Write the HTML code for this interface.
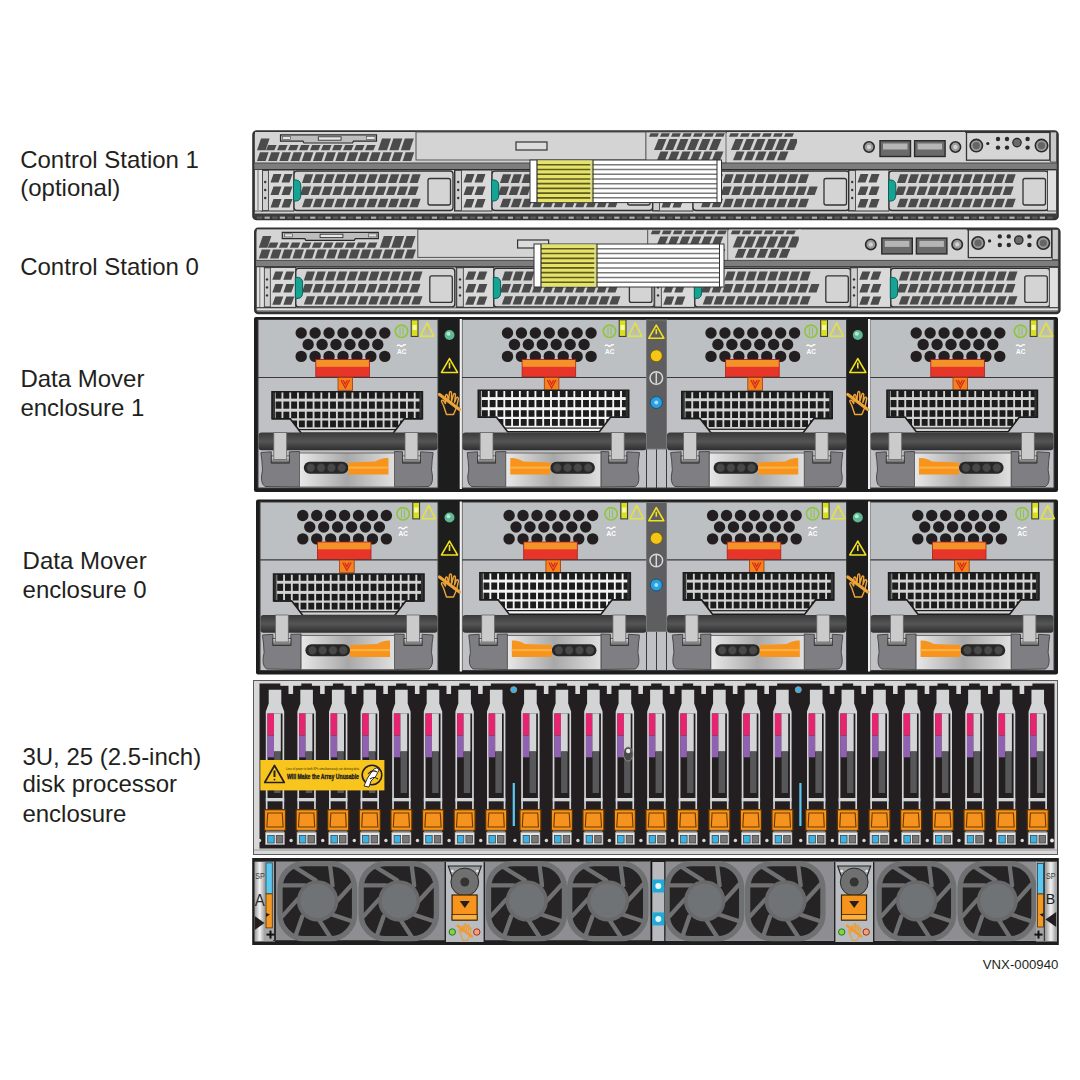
<!DOCTYPE html>
<html><head><meta charset="utf-8"><style>
html,body{margin:0;padding:0;background:#fff;}
svg{display:block;font-family:"Liberation Sans",sans-serif;}
</style></head><body>
<svg width="1080" height="1080" viewBox="0 0 1080 1080">
<defs>
<linearGradient id="rodg" x1="0" y1="0" x2="0" y2="1"><stop offset="0" stop-color="#3a3a3a"/><stop offset="0.5" stop-color="#555"/><stop offset="1" stop-color="#2e2e2e"/></linearGradient>
<linearGradient id="panelg" x1="0" y1="0" x2="1" y2="0"><stop offset="0" stop-color="#e8e8e8"/><stop offset="0.5" stop-color="#a8a8a8"/><stop offset="1" stop-color="#e0e0e0"/></linearGradient>
<linearGradient id="tabg" x1="0" y1="0" x2="0" y2="1"><stop offset="0" stop-color="#f0f0f0"/><stop offset="1" stop-color="#555"/></linearGradient>
<linearGradient id="metalg" x1="0" y1="0" x2="1" y2="0"><stop offset="0" stop-color="#9a9a9a"/><stop offset="0.5" stop-color="#f2f2f2"/><stop offset="1" stop-color="#a0a0a0"/></linearGradient>
</defs>
<text x="20.2" y="167.6" font-size="24" fill="#231f20">Control Station 1</text>
<text x="20.2" y="195.8" font-size="24" fill="#231f20">(optional)</text>
<text x="20.2" y="275.3" font-size="24" fill="#231f20">Control Station 0</text>
<text x="20.4" y="386.6" font-size="24" fill="#231f20">Data Mover</text>
<text x="20.4" y="415.8" font-size="24" fill="#231f20">enclosure 1</text>
<text x="22.6" y="569.3" font-size="24" fill="#231f20">Data Mover</text>
<text x="22.6" y="597.6" font-size="24" fill="#231f20">enclosure 0</text>
<text x="22.4" y="765" font-size="24" fill="#231f20">3U, 25 (2.5-inch)</text>
<text x="22.4" y="792" font-size="24" fill="#231f20">disk processor</text>
<text x="22.4" y="821.5" font-size="24" fill="#231f20">enclosure</text>
<text x="982.8" y="969.1" font-size="13.2" fill="#231f20" textLength="75.5" lengthAdjust="spacingAndGlyphs">VNX-000940</text>
<rect x="253.5" y="131.5" width="804" height="87.5" fill="#d4d4d4" stroke="#333" stroke-width="2.6" rx="3"/>
<rect x="254.5" y="213.5" width="802" height="5" fill="#3c3c3c"/>
<rect x="257" y="216.6" width="5.2" height="2.2" fill="#5e5e5e"/>
<rect x="264.6" y="216.6" width="5.2" height="2.2" fill="#b0b0b0"/>
<rect x="272.2" y="216.6" width="5.2" height="2.2" fill="#5e5e5e"/>
<rect x="279.8" y="216.6" width="5.2" height="2.2" fill="#b0b0b0"/>
<rect x="287.4" y="216.6" width="5.2" height="2.2" fill="#5e5e5e"/>
<rect x="295" y="216.6" width="5.2" height="2.2" fill="#b0b0b0"/>
<rect x="302.6" y="216.6" width="5.2" height="2.2" fill="#5e5e5e"/>
<rect x="310.2" y="216.6" width="5.2" height="2.2" fill="#b0b0b0"/>
<rect x="317.8" y="216.6" width="5.2" height="2.2" fill="#5e5e5e"/>
<rect x="325.4" y="216.6" width="5.2" height="2.2" fill="#b0b0b0"/>
<rect x="333" y="216.6" width="5.2" height="2.2" fill="#5e5e5e"/>
<rect x="340.6" y="216.6" width="5.2" height="2.2" fill="#b0b0b0"/>
<rect x="348.2" y="216.6" width="5.2" height="2.2" fill="#5e5e5e"/>
<rect x="355.8" y="216.6" width="5.2" height="2.2" fill="#b0b0b0"/>
<rect x="363.4" y="216.6" width="5.2" height="2.2" fill="#5e5e5e"/>
<rect x="371" y="216.6" width="5.2" height="2.2" fill="#b0b0b0"/>
<rect x="378.6" y="216.6" width="5.2" height="2.2" fill="#5e5e5e"/>
<rect x="386.2" y="216.6" width="5.2" height="2.2" fill="#b0b0b0"/>
<rect x="393.8" y="216.6" width="5.2" height="2.2" fill="#5e5e5e"/>
<rect x="401.4" y="216.6" width="5.2" height="2.2" fill="#b0b0b0"/>
<rect x="409" y="216.6" width="5.2" height="2.2" fill="#5e5e5e"/>
<rect x="416.6" y="216.6" width="5.2" height="2.2" fill="#b0b0b0"/>
<rect x="424.2" y="216.6" width="5.2" height="2.2" fill="#5e5e5e"/>
<rect x="431.8" y="216.6" width="5.2" height="2.2" fill="#b0b0b0"/>
<rect x="439.4" y="216.6" width="5.2" height="2.2" fill="#5e5e5e"/>
<rect x="447" y="216.6" width="5.2" height="2.2" fill="#b0b0b0"/>
<rect x="454.6" y="216.6" width="5.2" height="2.2" fill="#5e5e5e"/>
<rect x="462.2" y="216.6" width="5.2" height="2.2" fill="#b0b0b0"/>
<rect x="469.8" y="216.6" width="5.2" height="2.2" fill="#5e5e5e"/>
<rect x="477.4" y="216.6" width="5.2" height="2.2" fill="#b0b0b0"/>
<rect x="485" y="216.6" width="5.2" height="2.2" fill="#5e5e5e"/>
<rect x="492.6" y="216.6" width="5.2" height="2.2" fill="#b0b0b0"/>
<rect x="500.2" y="216.6" width="5.2" height="2.2" fill="#5e5e5e"/>
<rect x="507.8" y="216.6" width="5.2" height="2.2" fill="#b0b0b0"/>
<rect x="515.4" y="216.6" width="5.2" height="2.2" fill="#5e5e5e"/>
<rect x="523" y="216.6" width="5.2" height="2.2" fill="#b0b0b0"/>
<rect x="530.6" y="216.6" width="5.2" height="2.2" fill="#5e5e5e"/>
<rect x="538.2" y="216.6" width="5.2" height="2.2" fill="#b0b0b0"/>
<rect x="545.8" y="216.6" width="5.2" height="2.2" fill="#5e5e5e"/>
<rect x="553.4" y="216.6" width="5.2" height="2.2" fill="#b0b0b0"/>
<rect x="561" y="216.6" width="5.2" height="2.2" fill="#5e5e5e"/>
<rect x="568.6" y="216.6" width="5.2" height="2.2" fill="#b0b0b0"/>
<rect x="576.2" y="216.6" width="5.2" height="2.2" fill="#5e5e5e"/>
<rect x="583.8" y="216.6" width="5.2" height="2.2" fill="#b0b0b0"/>
<rect x="591.4" y="216.6" width="5.2" height="2.2" fill="#5e5e5e"/>
<rect x="599" y="216.6" width="5.2" height="2.2" fill="#b0b0b0"/>
<rect x="606.6" y="216.6" width="5.2" height="2.2" fill="#5e5e5e"/>
<rect x="614.2" y="216.6" width="5.2" height="2.2" fill="#b0b0b0"/>
<rect x="621.8" y="216.6" width="5.2" height="2.2" fill="#5e5e5e"/>
<rect x="629.4" y="216.6" width="5.2" height="2.2" fill="#b0b0b0"/>
<rect x="637" y="216.6" width="5.2" height="2.2" fill="#5e5e5e"/>
<rect x="644.6" y="216.6" width="5.2" height="2.2" fill="#b0b0b0"/>
<rect x="652.2" y="216.6" width="5.2" height="2.2" fill="#5e5e5e"/>
<rect x="659.8" y="216.6" width="5.2" height="2.2" fill="#b0b0b0"/>
<rect x="667.4" y="216.6" width="5.2" height="2.2" fill="#5e5e5e"/>
<rect x="675" y="216.6" width="5.2" height="2.2" fill="#b0b0b0"/>
<rect x="682.6" y="216.6" width="5.2" height="2.2" fill="#5e5e5e"/>
<rect x="690.2" y="216.6" width="5.2" height="2.2" fill="#b0b0b0"/>
<rect x="697.8" y="216.6" width="5.2" height="2.2" fill="#5e5e5e"/>
<rect x="705.4" y="216.6" width="5.2" height="2.2" fill="#b0b0b0"/>
<rect x="713" y="216.6" width="5.2" height="2.2" fill="#5e5e5e"/>
<rect x="720.6" y="216.6" width="5.2" height="2.2" fill="#b0b0b0"/>
<rect x="728.2" y="216.6" width="5.2" height="2.2" fill="#5e5e5e"/>
<rect x="735.8" y="216.6" width="5.2" height="2.2" fill="#b0b0b0"/>
<rect x="743.4" y="216.6" width="5.2" height="2.2" fill="#5e5e5e"/>
<rect x="751" y="216.6" width="5.2" height="2.2" fill="#b0b0b0"/>
<rect x="758.6" y="216.6" width="5.2" height="2.2" fill="#5e5e5e"/>
<rect x="766.2" y="216.6" width="5.2" height="2.2" fill="#b0b0b0"/>
<rect x="773.8" y="216.6" width="5.2" height="2.2" fill="#5e5e5e"/>
<rect x="781.4" y="216.6" width="5.2" height="2.2" fill="#b0b0b0"/>
<rect x="789" y="216.6" width="5.2" height="2.2" fill="#5e5e5e"/>
<rect x="796.6" y="216.6" width="5.2" height="2.2" fill="#b0b0b0"/>
<rect x="804.2" y="216.6" width="5.2" height="2.2" fill="#5e5e5e"/>
<rect x="811.8" y="216.6" width="5.2" height="2.2" fill="#b0b0b0"/>
<rect x="819.4" y="216.6" width="5.2" height="2.2" fill="#5e5e5e"/>
<rect x="827" y="216.6" width="5.2" height="2.2" fill="#b0b0b0"/>
<rect x="834.6" y="216.6" width="5.2" height="2.2" fill="#5e5e5e"/>
<rect x="842.2" y="216.6" width="5.2" height="2.2" fill="#b0b0b0"/>
<rect x="849.8" y="216.6" width="5.2" height="2.2" fill="#5e5e5e"/>
<rect x="857.4" y="216.6" width="5.2" height="2.2" fill="#b0b0b0"/>
<rect x="865" y="216.6" width="5.2" height="2.2" fill="#5e5e5e"/>
<rect x="872.6" y="216.6" width="5.2" height="2.2" fill="#b0b0b0"/>
<rect x="880.2" y="216.6" width="5.2" height="2.2" fill="#5e5e5e"/>
<rect x="887.8" y="216.6" width="5.2" height="2.2" fill="#b0b0b0"/>
<rect x="895.4" y="216.6" width="5.2" height="2.2" fill="#5e5e5e"/>
<rect x="903" y="216.6" width="5.2" height="2.2" fill="#b0b0b0"/>
<rect x="910.6" y="216.6" width="5.2" height="2.2" fill="#5e5e5e"/>
<rect x="918.2" y="216.6" width="5.2" height="2.2" fill="#b0b0b0"/>
<rect x="925.8" y="216.6" width="5.2" height="2.2" fill="#5e5e5e"/>
<rect x="933.4" y="216.6" width="5.2" height="2.2" fill="#b0b0b0"/>
<rect x="941" y="216.6" width="5.2" height="2.2" fill="#5e5e5e"/>
<rect x="948.6" y="216.6" width="5.2" height="2.2" fill="#b0b0b0"/>
<rect x="956.2" y="216.6" width="5.2" height="2.2" fill="#5e5e5e"/>
<rect x="963.8" y="216.6" width="5.2" height="2.2" fill="#b0b0b0"/>
<rect x="971.4" y="216.6" width="5.2" height="2.2" fill="#5e5e5e"/>
<rect x="979" y="216.6" width="5.2" height="2.2" fill="#b0b0b0"/>
<rect x="986.6" y="216.6" width="5.2" height="2.2" fill="#5e5e5e"/>
<rect x="994.2" y="216.6" width="5.2" height="2.2" fill="#b0b0b0"/>
<rect x="1001.8" y="216.6" width="5.2" height="2.2" fill="#5e5e5e"/>
<rect x="1009.4" y="216.6" width="5.2" height="2.2" fill="#b0b0b0"/>
<rect x="1017" y="216.6" width="5.2" height="2.2" fill="#5e5e5e"/>
<rect x="1024.6" y="216.6" width="5.2" height="2.2" fill="#b0b0b0"/>
<rect x="1032.2" y="216.6" width="5.2" height="2.2" fill="#5e5e5e"/>
<rect x="1039.8" y="216.6" width="5.2" height="2.2" fill="#b0b0b0"/>
<rect x="1047.4" y="216.6" width="5.2" height="2.2" fill="#5e5e5e"/>
<rect x="255" y="132" width="161" height="31" fill="#d4d4d4"/>
<polygon points="260,152.2 268.6,152.2 265.6,161 257,161" fill="#4b4b4b"/>
<polygon points="271.2,152.2 279.8,152.2 276.8,161 268.2,161" fill="#4b4b4b"/>
<polygon points="282.4,152.2 291,152.2 288,161 279.4,161" fill="#4b4b4b"/>
<polygon points="293.6,152.2 302.2,152.2 299.2,161 290.6,161" fill="#4b4b4b"/>
<polygon points="304.8,152.2 313.4,152.2 310.4,161 301.8,161" fill="#4b4b4b"/>
<polygon points="316,152.2 324.6,152.2 321.6,161 313,161" fill="#4b4b4b"/>
<polygon points="327.2,152.2 335.8,152.2 332.8,161 324.2,161" fill="#4b4b4b"/>
<polygon points="338.4,152.2 347,152.2 344,161 335.4,161" fill="#4b4b4b"/>
<polygon points="349.6,152.2 358.2,152.2 355.2,161 346.6,161" fill="#4b4b4b"/>
<polygon points="360.8,152.2 369.4,152.2 366.4,161 357.8,161" fill="#4b4b4b"/>
<polygon points="372,152.2 380.6,152.2 377.6,161 369,161" fill="#4b4b4b"/>
<polygon points="383.2,152.2 391.8,152.2 388.8,161 380.2,161" fill="#4b4b4b"/>
<polygon points="394.4,152.2 403,152.2 400,161 391.4,161" fill="#4b4b4b"/>
<polygon points="405.6,152.2 414.2,152.2 411.2,161 402.6,161" fill="#4b4b4b"/>
<polygon points="268.2,145 276.6,145 274.4,150.3 266,150.3" fill="#4b4b4b"/>
<polygon points="279.2,145 287.6,145 285.4,150.3 277,150.3" fill="#4b4b4b"/>
<polygon points="290.2,145 298.6,145 296.4,150.3 288,150.3" fill="#4b4b4b"/>
<polygon points="301.2,145 309.6,145 307.4,150.3 299,150.3" fill="#4b4b4b"/>
<polygon points="312.2,145 320.6,145 318.4,150.3 310,150.3" fill="#4b4b4b"/>
<polygon points="323.2,145 331.6,145 329.4,150.3 321,150.3" fill="#4b4b4b"/>
<polygon points="334.2,145 342.6,145 340.4,150.3 332,150.3" fill="#4b4b4b"/>
<polygon points="345.2,145 353.6,145 351.4,150.3 343,150.3" fill="#4b4b4b"/>
<polygon points="356.2,145 364.6,145 362.4,150.3 354,150.3" fill="#4b4b4b"/>
<polygon points="367.2,145 375.6,145 373.4,150.3 365,150.3" fill="#4b4b4b"/>
<polygon points="261,138.6 269.6,138.6 265.6,150.3 257,150.3" fill="#4b4b4b"/>
<polygon points="382,138.6 391,138.6 387,150.3 378,150.3" fill="#4b4b4b"/>
<polygon points="393.4,138.6 402.4,138.6 398.4,150.3 389.4,150.3" fill="#4b4b4b"/>
<polygon points="404.8,138.6 413.8,138.6 409.8,150.3 400.8,150.3" fill="#4b4b4b"/>
<path d="M280.5,134.9 L376.5,134.9 L376.5,141.2 L353.5,141.2 L352.5,143 L304,143 L303,141.2 L280.5,141.2 Z" fill="#bdbdbd" stroke="#2a2a2a" stroke-width="1.2"/>
<rect x="282.5" y="136.5" width="8" height="3" fill="#e6e6e6" stroke="#444" stroke-width="0.6"/>
<rect x="366.5" y="136.5" width="8.5" height="3" fill="#e6e6e6" stroke="#444" stroke-width="0.6"/>
<rect x="318.3" y="136.8" width="22.8" height="3.4" fill="#e8e8e8" stroke="#333" stroke-width="0.9"/>
<rect x="416" y="132" width="230" height="28" fill="#d4d4d4" stroke="#555" stroke-width="1"/>
<rect x="516" y="142" width="31" height="8" fill="#dcdcdc" stroke="#333" stroke-width="1.2"/>
<rect x="646" y="132" width="80" height="31" fill="#d4d4d4" stroke="#555" stroke-width="0.8"/>
<rect x="727" y="132" width="72" height="31" fill="#d4d4d4"/>
<polygon points="650.5,133.2 658.9,133.2 657.4,136.8 649,136.8" fill="#4b4b4b"/>
<polygon points="661.5,133.2 669.9,133.2 668.4,136.8 660,136.8" fill="#4b4b4b"/>
<polygon points="672.5,133.2 680.9,133.2 679.4,136.8 671,136.8" fill="#4b4b4b"/>
<polygon points="683.5,133.2 691.9,133.2 690.4,136.8 682,136.8" fill="#4b4b4b"/>
<polygon points="694.5,133.2 702.9,133.2 701.4,136.8 693,136.8" fill="#4b4b4b"/>
<polygon points="705.5,133.2 713.9,133.2 712.4,136.8 704,136.8" fill="#4b4b4b"/>
<polygon points="716.5,133.2 724.9,133.2 723.4,136.8 715,136.8" fill="#4b4b4b"/>
<polygon points="658.5,139 666.5,139 662,150 654,150" fill="#4b4b4b"/>
<polygon points="669.5,139 677.5,139 673,150 665,150" fill="#4b4b4b"/>
<polygon points="680.5,139 688.5,139 684,150 676,150" fill="#4b4b4b"/>
<polygon points="691.5,139 699.5,139 695,150 687,150" fill="#4b4b4b"/>
<polygon points="702.5,139 710.5,139 706,150 698,150" fill="#4b4b4b"/>
<polygon points="713.5,139 721.5,139 717,150 709,150" fill="#4b4b4b"/>
<polygon points="660.5,151.6 668.5,151.6 665,160.3 657,160.3" fill="#4b4b4b"/>
<polygon points="671.5,151.6 679.5,151.6 676,160.3 668,160.3" fill="#4b4b4b"/>
<polygon points="682.5,151.6 690.5,151.6 687,160.3 679,160.3" fill="#4b4b4b"/>
<polygon points="693.5,151.6 701.5,151.6 698,160.3 690,160.3" fill="#4b4b4b"/>
<polygon points="704.5,151.6 712.5,151.6 709,160.3 701,160.3" fill="#4b4b4b"/>
<polygon points="715.5,151.6 723.5,151.6 720,160.3 712,160.3" fill="#4b4b4b"/>
<polygon points="730.5,133.2 738.9,133.2 737.4,136.8 729,136.8" fill="#4b4b4b"/>
<polygon points="741.5,133.2 749.9,133.2 748.4,136.8 740,136.8" fill="#4b4b4b"/>
<polygon points="752.5,133.2 760.9,133.2 759.4,136.8 751,136.8" fill="#4b4b4b"/>
<polygon points="763.5,133.2 771.9,133.2 770.4,136.8 762,136.8" fill="#4b4b4b"/>
<polygon points="774.5,133.2 782.9,133.2 781.4,136.8 773,136.8" fill="#4b4b4b"/>
<polygon points="785.5,133.2 793.9,133.2 792.4,136.8 784,136.8" fill="#4b4b4b"/>
<polygon points="735.5,139 743.5,139 739,150 731,150" fill="#4b4b4b"/>
<polygon points="746.5,139 754.5,139 750,150 742,150" fill="#4b4b4b"/>
<polygon points="757.5,139 765.5,139 761,150 753,150" fill="#4b4b4b"/>
<polygon points="768.5,139 776.5,139 772,150 764,150" fill="#4b4b4b"/>
<polygon points="779.5,139 787.5,139 783,150 775,150" fill="#4b4b4b"/>
<polygon points="790.5,139 798.5,139 794,150 786,150" fill="#4b4b4b"/>
<polygon points="736.5,151.6 744.5,151.6 741,160.3 733,160.3" fill="#4b4b4b"/>
<polygon points="747.5,151.6 755.5,151.6 752,160.3 744,160.3" fill="#4b4b4b"/>
<polygon points="758.5,151.6 766.5,151.6 763,160.3 755,160.3" fill="#4b4b4b"/>
<polygon points="769.5,151.6 777.5,151.6 774,160.3 766,160.3" fill="#4b4b4b"/>
<polygon points="780.5,151.6 788.5,151.6 785,160.3 777,160.3" fill="#4b4b4b"/>
<rect x="797" y="132" width="168" height="31" fill="#d4d4d4"/>
<circle cx="869" cy="147" r="5.2" fill="#9a9a9a" stroke="#2a2a2a" stroke-width="1.6"/>
<circle cx="869" cy="147" r="2.2" fill="#d0d0d0"/>
<circle cx="955.4" cy="147" r="5.2" fill="#9a9a9a" stroke="#2a2a2a" stroke-width="1.6"/>
<circle cx="955.4" cy="147" r="2.2" fill="#d0d0d0"/>
<rect x="880" y="140.7" width="30.5" height="15.8" fill="#6a6a6a" stroke="#2a2a2a" stroke-width="1.4"/>
<rect x="883" y="143.5" width="24.5" height="6" fill="#b5b5b5"/>
<rect x="914.6" y="140.7" width="30.5" height="15.8" fill="#6a6a6a" stroke="#2a2a2a" stroke-width="1.4"/>
<rect x="917.6" y="143.5" width="24.5" height="6" fill="#b5b5b5"/>
<rect x="966.5" y="132.4" width="83.3" height="27.8" fill="#d6d6d6" stroke="#333" stroke-width="1.3"/>
<circle cx="976.3" cy="145.6" r="6.2" fill="#9a9a9a" stroke="#2a2a2a" stroke-width="1.6"/>
<circle cx="976.3" cy="145.6" r="3.6" fill="#666"/>
<circle cx="1041.5" cy="145.6" r="6.2" fill="#9a9a9a" stroke="#2a2a2a" stroke-width="1.6"/>
<circle cx="1041.5" cy="145.6" r="3.6" fill="#666"/>
<circle cx="987.8" cy="143.5" r="1.6" fill="#222"/>
<circle cx="998" cy="139" r="2.2" fill="#2a2a2a"/>
<circle cx="998" cy="147.6" r="2.2" fill="#2a2a2a"/>
<circle cx="1007" cy="139" r="2.2" fill="#2a2a2a"/>
<circle cx="1007" cy="147.6" r="2.2" fill="#2a2a2a"/>
<circle cx="1027.6" cy="139" r="2.2" fill="#2a2a2a"/>
<circle cx="1027.6" cy="147.6" r="2.2" fill="#2a2a2a"/>
<circle cx="1017" cy="142.6" r="4.2" fill="#6a6a6a" stroke="#222" stroke-width="1.2"/>
<rect x="1050.5" y="132" width="6" height="30" fill="#c8c8c8" stroke="#444" stroke-width="0.8"/>
<rect x="254.5" y="163" width="802" height="6.5" fill="#7d7d7d"/>
<line x1="254.5" y1="163" x2="1056.5" y2="163" stroke="#4a4a4a" stroke-width="1"/>
<line x1="254.5" y1="169.5" x2="1056.5" y2="169.5" stroke="#2a2a2a" stroke-width="1.2"/>
<rect x="261.5" y="170" width="32.5" height="41" fill="#dadada" stroke="#333" stroke-width="1"/>
<rect x="262" y="170.5" width="6.5" height="40" fill="#cfcfcf" stroke="#333" stroke-width="0.8"/>
<circle cx="265.2" cy="182" r="1.2" fill="#333"/>
<circle cx="265.2" cy="190" r="1.2" fill="#333"/>
<circle cx="265.2" cy="198" r="1.2" fill="#333"/>
<polygon points="273.5,174 281.5,174 278.5,182.4 270.5,182.4" fill="#4b4b4b"/>
<polygon points="284.5,174 292.5,174 289.5,182.4 281.5,182.4" fill="#4b4b4b"/>
<polygon points="273.5,186.5 281.5,186.5 278.5,195 270.5,195" fill="#4b4b4b"/>
<polygon points="284.5,186.5 292.5,186.5 289.5,195 281.5,195" fill="#4b4b4b"/>
<polygon points="273.5,199 281.5,199 278.5,207.4 270.5,207.4" fill="#4b4b4b"/>
<polygon points="284.5,199 292.5,199 289.5,207.4 281.5,207.4" fill="#4b4b4b"/>
<rect x="294" y="171" width="159" height="39.5" fill="#d4d4d4" stroke="#2e2e2e" stroke-width="1.3" rx="3"/>
<polygon points="305,174.2 313.2,174.2 310.2,183 302,183" fill="#4b4b4b"/>
<polygon points="315.75,174.2 323.95,174.2 320.95,183 312.75,183" fill="#4b4b4b"/>
<polygon points="326.5,174.2 334.7,174.2 331.7,183 323.5,183" fill="#4b4b4b"/>
<polygon points="337.25,174.2 345.45,174.2 342.45,183 334.25,183" fill="#4b4b4b"/>
<polygon points="348,174.2 356.2,174.2 353.2,183 345,183" fill="#4b4b4b"/>
<polygon points="358.75,174.2 366.95,174.2 363.95,183 355.75,183" fill="#4b4b4b"/>
<polygon points="369.5,174.2 377.7,174.2 374.7,183 366.5,183" fill="#4b4b4b"/>
<polygon points="380.25,174.2 388.45,174.2 385.45,183 377.25,183" fill="#4b4b4b"/>
<polygon points="391,174.2 399.2,174.2 396.2,183 388,183" fill="#4b4b4b"/>
<polygon points="401.75,174.2 409.95,174.2 406.95,183 398.75,183" fill="#4b4b4b"/>
<polygon points="412.5,174.2 420.7,174.2 417.7,183 409.5,183" fill="#4b4b4b"/>
<polygon points="303,186.5 311.2,186.5 308.2,195 300,195" fill="#4b4b4b"/>
<polygon points="313.75,186.5 321.95,186.5 318.95,195 310.75,195" fill="#4b4b4b"/>
<polygon points="324.5,186.5 332.7,186.5 329.7,195 321.5,195" fill="#4b4b4b"/>
<polygon points="335.25,186.5 343.45,186.5 340.45,195 332.25,195" fill="#4b4b4b"/>
<polygon points="346,186.5 354.2,186.5 351.2,195 343,195" fill="#4b4b4b"/>
<polygon points="356.75,186.5 364.95,186.5 361.95,195 353.75,195" fill="#4b4b4b"/>
<polygon points="367.5,186.5 375.7,186.5 372.7,195 364.5,195" fill="#4b4b4b"/>
<polygon points="378.25,186.5 386.45,186.5 383.45,195 375.25,195" fill="#4b4b4b"/>
<polygon points="389,186.5 397.2,186.5 394.2,195 386,195" fill="#4b4b4b"/>
<polygon points="399.75,186.5 407.95,186.5 404.95,195 396.75,195" fill="#4b4b4b"/>
<polygon points="410.5,186.5 418.7,186.5 415.7,195 407.5,195" fill="#4b4b4b"/>
<polygon points="305,198.8 313.2,198.8 310.2,207.2 302,207.2" fill="#4b4b4b"/>
<polygon points="315.75,198.8 323.95,198.8 320.95,207.2 312.75,207.2" fill="#4b4b4b"/>
<polygon points="326.5,198.8 334.7,198.8 331.7,207.2 323.5,207.2" fill="#4b4b4b"/>
<polygon points="337.25,198.8 345.45,198.8 342.45,207.2 334.25,207.2" fill="#4b4b4b"/>
<polygon points="348,198.8 356.2,198.8 353.2,207.2 345,207.2" fill="#4b4b4b"/>
<polygon points="358.75,198.8 366.95,198.8 363.95,207.2 355.75,207.2" fill="#4b4b4b"/>
<polygon points="369.5,198.8 377.7,198.8 374.7,207.2 366.5,207.2" fill="#4b4b4b"/>
<polygon points="380.25,198.8 388.45,198.8 385.45,207.2 377.25,207.2" fill="#4b4b4b"/>
<polygon points="391,198.8 399.2,198.8 396.2,207.2 388,207.2" fill="#4b4b4b"/>
<polygon points="401.75,198.8 409.95,198.8 406.95,207.2 398.75,207.2" fill="#4b4b4b"/>
<polygon points="412.5,198.8 420.7,198.8 417.7,207.2 409.5,207.2" fill="#4b4b4b"/>
<rect x="428" y="178.5" width="22.5" height="26.5" fill="#d4d4d4" stroke="#333" stroke-width="1.3" rx="2"/>
<path d="M293.5,180 L296.5,180 Q300.8,180.5 300.8,186 L300.8,195 Q300.8,200.5 296.5,201 L293.5,201 Z" fill="#17a394" stroke="#0d5e57" stroke-width="1"/>
<rect x="454.5" y="170" width="37.5" height="41" fill="#dadada" stroke="#333" stroke-width="1"/>
<rect x="455" y="170.5" width="6.5" height="40" fill="#cfcfcf" stroke="#333" stroke-width="0.8"/>
<circle cx="458.2" cy="182" r="1.2" fill="#333"/>
<circle cx="458.2" cy="190" r="1.2" fill="#333"/>
<circle cx="458.2" cy="198" r="1.2" fill="#333"/>
<polygon points="466.5,174 474.5,174 471.5,182.4 463.5,182.4" fill="#4b4b4b"/>
<polygon points="477.5,174 485.5,174 482.5,182.4 474.5,182.4" fill="#4b4b4b"/>
<polygon points="466.5,186.5 474.5,186.5 471.5,195 463.5,195" fill="#4b4b4b"/>
<polygon points="477.5,186.5 485.5,186.5 482.5,195 474.5,195" fill="#4b4b4b"/>
<polygon points="466.5,199 474.5,199 471.5,207.4 463.5,207.4" fill="#4b4b4b"/>
<polygon points="477.5,199 485.5,199 482.5,207.4 474.5,207.4" fill="#4b4b4b"/>
<rect x="492" y="171" width="160.6" height="39.5" fill="#d4d4d4" stroke="#2e2e2e" stroke-width="1.3" rx="3"/>
<polygon points="503,174.2 511.2,174.2 508.2,183 500,183" fill="#4b4b4b"/>
<polygon points="513.75,174.2 521.95,174.2 518.95,183 510.75,183" fill="#4b4b4b"/>
<polygon points="524.5,174.2 532.7,174.2 529.7,183 521.5,183" fill="#4b4b4b"/>
<polygon points="535.25,174.2 543.45,174.2 540.45,183 532.25,183" fill="#4b4b4b"/>
<polygon points="546,174.2 554.2,174.2 551.2,183 543,183" fill="#4b4b4b"/>
<polygon points="556.75,174.2 564.95,174.2 561.95,183 553.75,183" fill="#4b4b4b"/>
<polygon points="567.5,174.2 575.7,174.2 572.7,183 564.5,183" fill="#4b4b4b"/>
<polygon points="578.25,174.2 586.45,174.2 583.45,183 575.25,183" fill="#4b4b4b"/>
<polygon points="589,174.2 597.2,174.2 594.2,183 586,183" fill="#4b4b4b"/>
<polygon points="599.75,174.2 607.95,174.2 604.95,183 596.75,183" fill="#4b4b4b"/>
<polygon points="610.5,174.2 618.7,174.2 615.7,183 607.5,183" fill="#4b4b4b"/>
<polygon points="501,186.5 509.2,186.5 506.2,195 498,195" fill="#4b4b4b"/>
<polygon points="511.75,186.5 519.95,186.5 516.95,195 508.75,195" fill="#4b4b4b"/>
<polygon points="522.5,186.5 530.7,186.5 527.7,195 519.5,195" fill="#4b4b4b"/>
<polygon points="533.25,186.5 541.45,186.5 538.45,195 530.25,195" fill="#4b4b4b"/>
<polygon points="544,186.5 552.2,186.5 549.2,195 541,195" fill="#4b4b4b"/>
<polygon points="554.75,186.5 562.95,186.5 559.95,195 551.75,195" fill="#4b4b4b"/>
<polygon points="565.5,186.5 573.7,186.5 570.7,195 562.5,195" fill="#4b4b4b"/>
<polygon points="576.25,186.5 584.45,186.5 581.45,195 573.25,195" fill="#4b4b4b"/>
<polygon points="587,186.5 595.2,186.5 592.2,195 584,195" fill="#4b4b4b"/>
<polygon points="597.75,186.5 605.95,186.5 602.95,195 594.75,195" fill="#4b4b4b"/>
<polygon points="608.5,186.5 616.7,186.5 613.7,195 605.5,195" fill="#4b4b4b"/>
<polygon points="503,198.8 511.2,198.8 508.2,207.2 500,207.2" fill="#4b4b4b"/>
<polygon points="513.75,198.8 521.95,198.8 518.95,207.2 510.75,207.2" fill="#4b4b4b"/>
<polygon points="524.5,198.8 532.7,198.8 529.7,207.2 521.5,207.2" fill="#4b4b4b"/>
<polygon points="535.25,198.8 543.45,198.8 540.45,207.2 532.25,207.2" fill="#4b4b4b"/>
<polygon points="546,198.8 554.2,198.8 551.2,207.2 543,207.2" fill="#4b4b4b"/>
<polygon points="556.75,198.8 564.95,198.8 561.95,207.2 553.75,207.2" fill="#4b4b4b"/>
<polygon points="567.5,198.8 575.7,198.8 572.7,207.2 564.5,207.2" fill="#4b4b4b"/>
<polygon points="578.25,198.8 586.45,198.8 583.45,207.2 575.25,207.2" fill="#4b4b4b"/>
<polygon points="589,198.8 597.2,198.8 594.2,207.2 586,207.2" fill="#4b4b4b"/>
<polygon points="599.75,198.8 607.95,198.8 604.95,207.2 596.75,207.2" fill="#4b4b4b"/>
<polygon points="610.5,198.8 618.7,198.8 615.7,207.2 607.5,207.2" fill="#4b4b4b"/>
<rect x="627.6" y="178.5" width="22.5" height="26.5" fill="#d4d4d4" stroke="#333" stroke-width="1.3" rx="2"/>
<path d="M491.5,180 L494.5,180 Q498.8,180.5 498.8,186 L498.8,195 Q498.8,200.5 494.5,201 L491.5,201 Z" fill="#17a394" stroke="#0d5e57" stroke-width="1"/>
<rect x="652.5" y="170" width="40.5" height="41" fill="#dadada" stroke="#333" stroke-width="1"/>
<rect x="653" y="170.5" width="6.5" height="40" fill="#cfcfcf" stroke="#333" stroke-width="0.8"/>
<circle cx="656.2" cy="182" r="1.2" fill="#333"/>
<circle cx="656.2" cy="190" r="1.2" fill="#333"/>
<circle cx="656.2" cy="198" r="1.2" fill="#333"/>
<polygon points="664.5,174 672.5,174 669.5,182.4 661.5,182.4" fill="#4b4b4b"/>
<polygon points="675.5,174 683.5,174 680.5,182.4 672.5,182.4" fill="#4b4b4b"/>
<polygon points="664.5,186.5 672.5,186.5 669.5,195 661.5,195" fill="#4b4b4b"/>
<polygon points="675.5,186.5 683.5,186.5 680.5,195 672.5,195" fill="#4b4b4b"/>
<polygon points="664.5,199 672.5,199 669.5,207.4 661.5,207.4" fill="#4b4b4b"/>
<polygon points="675.5,199 683.5,199 680.5,207.4 672.5,207.4" fill="#4b4b4b"/>
<rect x="693" y="171" width="156" height="39.5" fill="#d4d4d4" stroke="#2e2e2e" stroke-width="1.3" rx="3"/>
<polygon points="704,174.2 712.2,174.2 709.2,183 701,183" fill="#4b4b4b"/>
<polygon points="714.75,174.2 722.95,174.2 719.95,183 711.75,183" fill="#4b4b4b"/>
<polygon points="725.5,174.2 733.7,174.2 730.7,183 722.5,183" fill="#4b4b4b"/>
<polygon points="736.25,174.2 744.45,174.2 741.45,183 733.25,183" fill="#4b4b4b"/>
<polygon points="747,174.2 755.2,174.2 752.2,183 744,183" fill="#4b4b4b"/>
<polygon points="757.75,174.2 765.95,174.2 762.95,183 754.75,183" fill="#4b4b4b"/>
<polygon points="768.5,174.2 776.7,174.2 773.7,183 765.5,183" fill="#4b4b4b"/>
<polygon points="779.25,174.2 787.45,174.2 784.45,183 776.25,183" fill="#4b4b4b"/>
<polygon points="790,174.2 798.2,174.2 795.2,183 787,183" fill="#4b4b4b"/>
<polygon points="800.75,174.2 808.95,174.2 805.95,183 797.75,183" fill="#4b4b4b"/>
<polygon points="702,186.5 710.2,186.5 707.2,195 699,195" fill="#4b4b4b"/>
<polygon points="712.75,186.5 720.95,186.5 717.95,195 709.75,195" fill="#4b4b4b"/>
<polygon points="723.5,186.5 731.7,186.5 728.7,195 720.5,195" fill="#4b4b4b"/>
<polygon points="734.25,186.5 742.45,186.5 739.45,195 731.25,195" fill="#4b4b4b"/>
<polygon points="745,186.5 753.2,186.5 750.2,195 742,195" fill="#4b4b4b"/>
<polygon points="755.75,186.5 763.95,186.5 760.95,195 752.75,195" fill="#4b4b4b"/>
<polygon points="766.5,186.5 774.7,186.5 771.7,195 763.5,195" fill="#4b4b4b"/>
<polygon points="777.25,186.5 785.45,186.5 782.45,195 774.25,195" fill="#4b4b4b"/>
<polygon points="788,186.5 796.2,186.5 793.2,195 785,195" fill="#4b4b4b"/>
<polygon points="798.75,186.5 806.95,186.5 803.95,195 795.75,195" fill="#4b4b4b"/>
<polygon points="809.5,186.5 817.7,186.5 814.7,195 806.5,195" fill="#4b4b4b"/>
<polygon points="704,198.8 712.2,198.8 709.2,207.2 701,207.2" fill="#4b4b4b"/>
<polygon points="714.75,198.8 722.95,198.8 719.95,207.2 711.75,207.2" fill="#4b4b4b"/>
<polygon points="725.5,198.8 733.7,198.8 730.7,207.2 722.5,207.2" fill="#4b4b4b"/>
<polygon points="736.25,198.8 744.45,198.8 741.45,207.2 733.25,207.2" fill="#4b4b4b"/>
<polygon points="747,198.8 755.2,198.8 752.2,207.2 744,207.2" fill="#4b4b4b"/>
<polygon points="757.75,198.8 765.95,198.8 762.95,207.2 754.75,207.2" fill="#4b4b4b"/>
<polygon points="768.5,198.8 776.7,198.8 773.7,207.2 765.5,207.2" fill="#4b4b4b"/>
<polygon points="779.25,198.8 787.45,198.8 784.45,207.2 776.25,207.2" fill="#4b4b4b"/>
<polygon points="790,198.8 798.2,198.8 795.2,207.2 787,207.2" fill="#4b4b4b"/>
<polygon points="800.75,198.8 808.95,198.8 805.95,207.2 797.75,207.2" fill="#4b4b4b"/>
<rect x="824" y="178.5" width="22.5" height="26.5" fill="#d4d4d4" stroke="#333" stroke-width="1.3" rx="2"/>
<path d="M692.5,180 L695.5,180 Q699.8,180.5 699.8,186 L699.8,195 Q699.8,200.5 695.5,201 L692.5,201 Z" fill="#17a394" stroke="#0d5e57" stroke-width="1"/>
<rect x="848.5" y="170" width="40.5" height="41" fill="#dadada" stroke="#333" stroke-width="1"/>
<rect x="849" y="170.5" width="6.5" height="40" fill="#cfcfcf" stroke="#333" stroke-width="0.8"/>
<circle cx="852.2" cy="182" r="1.2" fill="#333"/>
<circle cx="852.2" cy="190" r="1.2" fill="#333"/>
<circle cx="852.2" cy="198" r="1.2" fill="#333"/>
<polygon points="860.5,174 868.5,174 865.5,182.4 857.5,182.4" fill="#4b4b4b"/>
<polygon points="871.5,174 879.5,174 876.5,182.4 868.5,182.4" fill="#4b4b4b"/>
<polygon points="860.5,186.5 868.5,186.5 865.5,195 857.5,195" fill="#4b4b4b"/>
<polygon points="871.5,186.5 879.5,186.5 876.5,195 868.5,195" fill="#4b4b4b"/>
<polygon points="860.5,199 868.5,199 865.5,207.4 857.5,207.4" fill="#4b4b4b"/>
<polygon points="871.5,199 879.5,199 876.5,207.4 868.5,207.4" fill="#4b4b4b"/>
<rect x="889" y="171" width="159" height="39.5" fill="#d4d4d4" stroke="#2e2e2e" stroke-width="1.3" rx="3"/>
<polygon points="900,174.2 908.2,174.2 905.2,183 897,183" fill="#4b4b4b"/>
<polygon points="910.75,174.2 918.95,174.2 915.95,183 907.75,183" fill="#4b4b4b"/>
<polygon points="921.5,174.2 929.7,174.2 926.7,183 918.5,183" fill="#4b4b4b"/>
<polygon points="932.25,174.2 940.45,174.2 937.45,183 929.25,183" fill="#4b4b4b"/>
<polygon points="943,174.2 951.2,174.2 948.2,183 940,183" fill="#4b4b4b"/>
<polygon points="953.75,174.2 961.95,174.2 958.95,183 950.75,183" fill="#4b4b4b"/>
<polygon points="964.5,174.2 972.7,174.2 969.7,183 961.5,183" fill="#4b4b4b"/>
<polygon points="975.25,174.2 983.45,174.2 980.45,183 972.25,183" fill="#4b4b4b"/>
<polygon points="986,174.2 994.2,174.2 991.2,183 983,183" fill="#4b4b4b"/>
<polygon points="996.75,174.2 1004.95,174.2 1001.95,183 993.75,183" fill="#4b4b4b"/>
<polygon points="1007.5,174.2 1015.7,174.2 1012.7,183 1004.5,183" fill="#4b4b4b"/>
<polygon points="898,186.5 906.2,186.5 903.2,195 895,195" fill="#4b4b4b"/>
<polygon points="908.75,186.5 916.95,186.5 913.95,195 905.75,195" fill="#4b4b4b"/>
<polygon points="919.5,186.5 927.7,186.5 924.7,195 916.5,195" fill="#4b4b4b"/>
<polygon points="930.25,186.5 938.45,186.5 935.45,195 927.25,195" fill="#4b4b4b"/>
<polygon points="941,186.5 949.2,186.5 946.2,195 938,195" fill="#4b4b4b"/>
<polygon points="951.75,186.5 959.95,186.5 956.95,195 948.75,195" fill="#4b4b4b"/>
<polygon points="962.5,186.5 970.7,186.5 967.7,195 959.5,195" fill="#4b4b4b"/>
<polygon points="973.25,186.5 981.45,186.5 978.45,195 970.25,195" fill="#4b4b4b"/>
<polygon points="984,186.5 992.2,186.5 989.2,195 981,195" fill="#4b4b4b"/>
<polygon points="994.75,186.5 1002.95,186.5 999.95,195 991.75,195" fill="#4b4b4b"/>
<polygon points="1005.5,186.5 1013.7,186.5 1010.7,195 1002.5,195" fill="#4b4b4b"/>
<polygon points="900,198.8 908.2,198.8 905.2,207.2 897,207.2" fill="#4b4b4b"/>
<polygon points="910.75,198.8 918.95,198.8 915.95,207.2 907.75,207.2" fill="#4b4b4b"/>
<polygon points="921.5,198.8 929.7,198.8 926.7,207.2 918.5,207.2" fill="#4b4b4b"/>
<polygon points="932.25,198.8 940.45,198.8 937.45,207.2 929.25,207.2" fill="#4b4b4b"/>
<polygon points="943,198.8 951.2,198.8 948.2,207.2 940,207.2" fill="#4b4b4b"/>
<polygon points="953.75,198.8 961.95,198.8 958.95,207.2 950.75,207.2" fill="#4b4b4b"/>
<polygon points="964.5,198.8 972.7,198.8 969.7,207.2 961.5,207.2" fill="#4b4b4b"/>
<polygon points="975.25,198.8 983.45,198.8 980.45,207.2 972.25,207.2" fill="#4b4b4b"/>
<polygon points="986,198.8 994.2,198.8 991.2,207.2 983,207.2" fill="#4b4b4b"/>
<polygon points="996.75,198.8 1004.95,198.8 1001.95,207.2 993.75,207.2" fill="#4b4b4b"/>
<polygon points="1007.5,198.8 1015.7,198.8 1012.7,207.2 1004.5,207.2" fill="#4b4b4b"/>
<rect x="1023" y="178.5" width="22.5" height="26.5" fill="#d4d4d4" stroke="#333" stroke-width="1.3" rx="2"/>
<path d="M888.5,180 L891.5,180 Q895.8,180.5 895.8,186 L895.8,195 Q895.8,200.5 891.5,201 L888.5,201 Z" fill="#17a394" stroke="#0d5e57" stroke-width="1"/>
<rect x="254.5" y="169.5" width="8" height="41.5" fill="#e0e0e0" stroke="#333" stroke-width="0.8"/>
<line x1="258" y1="170" x2="258" y2="210" stroke="#555" stroke-width="0.8"/>
<rect x="1047.5" y="170" width="9" height="41" fill="#e0e0e0" stroke="#333" stroke-width="0.8"/>
<rect x="530" y="160" width="191.5" height="42.6" fill="#ffffff" stroke="#333" stroke-width="1"/>
<rect x="537" y="160.5" width="53.5" height="41.6" fill="#e6e36a"/>
<line x1="537" y1="164.73" x2="590.5" y2="164.73" stroke="#5c5a1c" stroke-width="1.6"/>
<line x1="590.5" y1="164.73" x2="717" y2="164.73" stroke="#7a7a7a" stroke-width="1.5"/>
<line x1="537" y1="169.47" x2="590.5" y2="169.47" stroke="#5c5a1c" stroke-width="1.6"/>
<line x1="590.5" y1="169.47" x2="717" y2="169.47" stroke="#7a7a7a" stroke-width="1.5"/>
<line x1="537" y1="174.2" x2="590.5" y2="174.2" stroke="#5c5a1c" stroke-width="1.6"/>
<line x1="590.5" y1="174.2" x2="717" y2="174.2" stroke="#7a7a7a" stroke-width="1.5"/>
<line x1="537" y1="178.93" x2="590.5" y2="178.93" stroke="#5c5a1c" stroke-width="1.6"/>
<line x1="590.5" y1="178.93" x2="717" y2="178.93" stroke="#7a7a7a" stroke-width="1.5"/>
<line x1="537" y1="183.67" x2="590.5" y2="183.67" stroke="#5c5a1c" stroke-width="1.6"/>
<line x1="590.5" y1="183.67" x2="717" y2="183.67" stroke="#7a7a7a" stroke-width="1.5"/>
<line x1="537" y1="188.4" x2="590.5" y2="188.4" stroke="#5c5a1c" stroke-width="1.6"/>
<line x1="590.5" y1="188.4" x2="717" y2="188.4" stroke="#7a7a7a" stroke-width="1.5"/>
<line x1="537" y1="193.13" x2="590.5" y2="193.13" stroke="#5c5a1c" stroke-width="1.6"/>
<line x1="590.5" y1="193.13" x2="717" y2="193.13" stroke="#7a7a7a" stroke-width="1.5"/>
<line x1="537" y1="197.87" x2="590.5" y2="197.87" stroke="#5c5a1c" stroke-width="1.6"/>
<line x1="590.5" y1="197.87" x2="717" y2="197.87" stroke="#7a7a7a" stroke-width="1.5"/>
<line x1="537" y1="160" x2="537" y2="202.6" stroke="#333" stroke-width="1.2"/>
<rect x="590.5" y="160.5" width="2" height="41.6" fill="#d8d880"/>
<line x1="593" y1="160" x2="593" y2="202.6" stroke="#4a4a20" stroke-width="1.3"/>
<line x1="717" y1="160" x2="717" y2="202.6" stroke="#333" stroke-width="1"/>
<g transform="translate(1.8,0)">
<rect x="253.5" y="228.9" width="804" height="84" fill="#d4d4d4" stroke="#333" stroke-width="2.6" rx="3"/>
<rect x="254.5" y="307.9" width="802" height="3" fill="#e2e2e2" stroke="#444" stroke-width="0.8"/>
<rect x="255" y="229.4" width="161" height="31" fill="#d4d4d4"/>
<polygon points="260,249.6 268.6,249.6 265.6,258.4 257,258.4" fill="#4b4b4b"/>
<polygon points="271.2,249.6 279.8,249.6 276.8,258.4 268.2,258.4" fill="#4b4b4b"/>
<polygon points="282.4,249.6 291,249.6 288,258.4 279.4,258.4" fill="#4b4b4b"/>
<polygon points="293.6,249.6 302.2,249.6 299.2,258.4 290.6,258.4" fill="#4b4b4b"/>
<polygon points="304.8,249.6 313.4,249.6 310.4,258.4 301.8,258.4" fill="#4b4b4b"/>
<polygon points="316,249.6 324.6,249.6 321.6,258.4 313,258.4" fill="#4b4b4b"/>
<polygon points="327.2,249.6 335.8,249.6 332.8,258.4 324.2,258.4" fill="#4b4b4b"/>
<polygon points="338.4,249.6 347,249.6 344,258.4 335.4,258.4" fill="#4b4b4b"/>
<polygon points="349.6,249.6 358.2,249.6 355.2,258.4 346.6,258.4" fill="#4b4b4b"/>
<polygon points="360.8,249.6 369.4,249.6 366.4,258.4 357.8,258.4" fill="#4b4b4b"/>
<polygon points="372,249.6 380.6,249.6 377.6,258.4 369,258.4" fill="#4b4b4b"/>
<polygon points="383.2,249.6 391.8,249.6 388.8,258.4 380.2,258.4" fill="#4b4b4b"/>
<polygon points="394.4,249.6 403,249.6 400,258.4 391.4,258.4" fill="#4b4b4b"/>
<polygon points="405.6,249.6 414.2,249.6 411.2,258.4 402.6,258.4" fill="#4b4b4b"/>
<polygon points="268.2,242.4 276.6,242.4 274.4,247.7 266,247.7" fill="#4b4b4b"/>
<polygon points="279.2,242.4 287.6,242.4 285.4,247.7 277,247.7" fill="#4b4b4b"/>
<polygon points="290.2,242.4 298.6,242.4 296.4,247.7 288,247.7" fill="#4b4b4b"/>
<polygon points="301.2,242.4 309.6,242.4 307.4,247.7 299,247.7" fill="#4b4b4b"/>
<polygon points="312.2,242.4 320.6,242.4 318.4,247.7 310,247.7" fill="#4b4b4b"/>
<polygon points="323.2,242.4 331.6,242.4 329.4,247.7 321,247.7" fill="#4b4b4b"/>
<polygon points="334.2,242.4 342.6,242.4 340.4,247.7 332,247.7" fill="#4b4b4b"/>
<polygon points="345.2,242.4 353.6,242.4 351.4,247.7 343,247.7" fill="#4b4b4b"/>
<polygon points="356.2,242.4 364.6,242.4 362.4,247.7 354,247.7" fill="#4b4b4b"/>
<polygon points="367.2,242.4 375.6,242.4 373.4,247.7 365,247.7" fill="#4b4b4b"/>
<polygon points="261,236 269.6,236 265.6,247.7 257,247.7" fill="#4b4b4b"/>
<polygon points="382,236 391,236 387,247.7 378,247.7" fill="#4b4b4b"/>
<polygon points="393.4,236 402.4,236 398.4,247.7 389.4,247.7" fill="#4b4b4b"/>
<polygon points="404.8,236 413.8,236 409.8,247.7 400.8,247.7" fill="#4b4b4b"/>
<path d="M280.5,232.3 L376.5,232.3 L376.5,238.6 L353.5,238.6 L352.5,240.4 L304,240.4 L303,238.6 L280.5,238.6 Z" fill="#bdbdbd" stroke="#2a2a2a" stroke-width="1.2"/>
<rect x="282.5" y="233.9" width="8" height="3" fill="#e6e6e6" stroke="#444" stroke-width="0.6"/>
<rect x="366.5" y="233.9" width="8.5" height="3" fill="#e6e6e6" stroke="#444" stroke-width="0.6"/>
<rect x="318.3" y="234.2" width="22.8" height="3.4" fill="#e8e8e8" stroke="#333" stroke-width="0.9"/>
<rect x="416" y="229.4" width="230" height="28" fill="#d4d4d4" stroke="#555" stroke-width="1"/>
<rect x="515.8" y="240" width="31" height="8" fill="#dcdcdc" stroke="#333" stroke-width="1.2"/>
<rect x="646" y="229.4" width="80" height="31" fill="#d4d4d4" stroke="#555" stroke-width="0.8"/>
<rect x="727" y="229.4" width="72" height="31" fill="#d4d4d4"/>
<polygon points="650.5,230.6 658.9,230.6 657.4,234.2 649,234.2" fill="#4b4b4b"/>
<polygon points="661.5,230.6 669.9,230.6 668.4,234.2 660,234.2" fill="#4b4b4b"/>
<polygon points="672.5,230.6 680.9,230.6 679.4,234.2 671,234.2" fill="#4b4b4b"/>
<polygon points="683.5,230.6 691.9,230.6 690.4,234.2 682,234.2" fill="#4b4b4b"/>
<polygon points="694.5,230.6 702.9,230.6 701.4,234.2 693,234.2" fill="#4b4b4b"/>
<polygon points="705.5,230.6 713.9,230.6 712.4,234.2 704,234.2" fill="#4b4b4b"/>
<polygon points="716.5,230.6 724.9,230.6 723.4,234.2 715,234.2" fill="#4b4b4b"/>
<polygon points="658.5,236.4 666.5,236.4 662,247.4 654,247.4" fill="#4b4b4b"/>
<polygon points="669.5,236.4 677.5,236.4 673,247.4 665,247.4" fill="#4b4b4b"/>
<polygon points="680.5,236.4 688.5,236.4 684,247.4 676,247.4" fill="#4b4b4b"/>
<polygon points="691.5,236.4 699.5,236.4 695,247.4 687,247.4" fill="#4b4b4b"/>
<polygon points="702.5,236.4 710.5,236.4 706,247.4 698,247.4" fill="#4b4b4b"/>
<polygon points="713.5,236.4 721.5,236.4 717,247.4 709,247.4" fill="#4b4b4b"/>
<polygon points="660.5,249 668.5,249 665,257.7 657,257.7" fill="#4b4b4b"/>
<polygon points="671.5,249 679.5,249 676,257.7 668,257.7" fill="#4b4b4b"/>
<polygon points="682.5,249 690.5,249 687,257.7 679,257.7" fill="#4b4b4b"/>
<polygon points="693.5,249 701.5,249 698,257.7 690,257.7" fill="#4b4b4b"/>
<polygon points="704.5,249 712.5,249 709,257.7 701,257.7" fill="#4b4b4b"/>
<polygon points="715.5,249 723.5,249 720,257.7 712,257.7" fill="#4b4b4b"/>
<polygon points="730.5,230.6 738.9,230.6 737.4,234.2 729,234.2" fill="#4b4b4b"/>
<polygon points="741.5,230.6 749.9,230.6 748.4,234.2 740,234.2" fill="#4b4b4b"/>
<polygon points="752.5,230.6 760.9,230.6 759.4,234.2 751,234.2" fill="#4b4b4b"/>
<polygon points="763.5,230.6 771.9,230.6 770.4,234.2 762,234.2" fill="#4b4b4b"/>
<polygon points="774.5,230.6 782.9,230.6 781.4,234.2 773,234.2" fill="#4b4b4b"/>
<polygon points="785.5,230.6 793.9,230.6 792.4,234.2 784,234.2" fill="#4b4b4b"/>
<polygon points="735.5,236.4 743.5,236.4 739,247.4 731,247.4" fill="#4b4b4b"/>
<polygon points="746.5,236.4 754.5,236.4 750,247.4 742,247.4" fill="#4b4b4b"/>
<polygon points="757.5,236.4 765.5,236.4 761,247.4 753,247.4" fill="#4b4b4b"/>
<polygon points="768.5,236.4 776.5,236.4 772,247.4 764,247.4" fill="#4b4b4b"/>
<polygon points="779.5,236.4 787.5,236.4 783,247.4 775,247.4" fill="#4b4b4b"/>
<polygon points="790.5,236.4 798.5,236.4 794,247.4 786,247.4" fill="#4b4b4b"/>
<polygon points="736.5,249 744.5,249 741,257.7 733,257.7" fill="#4b4b4b"/>
<polygon points="747.5,249 755.5,249 752,257.7 744,257.7" fill="#4b4b4b"/>
<polygon points="758.5,249 766.5,249 763,257.7 755,257.7" fill="#4b4b4b"/>
<polygon points="769.5,249 777.5,249 774,257.7 766,257.7" fill="#4b4b4b"/>
<polygon points="780.5,249 788.5,249 785,257.7 777,257.7" fill="#4b4b4b"/>
<rect x="797" y="229.4" width="168" height="31" fill="#d4d4d4"/>
<circle cx="869" cy="244.4" r="5.2" fill="#9a9a9a" stroke="#2a2a2a" stroke-width="1.6"/>
<circle cx="869" cy="244.4" r="2.2" fill="#d0d0d0"/>
<circle cx="955.4" cy="244.4" r="5.2" fill="#9a9a9a" stroke="#2a2a2a" stroke-width="1.6"/>
<circle cx="955.4" cy="244.4" r="2.2" fill="#d0d0d0"/>
<rect x="880" y="238.1" width="30.5" height="15.8" fill="#6a6a6a" stroke="#2a2a2a" stroke-width="1.4"/>
<rect x="883" y="240.9" width="24.5" height="6" fill="#b5b5b5"/>
<rect x="914.6" y="238.1" width="30.5" height="15.8" fill="#6a6a6a" stroke="#2a2a2a" stroke-width="1.4"/>
<rect x="917.6" y="240.9" width="24.5" height="6" fill="#b5b5b5"/>
<rect x="966.5" y="229.8" width="83.3" height="27.8" fill="#d6d6d6" stroke="#333" stroke-width="1.3"/>
<circle cx="976.3" cy="243" r="6.2" fill="#9a9a9a" stroke="#2a2a2a" stroke-width="1.6"/>
<circle cx="976.3" cy="243" r="3.6" fill="#666"/>
<circle cx="1041.5" cy="243" r="6.2" fill="#9a9a9a" stroke="#2a2a2a" stroke-width="1.6"/>
<circle cx="1041.5" cy="243" r="3.6" fill="#666"/>
<circle cx="987.8" cy="240.9" r="1.6" fill="#222"/>
<circle cx="998" cy="236.4" r="2.2" fill="#2a2a2a"/>
<circle cx="998" cy="245" r="2.2" fill="#2a2a2a"/>
<circle cx="1007" cy="236.4" r="2.2" fill="#2a2a2a"/>
<circle cx="1007" cy="245" r="2.2" fill="#2a2a2a"/>
<circle cx="1027.6" cy="236.4" r="2.2" fill="#2a2a2a"/>
<circle cx="1027.6" cy="245" r="2.2" fill="#2a2a2a"/>
<circle cx="1017" cy="240" r="4.2" fill="#6a6a6a" stroke="#222" stroke-width="1.2"/>
<rect x="1050.5" y="229.4" width="6" height="30" fill="#c8c8c8" stroke="#444" stroke-width="0.8"/>
<rect x="254.5" y="260.4" width="802" height="6.5" fill="#7d7d7d"/>
<line x1="254.5" y1="260.4" x2="1056.5" y2="260.4" stroke="#4a4a4a" stroke-width="1"/>
<line x1="254.5" y1="266.9" x2="1056.5" y2="266.9" stroke="#2a2a2a" stroke-width="1.2"/>
<rect x="261.5" y="267.4" width="32.5" height="40" fill="#dadada" stroke="#333" stroke-width="1"/>
<rect x="262" y="267.9" width="6.5" height="39" fill="#cfcfcf" stroke="#333" stroke-width="0.8"/>
<circle cx="265.2" cy="279.4" r="1.2" fill="#333"/>
<circle cx="265.2" cy="287.4" r="1.2" fill="#333"/>
<circle cx="265.2" cy="295.4" r="1.2" fill="#333"/>
<polygon points="273.5,271.4 281.5,271.4 278.5,279.8 270.5,279.8" fill="#4b4b4b"/>
<polygon points="284.5,271.4 292.5,271.4 289.5,279.8 281.5,279.8" fill="#4b4b4b"/>
<polygon points="273.5,283.9 281.5,283.9 278.5,292.4 270.5,292.4" fill="#4b4b4b"/>
<polygon points="284.5,283.9 292.5,283.9 289.5,292.4 281.5,292.4" fill="#4b4b4b"/>
<polygon points="273.5,296.4 281.5,296.4 278.5,304.8 270.5,304.8" fill="#4b4b4b"/>
<polygon points="284.5,296.4 292.5,296.4 289.5,304.8 281.5,304.8" fill="#4b4b4b"/>
<rect x="294" y="268.4" width="159" height="38.5" fill="#d4d4d4" stroke="#2e2e2e" stroke-width="1.3" rx="3"/>
<polygon points="305,271.6 313.2,271.6 310.2,280.4 302,280.4" fill="#4b4b4b"/>
<polygon points="315.75,271.6 323.95,271.6 320.95,280.4 312.75,280.4" fill="#4b4b4b"/>
<polygon points="326.5,271.6 334.7,271.6 331.7,280.4 323.5,280.4" fill="#4b4b4b"/>
<polygon points="337.25,271.6 345.45,271.6 342.45,280.4 334.25,280.4" fill="#4b4b4b"/>
<polygon points="348,271.6 356.2,271.6 353.2,280.4 345,280.4" fill="#4b4b4b"/>
<polygon points="358.75,271.6 366.95,271.6 363.95,280.4 355.75,280.4" fill="#4b4b4b"/>
<polygon points="369.5,271.6 377.7,271.6 374.7,280.4 366.5,280.4" fill="#4b4b4b"/>
<polygon points="380.25,271.6 388.45,271.6 385.45,280.4 377.25,280.4" fill="#4b4b4b"/>
<polygon points="391,271.6 399.2,271.6 396.2,280.4 388,280.4" fill="#4b4b4b"/>
<polygon points="401.75,271.6 409.95,271.6 406.95,280.4 398.75,280.4" fill="#4b4b4b"/>
<polygon points="412.5,271.6 420.7,271.6 417.7,280.4 409.5,280.4" fill="#4b4b4b"/>
<polygon points="303,283.9 311.2,283.9 308.2,292.4 300,292.4" fill="#4b4b4b"/>
<polygon points="313.75,283.9 321.95,283.9 318.95,292.4 310.75,292.4" fill="#4b4b4b"/>
<polygon points="324.5,283.9 332.7,283.9 329.7,292.4 321.5,292.4" fill="#4b4b4b"/>
<polygon points="335.25,283.9 343.45,283.9 340.45,292.4 332.25,292.4" fill="#4b4b4b"/>
<polygon points="346,283.9 354.2,283.9 351.2,292.4 343,292.4" fill="#4b4b4b"/>
<polygon points="356.75,283.9 364.95,283.9 361.95,292.4 353.75,292.4" fill="#4b4b4b"/>
<polygon points="367.5,283.9 375.7,283.9 372.7,292.4 364.5,292.4" fill="#4b4b4b"/>
<polygon points="378.25,283.9 386.45,283.9 383.45,292.4 375.25,292.4" fill="#4b4b4b"/>
<polygon points="389,283.9 397.2,283.9 394.2,292.4 386,292.4" fill="#4b4b4b"/>
<polygon points="399.75,283.9 407.95,283.9 404.95,292.4 396.75,292.4" fill="#4b4b4b"/>
<polygon points="410.5,283.9 418.7,283.9 415.7,292.4 407.5,292.4" fill="#4b4b4b"/>
<polygon points="305,296.2 313.2,296.2 310.2,304.6 302,304.6" fill="#4b4b4b"/>
<polygon points="315.75,296.2 323.95,296.2 320.95,304.6 312.75,304.6" fill="#4b4b4b"/>
<polygon points="326.5,296.2 334.7,296.2 331.7,304.6 323.5,304.6" fill="#4b4b4b"/>
<polygon points="337.25,296.2 345.45,296.2 342.45,304.6 334.25,304.6" fill="#4b4b4b"/>
<polygon points="348,296.2 356.2,296.2 353.2,304.6 345,304.6" fill="#4b4b4b"/>
<polygon points="358.75,296.2 366.95,296.2 363.95,304.6 355.75,304.6" fill="#4b4b4b"/>
<polygon points="369.5,296.2 377.7,296.2 374.7,304.6 366.5,304.6" fill="#4b4b4b"/>
<polygon points="380.25,296.2 388.45,296.2 385.45,304.6 377.25,304.6" fill="#4b4b4b"/>
<polygon points="391,296.2 399.2,296.2 396.2,304.6 388,304.6" fill="#4b4b4b"/>
<polygon points="401.75,296.2 409.95,296.2 406.95,304.6 398.75,304.6" fill="#4b4b4b"/>
<polygon points="412.5,296.2 420.7,296.2 417.7,304.6 409.5,304.6" fill="#4b4b4b"/>
<rect x="428" y="275.9" width="22.5" height="26.5" fill="#d4d4d4" stroke="#333" stroke-width="1.3" rx="2"/>
<path d="M293.5,277.4 L296.5,277.4 Q300.8,277.9 300.8,283.4 L300.8,292.4 Q300.8,297.9 296.5,298.4 L293.5,298.4 Z" fill="#17a394" stroke="#0d5e57" stroke-width="1"/>
<rect x="454.5" y="267.4" width="37.5" height="40" fill="#dadada" stroke="#333" stroke-width="1"/>
<rect x="455" y="267.9" width="6.5" height="39" fill="#cfcfcf" stroke="#333" stroke-width="0.8"/>
<circle cx="458.2" cy="279.4" r="1.2" fill="#333"/>
<circle cx="458.2" cy="287.4" r="1.2" fill="#333"/>
<circle cx="458.2" cy="295.4" r="1.2" fill="#333"/>
<polygon points="466.5,271.4 474.5,271.4 471.5,279.8 463.5,279.8" fill="#4b4b4b"/>
<polygon points="477.5,271.4 485.5,271.4 482.5,279.8 474.5,279.8" fill="#4b4b4b"/>
<polygon points="466.5,283.9 474.5,283.9 471.5,292.4 463.5,292.4" fill="#4b4b4b"/>
<polygon points="477.5,283.9 485.5,283.9 482.5,292.4 474.5,292.4" fill="#4b4b4b"/>
<polygon points="466.5,296.4 474.5,296.4 471.5,304.8 463.5,304.8" fill="#4b4b4b"/>
<polygon points="477.5,296.4 485.5,296.4 482.5,304.8 474.5,304.8" fill="#4b4b4b"/>
<rect x="492" y="268.4" width="160.6" height="38.5" fill="#d4d4d4" stroke="#2e2e2e" stroke-width="1.3" rx="3"/>
<polygon points="503,271.6 511.2,271.6 508.2,280.4 500,280.4" fill="#4b4b4b"/>
<polygon points="513.75,271.6 521.95,271.6 518.95,280.4 510.75,280.4" fill="#4b4b4b"/>
<polygon points="524.5,271.6 532.7,271.6 529.7,280.4 521.5,280.4" fill="#4b4b4b"/>
<polygon points="535.25,271.6 543.45,271.6 540.45,280.4 532.25,280.4" fill="#4b4b4b"/>
<polygon points="546,271.6 554.2,271.6 551.2,280.4 543,280.4" fill="#4b4b4b"/>
<polygon points="556.75,271.6 564.95,271.6 561.95,280.4 553.75,280.4" fill="#4b4b4b"/>
<polygon points="567.5,271.6 575.7,271.6 572.7,280.4 564.5,280.4" fill="#4b4b4b"/>
<polygon points="578.25,271.6 586.45,271.6 583.45,280.4 575.25,280.4" fill="#4b4b4b"/>
<polygon points="589,271.6 597.2,271.6 594.2,280.4 586,280.4" fill="#4b4b4b"/>
<polygon points="599.75,271.6 607.95,271.6 604.95,280.4 596.75,280.4" fill="#4b4b4b"/>
<polygon points="610.5,271.6 618.7,271.6 615.7,280.4 607.5,280.4" fill="#4b4b4b"/>
<polygon points="501,283.9 509.2,283.9 506.2,292.4 498,292.4" fill="#4b4b4b"/>
<polygon points="511.75,283.9 519.95,283.9 516.95,292.4 508.75,292.4" fill="#4b4b4b"/>
<polygon points="522.5,283.9 530.7,283.9 527.7,292.4 519.5,292.4" fill="#4b4b4b"/>
<polygon points="533.25,283.9 541.45,283.9 538.45,292.4 530.25,292.4" fill="#4b4b4b"/>
<polygon points="544,283.9 552.2,283.9 549.2,292.4 541,292.4" fill="#4b4b4b"/>
<polygon points="554.75,283.9 562.95,283.9 559.95,292.4 551.75,292.4" fill="#4b4b4b"/>
<polygon points="565.5,283.9 573.7,283.9 570.7,292.4 562.5,292.4" fill="#4b4b4b"/>
<polygon points="576.25,283.9 584.45,283.9 581.45,292.4 573.25,292.4" fill="#4b4b4b"/>
<polygon points="587,283.9 595.2,283.9 592.2,292.4 584,292.4" fill="#4b4b4b"/>
<polygon points="597.75,283.9 605.95,283.9 602.95,292.4 594.75,292.4" fill="#4b4b4b"/>
<polygon points="608.5,283.9 616.7,283.9 613.7,292.4 605.5,292.4" fill="#4b4b4b"/>
<polygon points="503,296.2 511.2,296.2 508.2,304.6 500,304.6" fill="#4b4b4b"/>
<polygon points="513.75,296.2 521.95,296.2 518.95,304.6 510.75,304.6" fill="#4b4b4b"/>
<polygon points="524.5,296.2 532.7,296.2 529.7,304.6 521.5,304.6" fill="#4b4b4b"/>
<polygon points="535.25,296.2 543.45,296.2 540.45,304.6 532.25,304.6" fill="#4b4b4b"/>
<polygon points="546,296.2 554.2,296.2 551.2,304.6 543,304.6" fill="#4b4b4b"/>
<polygon points="556.75,296.2 564.95,296.2 561.95,304.6 553.75,304.6" fill="#4b4b4b"/>
<polygon points="567.5,296.2 575.7,296.2 572.7,304.6 564.5,304.6" fill="#4b4b4b"/>
<polygon points="578.25,296.2 586.45,296.2 583.45,304.6 575.25,304.6" fill="#4b4b4b"/>
<polygon points="589,296.2 597.2,296.2 594.2,304.6 586,304.6" fill="#4b4b4b"/>
<polygon points="599.75,296.2 607.95,296.2 604.95,304.6 596.75,304.6" fill="#4b4b4b"/>
<polygon points="610.5,296.2 618.7,296.2 615.7,304.6 607.5,304.6" fill="#4b4b4b"/>
<rect x="627.6" y="275.9" width="22.5" height="26.5" fill="#d4d4d4" stroke="#333" stroke-width="1.3" rx="2"/>
<path d="M491.5,277.4 L494.5,277.4 Q498.8,277.9 498.8,283.4 L498.8,292.4 Q498.8,297.9 494.5,298.4 L491.5,298.4 Z" fill="#17a394" stroke="#0d5e57" stroke-width="1"/>
<rect x="652.5" y="267.4" width="40.5" height="40" fill="#dadada" stroke="#333" stroke-width="1"/>
<rect x="653" y="267.9" width="6.5" height="39" fill="#cfcfcf" stroke="#333" stroke-width="0.8"/>
<circle cx="656.2" cy="279.4" r="1.2" fill="#333"/>
<circle cx="656.2" cy="287.4" r="1.2" fill="#333"/>
<circle cx="656.2" cy="295.4" r="1.2" fill="#333"/>
<polygon points="664.5,271.4 672.5,271.4 669.5,279.8 661.5,279.8" fill="#4b4b4b"/>
<polygon points="675.5,271.4 683.5,271.4 680.5,279.8 672.5,279.8" fill="#4b4b4b"/>
<polygon points="664.5,283.9 672.5,283.9 669.5,292.4 661.5,292.4" fill="#4b4b4b"/>
<polygon points="675.5,283.9 683.5,283.9 680.5,292.4 672.5,292.4" fill="#4b4b4b"/>
<polygon points="664.5,296.4 672.5,296.4 669.5,304.8 661.5,304.8" fill="#4b4b4b"/>
<polygon points="675.5,296.4 683.5,296.4 680.5,304.8 672.5,304.8" fill="#4b4b4b"/>
<rect x="693" y="268.4" width="156" height="38.5" fill="#d4d4d4" stroke="#2e2e2e" stroke-width="1.3" rx="3"/>
<polygon points="704,271.6 712.2,271.6 709.2,280.4 701,280.4" fill="#4b4b4b"/>
<polygon points="714.75,271.6 722.95,271.6 719.95,280.4 711.75,280.4" fill="#4b4b4b"/>
<polygon points="725.5,271.6 733.7,271.6 730.7,280.4 722.5,280.4" fill="#4b4b4b"/>
<polygon points="736.25,271.6 744.45,271.6 741.45,280.4 733.25,280.4" fill="#4b4b4b"/>
<polygon points="747,271.6 755.2,271.6 752.2,280.4 744,280.4" fill="#4b4b4b"/>
<polygon points="757.75,271.6 765.95,271.6 762.95,280.4 754.75,280.4" fill="#4b4b4b"/>
<polygon points="768.5,271.6 776.7,271.6 773.7,280.4 765.5,280.4" fill="#4b4b4b"/>
<polygon points="779.25,271.6 787.45,271.6 784.45,280.4 776.25,280.4" fill="#4b4b4b"/>
<polygon points="790,271.6 798.2,271.6 795.2,280.4 787,280.4" fill="#4b4b4b"/>
<polygon points="800.75,271.6 808.95,271.6 805.95,280.4 797.75,280.4" fill="#4b4b4b"/>
<polygon points="702,283.9 710.2,283.9 707.2,292.4 699,292.4" fill="#4b4b4b"/>
<polygon points="712.75,283.9 720.95,283.9 717.95,292.4 709.75,292.4" fill="#4b4b4b"/>
<polygon points="723.5,283.9 731.7,283.9 728.7,292.4 720.5,292.4" fill="#4b4b4b"/>
<polygon points="734.25,283.9 742.45,283.9 739.45,292.4 731.25,292.4" fill="#4b4b4b"/>
<polygon points="745,283.9 753.2,283.9 750.2,292.4 742,292.4" fill="#4b4b4b"/>
<polygon points="755.75,283.9 763.95,283.9 760.95,292.4 752.75,292.4" fill="#4b4b4b"/>
<polygon points="766.5,283.9 774.7,283.9 771.7,292.4 763.5,292.4" fill="#4b4b4b"/>
<polygon points="777.25,283.9 785.45,283.9 782.45,292.4 774.25,292.4" fill="#4b4b4b"/>
<polygon points="788,283.9 796.2,283.9 793.2,292.4 785,292.4" fill="#4b4b4b"/>
<polygon points="798.75,283.9 806.95,283.9 803.95,292.4 795.75,292.4" fill="#4b4b4b"/>
<polygon points="809.5,283.9 817.7,283.9 814.7,292.4 806.5,292.4" fill="#4b4b4b"/>
<polygon points="704,296.2 712.2,296.2 709.2,304.6 701,304.6" fill="#4b4b4b"/>
<polygon points="714.75,296.2 722.95,296.2 719.95,304.6 711.75,304.6" fill="#4b4b4b"/>
<polygon points="725.5,296.2 733.7,296.2 730.7,304.6 722.5,304.6" fill="#4b4b4b"/>
<polygon points="736.25,296.2 744.45,296.2 741.45,304.6 733.25,304.6" fill="#4b4b4b"/>
<polygon points="747,296.2 755.2,296.2 752.2,304.6 744,304.6" fill="#4b4b4b"/>
<polygon points="757.75,296.2 765.95,296.2 762.95,304.6 754.75,304.6" fill="#4b4b4b"/>
<polygon points="768.5,296.2 776.7,296.2 773.7,304.6 765.5,304.6" fill="#4b4b4b"/>
<polygon points="779.25,296.2 787.45,296.2 784.45,304.6 776.25,304.6" fill="#4b4b4b"/>
<polygon points="790,296.2 798.2,296.2 795.2,304.6 787,304.6" fill="#4b4b4b"/>
<polygon points="800.75,296.2 808.95,296.2 805.95,304.6 797.75,304.6" fill="#4b4b4b"/>
<rect x="824" y="275.9" width="22.5" height="26.5" fill="#d4d4d4" stroke="#333" stroke-width="1.3" rx="2"/>
<path d="M692.5,277.4 L695.5,277.4 Q699.8,277.9 699.8,283.4 L699.8,292.4 Q699.8,297.9 695.5,298.4 L692.5,298.4 Z" fill="#17a394" stroke="#0d5e57" stroke-width="1"/>
<rect x="848.5" y="267.4" width="40.5" height="40" fill="#dadada" stroke="#333" stroke-width="1"/>
<rect x="849" y="267.9" width="6.5" height="39" fill="#cfcfcf" stroke="#333" stroke-width="0.8"/>
<circle cx="852.2" cy="279.4" r="1.2" fill="#333"/>
<circle cx="852.2" cy="287.4" r="1.2" fill="#333"/>
<circle cx="852.2" cy="295.4" r="1.2" fill="#333"/>
<polygon points="860.5,271.4 868.5,271.4 865.5,279.8 857.5,279.8" fill="#4b4b4b"/>
<polygon points="871.5,271.4 879.5,271.4 876.5,279.8 868.5,279.8" fill="#4b4b4b"/>
<polygon points="860.5,283.9 868.5,283.9 865.5,292.4 857.5,292.4" fill="#4b4b4b"/>
<polygon points="871.5,283.9 879.5,283.9 876.5,292.4 868.5,292.4" fill="#4b4b4b"/>
<polygon points="860.5,296.4 868.5,296.4 865.5,304.8 857.5,304.8" fill="#4b4b4b"/>
<polygon points="871.5,296.4 879.5,296.4 876.5,304.8 868.5,304.8" fill="#4b4b4b"/>
<rect x="889" y="268.4" width="159" height="38.5" fill="#d4d4d4" stroke="#2e2e2e" stroke-width="1.3" rx="3"/>
<polygon points="900,271.6 908.2,271.6 905.2,280.4 897,280.4" fill="#4b4b4b"/>
<polygon points="910.75,271.6 918.95,271.6 915.95,280.4 907.75,280.4" fill="#4b4b4b"/>
<polygon points="921.5,271.6 929.7,271.6 926.7,280.4 918.5,280.4" fill="#4b4b4b"/>
<polygon points="932.25,271.6 940.45,271.6 937.45,280.4 929.25,280.4" fill="#4b4b4b"/>
<polygon points="943,271.6 951.2,271.6 948.2,280.4 940,280.4" fill="#4b4b4b"/>
<polygon points="953.75,271.6 961.95,271.6 958.95,280.4 950.75,280.4" fill="#4b4b4b"/>
<polygon points="964.5,271.6 972.7,271.6 969.7,280.4 961.5,280.4" fill="#4b4b4b"/>
<polygon points="975.25,271.6 983.45,271.6 980.45,280.4 972.25,280.4" fill="#4b4b4b"/>
<polygon points="986,271.6 994.2,271.6 991.2,280.4 983,280.4" fill="#4b4b4b"/>
<polygon points="996.75,271.6 1004.95,271.6 1001.95,280.4 993.75,280.4" fill="#4b4b4b"/>
<polygon points="1007.5,271.6 1015.7,271.6 1012.7,280.4 1004.5,280.4" fill="#4b4b4b"/>
<polygon points="898,283.9 906.2,283.9 903.2,292.4 895,292.4" fill="#4b4b4b"/>
<polygon points="908.75,283.9 916.95,283.9 913.95,292.4 905.75,292.4" fill="#4b4b4b"/>
<polygon points="919.5,283.9 927.7,283.9 924.7,292.4 916.5,292.4" fill="#4b4b4b"/>
<polygon points="930.25,283.9 938.45,283.9 935.45,292.4 927.25,292.4" fill="#4b4b4b"/>
<polygon points="941,283.9 949.2,283.9 946.2,292.4 938,292.4" fill="#4b4b4b"/>
<polygon points="951.75,283.9 959.95,283.9 956.95,292.4 948.75,292.4" fill="#4b4b4b"/>
<polygon points="962.5,283.9 970.7,283.9 967.7,292.4 959.5,292.4" fill="#4b4b4b"/>
<polygon points="973.25,283.9 981.45,283.9 978.45,292.4 970.25,292.4" fill="#4b4b4b"/>
<polygon points="984,283.9 992.2,283.9 989.2,292.4 981,292.4" fill="#4b4b4b"/>
<polygon points="994.75,283.9 1002.95,283.9 999.95,292.4 991.75,292.4" fill="#4b4b4b"/>
<polygon points="1005.5,283.9 1013.7,283.9 1010.7,292.4 1002.5,292.4" fill="#4b4b4b"/>
<polygon points="900,296.2 908.2,296.2 905.2,304.6 897,304.6" fill="#4b4b4b"/>
<polygon points="910.75,296.2 918.95,296.2 915.95,304.6 907.75,304.6" fill="#4b4b4b"/>
<polygon points="921.5,296.2 929.7,296.2 926.7,304.6 918.5,304.6" fill="#4b4b4b"/>
<polygon points="932.25,296.2 940.45,296.2 937.45,304.6 929.25,304.6" fill="#4b4b4b"/>
<polygon points="943,296.2 951.2,296.2 948.2,304.6 940,304.6" fill="#4b4b4b"/>
<polygon points="953.75,296.2 961.95,296.2 958.95,304.6 950.75,304.6" fill="#4b4b4b"/>
<polygon points="964.5,296.2 972.7,296.2 969.7,304.6 961.5,304.6" fill="#4b4b4b"/>
<polygon points="975.25,296.2 983.45,296.2 980.45,304.6 972.25,304.6" fill="#4b4b4b"/>
<polygon points="986,296.2 994.2,296.2 991.2,304.6 983,304.6" fill="#4b4b4b"/>
<polygon points="996.75,296.2 1004.95,296.2 1001.95,304.6 993.75,304.6" fill="#4b4b4b"/>
<polygon points="1007.5,296.2 1015.7,296.2 1012.7,304.6 1004.5,304.6" fill="#4b4b4b"/>
<rect x="1023" y="275.9" width="22.5" height="26.5" fill="#d4d4d4" stroke="#333" stroke-width="1.3" rx="2"/>
<path d="M888.5,277.4 L891.5,277.4 Q895.8,277.9 895.8,283.4 L895.8,292.4 Q895.8,297.9 891.5,298.4 L888.5,298.4 Z" fill="#17a394" stroke="#0d5e57" stroke-width="1"/>
<rect x="254.5" y="266.9" width="8" height="40.5" fill="#e0e0e0" stroke="#333" stroke-width="0.8"/>
<line x1="258" y1="267.4" x2="258" y2="307.4" stroke="#555" stroke-width="0.8"/>
<rect x="1047.5" y="267.4" width="9" height="40" fill="#e0e0e0" stroke="#333" stroke-width="0.8"/>
<rect x="532.2" y="244" width="190" height="43" fill="#ffffff" stroke="#333" stroke-width="1"/>
<rect x="539.2" y="244.5" width="53.5" height="42" fill="#e6e36a"/>
<line x1="539.2" y1="248.78" x2="592.7" y2="248.78" stroke="#5c5a1c" stroke-width="1.6"/>
<line x1="592.7" y1="248.78" x2="717.7" y2="248.78" stroke="#7a7a7a" stroke-width="1.5"/>
<line x1="539.2" y1="253.56" x2="592.7" y2="253.56" stroke="#5c5a1c" stroke-width="1.6"/>
<line x1="592.7" y1="253.56" x2="717.7" y2="253.56" stroke="#7a7a7a" stroke-width="1.5"/>
<line x1="539.2" y1="258.33" x2="592.7" y2="258.33" stroke="#5c5a1c" stroke-width="1.6"/>
<line x1="592.7" y1="258.33" x2="717.7" y2="258.33" stroke="#7a7a7a" stroke-width="1.5"/>
<line x1="539.2" y1="263.11" x2="592.7" y2="263.11" stroke="#5c5a1c" stroke-width="1.6"/>
<line x1="592.7" y1="263.11" x2="717.7" y2="263.11" stroke="#7a7a7a" stroke-width="1.5"/>
<line x1="539.2" y1="267.89" x2="592.7" y2="267.89" stroke="#5c5a1c" stroke-width="1.6"/>
<line x1="592.7" y1="267.89" x2="717.7" y2="267.89" stroke="#7a7a7a" stroke-width="1.5"/>
<line x1="539.2" y1="272.67" x2="592.7" y2="272.67" stroke="#5c5a1c" stroke-width="1.6"/>
<line x1="592.7" y1="272.67" x2="717.7" y2="272.67" stroke="#7a7a7a" stroke-width="1.5"/>
<line x1="539.2" y1="277.44" x2="592.7" y2="277.44" stroke="#5c5a1c" stroke-width="1.6"/>
<line x1="592.7" y1="277.44" x2="717.7" y2="277.44" stroke="#7a7a7a" stroke-width="1.5"/>
<line x1="539.2" y1="282.22" x2="592.7" y2="282.22" stroke="#5c5a1c" stroke-width="1.6"/>
<line x1="592.7" y1="282.22" x2="717.7" y2="282.22" stroke="#7a7a7a" stroke-width="1.5"/>
<line x1="539.2" y1="244" x2="539.2" y2="287" stroke="#333" stroke-width="1.2"/>
<rect x="592.7" y="244.5" width="2" height="42" fill="#d8d880"/>
<line x1="595.2" y1="244" x2="595.2" y2="287" stroke="#4a4a20" stroke-width="1.3"/>
<line x1="717.7" y1="244" x2="717.7" y2="287" stroke="#333" stroke-width="1"/>
</g>
<rect x="254" y="317" width="804" height="175" fill="#1d1d1d" rx="2"/>
<rect x="258" y="319.5" width="180" height="58" fill="#bdc0c3" stroke="#3a3a3a" stroke-width="1"/>
<circle cx="301.2" cy="333" r="5.7" fill="#231f20"/>
<circle cx="315.13" cy="333" r="5.7" fill="#231f20"/>
<circle cx="329.06" cy="333" r="5.7" fill="#231f20"/>
<circle cx="342.99" cy="333" r="5.7" fill="#231f20"/>
<circle cx="356.92" cy="333" r="5.7" fill="#231f20"/>
<circle cx="370.85" cy="333" r="5.7" fill="#231f20"/>
<circle cx="384.78" cy="333" r="5.7" fill="#231f20"/>
<circle cx="308.15" cy="344.5" r="5.7" fill="#231f20"/>
<circle cx="322.08" cy="344.5" r="5.7" fill="#231f20"/>
<circle cx="336.01" cy="344.5" r="5.7" fill="#231f20"/>
<circle cx="349.94" cy="344.5" r="5.7" fill="#231f20"/>
<circle cx="363.87" cy="344.5" r="5.7" fill="#231f20"/>
<circle cx="377.8" cy="344.5" r="5.7" fill="#231f20"/>
<circle cx="301.2" cy="356.4" r="5.7" fill="#231f20"/>
<circle cx="315.13" cy="356.4" r="5.7" fill="#231f20"/>
<circle cx="329.06" cy="356.4" r="5.7" fill="#231f20"/>
<circle cx="342.99" cy="356.4" r="5.7" fill="#231f20"/>
<circle cx="356.92" cy="356.4" r="5.7" fill="#231f20"/>
<circle cx="370.85" cy="356.4" r="5.7" fill="#231f20"/>
<circle cx="384.78" cy="356.4" r="5.7" fill="#231f20"/>
<rect x="315.8" y="359.5" width="53.6" height="17.5" fill="#e8352a" stroke="#a81e1a" stroke-width="0.8"/>
<rect x="316.3" y="360" width="52.6" height="6.8" fill="#f4922a"/>
<circle cx="401.5" cy="331.3" r="6.2" fill="none" stroke="#8cc63f" stroke-width="1.6"/>
<line x1="400" y1="327.2" x2="400" y2="335.4" stroke="#8cc63f" stroke-width="1"/>
<line x1="403" y1="327.2" x2="403" y2="335.4" stroke="#8cc63f" stroke-width="1"/>
<rect x="411.2" y="319.8" width="6.8" height="16.6" fill="#d9e021" stroke="#333" stroke-width="1"/>
<rect x="412.5" y="325" width="4.2" height="5" fill="#f6f9a0"/>
<polygon points="427.1,322.9 433.8,336.2 420.4,336.2" fill="none" stroke="#e3e33a" stroke-width="1.5" stroke-linejoin="round"/>
<line x1="427.1" y1="327.5" x2="427.1" y2="333.5" stroke="#c8c83a" stroke-width="1.2"/>
<path d="M397,346 q1.5,-2 3,-0.5 t3,0 t3,-0.5" fill="none" stroke="#fff" stroke-width="1.3"/>
<text x="397" y="353.5" font-size="6.5" fill="#fff" font-weight="bold">AC</text>
<rect x="258" y="377.5" width="180" height="110.5" fill="#c0c1c4" stroke="#3a3a3a" stroke-width="1"/>
<rect x="338" y="377.5" width="14.6" height="12.8" fill="#f5821f" stroke="#9a3a10" stroke-width="0.8"/>
<path d="M341,380 L345.3,388 L349.6,380 M343.2,380 L345.3,384 L347.4,380" fill="none" stroke="#d42a1a" stroke-width="1.3"/>
<clipPath id="g778"><polygon points="272,391.8 422.4,391.8 422.4,418.8 404.2,418.8 393.1,433.3 301.3,433.3 290.2,418.8 272,418.8"/></clipPath>
<polygon points="272,391.8 422.4,391.8 422.4,418.8 404.2,418.8 393.1,433.3 301.3,433.3 290.2,418.8 272,418.8" fill="#d2d2d2"/>
<g clip-path="url(#g778)" fill="#1c1c1c">
<rect x="275.6" y="391.3" width="5.9" height="7.3"/>
<rect x="283.38" y="391.3" width="5.9" height="7.3"/>
<rect x="291.16" y="391.3" width="5.9" height="7.3"/>
<rect x="298.94" y="391.3" width="5.9" height="7.3"/>
<rect x="306.72" y="391.3" width="5.9" height="7.3"/>
<rect x="314.5" y="391.3" width="5.9" height="7.3"/>
<rect x="322.28" y="391.3" width="5.9" height="7.3"/>
<rect x="330.06" y="391.3" width="5.9" height="7.3"/>
<rect x="337.84" y="391.3" width="5.9" height="7.3"/>
<rect x="345.62" y="391.3" width="5.9" height="7.3"/>
<rect x="353.4" y="391.3" width="5.9" height="7.3"/>
<rect x="361.18" y="391.3" width="5.9" height="7.3"/>
<rect x="368.96" y="391.3" width="5.9" height="7.3"/>
<rect x="376.74" y="391.3" width="5.9" height="7.3"/>
<rect x="384.52" y="391.3" width="5.9" height="7.3"/>
<rect x="392.3" y="391.3" width="5.9" height="7.3"/>
<rect x="400.08" y="391.3" width="5.9" height="7.3"/>
<rect x="407.86" y="391.3" width="5.9" height="7.3"/>
<rect x="415.64" y="391.3" width="5.9" height="7.3"/>
<rect x="423.42" y="391.3" width="5.9" height="7.3"/>
<rect x="275.6" y="401.5" width="5.9" height="7.2"/>
<rect x="283.38" y="401.5" width="5.9" height="7.2"/>
<rect x="291.16" y="401.5" width="5.9" height="7.2"/>
<rect x="298.94" y="401.5" width="5.9" height="7.2"/>
<rect x="306.72" y="401.5" width="5.9" height="7.2"/>
<rect x="314.5" y="401.5" width="5.9" height="7.2"/>
<rect x="322.28" y="401.5" width="5.9" height="7.2"/>
<rect x="330.06" y="401.5" width="5.9" height="7.2"/>
<rect x="337.84" y="401.5" width="5.9" height="7.2"/>
<rect x="345.62" y="401.5" width="5.9" height="7.2"/>
<rect x="353.4" y="401.5" width="5.9" height="7.2"/>
<rect x="361.18" y="401.5" width="5.9" height="7.2"/>
<rect x="368.96" y="401.5" width="5.9" height="7.2"/>
<rect x="376.74" y="401.5" width="5.9" height="7.2"/>
<rect x="384.52" y="401.5" width="5.9" height="7.2"/>
<rect x="392.3" y="401.5" width="5.9" height="7.2"/>
<rect x="400.08" y="401.5" width="5.9" height="7.2"/>
<rect x="407.86" y="401.5" width="5.9" height="7.2"/>
<rect x="415.64" y="401.5" width="5.9" height="7.2"/>
<rect x="423.42" y="401.5" width="5.9" height="7.2"/>
<rect x="275.6" y="411.7" width="5.9" height="6.6"/>
<rect x="283.38" y="411.7" width="5.9" height="6.6"/>
<rect x="291.16" y="411.7" width="5.9" height="6.6"/>
<rect x="298.94" y="411.7" width="5.9" height="6.6"/>
<rect x="306.72" y="411.7" width="5.9" height="6.6"/>
<rect x="314.5" y="411.7" width="5.9" height="6.6"/>
<rect x="322.28" y="411.7" width="5.9" height="6.6"/>
<rect x="330.06" y="411.7" width="5.9" height="6.6"/>
<rect x="337.84" y="411.7" width="5.9" height="6.6"/>
<rect x="345.62" y="411.7" width="5.9" height="6.6"/>
<rect x="353.4" y="411.7" width="5.9" height="6.6"/>
<rect x="361.18" y="411.7" width="5.9" height="6.6"/>
<rect x="368.96" y="411.7" width="5.9" height="6.6"/>
<rect x="376.74" y="411.7" width="5.9" height="6.6"/>
<rect x="384.52" y="411.7" width="5.9" height="6.6"/>
<rect x="392.3" y="411.7" width="5.9" height="6.6"/>
<rect x="400.08" y="411.7" width="5.9" height="6.6"/>
<rect x="407.86" y="411.7" width="5.9" height="6.6"/>
<rect x="415.64" y="411.7" width="5.9" height="6.6"/>
<rect x="423.42" y="411.7" width="5.9" height="6.6"/>
<rect x="275.6" y="420.5" width="5.9" height="6.8"/>
<rect x="283.38" y="420.5" width="5.9" height="6.8"/>
<rect x="291.16" y="420.5" width="5.9" height="6.8"/>
<rect x="298.94" y="420.5" width="5.9" height="6.8"/>
<rect x="306.72" y="420.5" width="5.9" height="6.8"/>
<rect x="314.5" y="420.5" width="5.9" height="6.8"/>
<rect x="322.28" y="420.5" width="5.9" height="6.8"/>
<rect x="330.06" y="420.5" width="5.9" height="6.8"/>
<rect x="337.84" y="420.5" width="5.9" height="6.8"/>
<rect x="345.62" y="420.5" width="5.9" height="6.8"/>
<rect x="353.4" y="420.5" width="5.9" height="6.8"/>
<rect x="361.18" y="420.5" width="5.9" height="6.8"/>
<rect x="368.96" y="420.5" width="5.9" height="6.8"/>
<rect x="376.74" y="420.5" width="5.9" height="6.8"/>
<rect x="384.52" y="420.5" width="5.9" height="6.8"/>
<rect x="392.3" y="420.5" width="5.9" height="6.8"/>
<rect x="400.08" y="420.5" width="5.9" height="6.8"/>
<rect x="407.86" y="420.5" width="5.9" height="6.8"/>
<rect x="415.64" y="420.5" width="5.9" height="6.8"/>
<rect x="423.42" y="420.5" width="5.9" height="6.8"/>
<rect x="272" y="429" width="150.4" height="1.2"/>
<rect x="272" y="391.8" width="3" height="27" fill="#333"/>
<rect x="419.4" y="391.8" width="3" height="27" fill="#333"/>
</g>
<polygon points="272,391.8 422.4,391.8 422.4,418.8 404.2,418.8 393.1,433.3 301.3,433.3 290.2,418.8 272,418.8" fill="none" stroke="#1c1c1c" stroke-width="1.6" stroke-linejoin="miter"/>
<line x1="272" y1="418.8" x2="290.2" y2="418.8" stroke="#1c1c1c" stroke-width="1.4"/>
<line x1="404.2" y1="418.8" x2="422.4" y2="418.8" stroke="#1c1c1c" stroke-width="1.4"/>
<rect x="258.5" y="432.5" width="179" height="17.8" rx="3" fill="url(#rodg)"/>
<path d="M261,452.5 L271.3,451.8 L271.3,463 L289.3,463 L289.3,451.8 L299.5,451.5 L299.5,487 L265,486.5 Q259.5,483 262.5,470 Q262,459 261,454 Z" fill="#7f7f83" stroke="#4a4a4a" stroke-width="1"/>
<path d="M433,452.5 L420.5,451.8 L420.5,463 L402.5,463 L402.5,451.8 L394.5,451.5 L394.5,487 L429,486.5 Q434.5,483 431.5,470 Q432,459 433,454 Z" fill="#7f7f83" stroke="#4a4a4a" stroke-width="1"/>
<rect x="299.5" y="453" width="95" height="34" fill="url(#panelg)" stroke="#555" stroke-width="0.8"/>
<rect x="271.3" y="456" width="18" height="7" fill="url(#tabg)" stroke="#333" stroke-width="0.8"/>
<rect x="273.8" y="432.5" width="12.9" height="27" fill="#cbcbcb" stroke="#666" stroke-width="0.8"/>
<rect x="402.5" y="456" width="18" height="7" fill="url(#tabg)" stroke="#333" stroke-width="0.8"/>
<rect x="405" y="432.5" width="12.9" height="27" fill="#cbcbcb" stroke="#666" stroke-width="0.8"/>
<rect x="303.8" y="461.8" width="44.6" height="12" fill="#262626" rx="6"/>
<circle cx="310.8" cy="467.8" r="4.2" fill="#484848" stroke="#333" stroke-width="0.6"/>
<circle cx="321.1" cy="467.8" r="4.2" fill="#484848" stroke="#333" stroke-width="0.6"/>
<circle cx="331.4" cy="467.8" r="4.2" fill="#484848" stroke="#333" stroke-width="0.6"/>
<circle cx="341.7" cy="467.8" r="4.2" fill="#484848" stroke="#333" stroke-width="0.6"/>
<path d="M348.4,462.5 L375.4,461.5 Q381.4,457.5 388.4,458 L388.4,474.5 L348.4,474.5 Z" fill="#f7941d"/>
<rect x="348.4" y="466.5" width="40" height="2.2" fill="#fbb040"/>
<rect x="462" y="319.5" width="185" height="58" fill="#bdc0c3" stroke="#3a3a3a" stroke-width="1"/>
<circle cx="507.5" cy="333" r="5.7" fill="#231f20"/>
<circle cx="521.43" cy="333" r="5.7" fill="#231f20"/>
<circle cx="535.36" cy="333" r="5.7" fill="#231f20"/>
<circle cx="549.29" cy="333" r="5.7" fill="#231f20"/>
<circle cx="563.22" cy="333" r="5.7" fill="#231f20"/>
<circle cx="577.15" cy="333" r="5.7" fill="#231f20"/>
<circle cx="591.08" cy="333" r="5.7" fill="#231f20"/>
<circle cx="514.45" cy="344.5" r="5.7" fill="#231f20"/>
<circle cx="528.38" cy="344.5" r="5.7" fill="#231f20"/>
<circle cx="542.31" cy="344.5" r="5.7" fill="#231f20"/>
<circle cx="556.24" cy="344.5" r="5.7" fill="#231f20"/>
<circle cx="570.17" cy="344.5" r="5.7" fill="#231f20"/>
<circle cx="584.1" cy="344.5" r="5.7" fill="#231f20"/>
<circle cx="507.5" cy="356.4" r="5.7" fill="#231f20"/>
<circle cx="521.43" cy="356.4" r="5.7" fill="#231f20"/>
<circle cx="535.36" cy="356.4" r="5.7" fill="#231f20"/>
<circle cx="549.29" cy="356.4" r="5.7" fill="#231f20"/>
<circle cx="563.22" cy="356.4" r="5.7" fill="#231f20"/>
<circle cx="577.15" cy="356.4" r="5.7" fill="#231f20"/>
<circle cx="591.08" cy="356.4" r="5.7" fill="#231f20"/>
<rect x="522.1" y="359.5" width="53.6" height="17.5" fill="#e8352a" stroke="#a81e1a" stroke-width="0.8"/>
<rect x="522.6" y="360" width="52.6" height="6.8" fill="#f4922a"/>
<circle cx="609.5" cy="331.3" r="6.2" fill="none" stroke="#8cc63f" stroke-width="1.6"/>
<line x1="608" y1="327.2" x2="608" y2="335.4" stroke="#8cc63f" stroke-width="1"/>
<line x1="611" y1="327.2" x2="611" y2="335.4" stroke="#8cc63f" stroke-width="1"/>
<rect x="619.2" y="319.8" width="6.8" height="16.6" fill="#d9e021" stroke="#333" stroke-width="1"/>
<rect x="620.5" y="325" width="4.2" height="5" fill="#f6f9a0"/>
<polygon points="635.1,322.9 641.8,336.2 628.4,336.2" fill="none" stroke="#e3e33a" stroke-width="1.5" stroke-linejoin="round"/>
<line x1="635.1" y1="327.5" x2="635.1" y2="333.5" stroke="#c8c83a" stroke-width="1.2"/>
<path d="M605,346 q1.5,-2 3,-0.5 t3,0 t3,-0.5" fill="none" stroke="#fff" stroke-width="1.3"/>
<text x="605" y="353.5" font-size="6.5" fill="#fff" font-weight="bold">AC</text>
<rect x="462" y="377.5" width="185" height="110.5" fill="#c0c1c4" stroke="#3a3a3a" stroke-width="1"/>
<rect x="544.3" y="377.5" width="14.6" height="12.8" fill="#f5821f" stroke="#9a3a10" stroke-width="0.8"/>
<path d="M547.3,380 L551.6,388 L555.9,380 M549.5,380 L551.6,384 L553.7,380" fill="none" stroke="#d42a1a" stroke-width="1.3"/>
<clipPath id="g918"><polygon points="478.3,390.3 628.7,390.3 628.7,417.3 610.5,417.3 599.4,431.8 507.6,431.8 496.5,417.3 478.3,417.3"/></clipPath>
<polygon points="478.3,390.3 628.7,390.3 628.7,417.3 610.5,417.3 599.4,431.8 507.6,431.8 496.5,417.3 478.3,417.3" fill="#f4f4f4"/>
<g clip-path="url(#g918)" fill="#1c1c1c">
<rect x="481.9" y="389.8" width="5.9" height="7.3"/>
<rect x="489.68" y="389.8" width="5.9" height="7.3"/>
<rect x="497.46" y="389.8" width="5.9" height="7.3"/>
<rect x="505.24" y="389.8" width="5.9" height="7.3"/>
<rect x="513.02" y="389.8" width="5.9" height="7.3"/>
<rect x="520.8" y="389.8" width="5.9" height="7.3"/>
<rect x="528.58" y="389.8" width="5.9" height="7.3"/>
<rect x="536.36" y="389.8" width="5.9" height="7.3"/>
<rect x="544.14" y="389.8" width="5.9" height="7.3"/>
<rect x="551.92" y="389.8" width="5.9" height="7.3"/>
<rect x="559.7" y="389.8" width="5.9" height="7.3"/>
<rect x="567.48" y="389.8" width="5.9" height="7.3"/>
<rect x="575.26" y="389.8" width="5.9" height="7.3"/>
<rect x="583.04" y="389.8" width="5.9" height="7.3"/>
<rect x="590.82" y="389.8" width="5.9" height="7.3"/>
<rect x="598.6" y="389.8" width="5.9" height="7.3"/>
<rect x="606.38" y="389.8" width="5.9" height="7.3"/>
<rect x="614.16" y="389.8" width="5.9" height="7.3"/>
<rect x="621.94" y="389.8" width="5.9" height="7.3"/>
<rect x="629.72" y="389.8" width="5.9" height="7.3"/>
<rect x="481.9" y="400" width="5.9" height="7.2"/>
<rect x="489.68" y="400" width="5.9" height="7.2"/>
<rect x="497.46" y="400" width="5.9" height="7.2"/>
<rect x="505.24" y="400" width="5.9" height="7.2"/>
<rect x="513.02" y="400" width="5.9" height="7.2"/>
<rect x="520.8" y="400" width="5.9" height="7.2"/>
<rect x="528.58" y="400" width="5.9" height="7.2"/>
<rect x="536.36" y="400" width="5.9" height="7.2"/>
<rect x="544.14" y="400" width="5.9" height="7.2"/>
<rect x="551.92" y="400" width="5.9" height="7.2"/>
<rect x="559.7" y="400" width="5.9" height="7.2"/>
<rect x="567.48" y="400" width="5.9" height="7.2"/>
<rect x="575.26" y="400" width="5.9" height="7.2"/>
<rect x="583.04" y="400" width="5.9" height="7.2"/>
<rect x="590.82" y="400" width="5.9" height="7.2"/>
<rect x="598.6" y="400" width="5.9" height="7.2"/>
<rect x="606.38" y="400" width="5.9" height="7.2"/>
<rect x="614.16" y="400" width="5.9" height="7.2"/>
<rect x="621.94" y="400" width="5.9" height="7.2"/>
<rect x="629.72" y="400" width="5.9" height="7.2"/>
<rect x="481.9" y="410.2" width="5.9" height="6.6"/>
<rect x="489.68" y="410.2" width="5.9" height="6.6"/>
<rect x="497.46" y="410.2" width="5.9" height="6.6"/>
<rect x="505.24" y="410.2" width="5.9" height="6.6"/>
<rect x="513.02" y="410.2" width="5.9" height="6.6"/>
<rect x="520.8" y="410.2" width="5.9" height="6.6"/>
<rect x="528.58" y="410.2" width="5.9" height="6.6"/>
<rect x="536.36" y="410.2" width="5.9" height="6.6"/>
<rect x="544.14" y="410.2" width="5.9" height="6.6"/>
<rect x="551.92" y="410.2" width="5.9" height="6.6"/>
<rect x="559.7" y="410.2" width="5.9" height="6.6"/>
<rect x="567.48" y="410.2" width="5.9" height="6.6"/>
<rect x="575.26" y="410.2" width="5.9" height="6.6"/>
<rect x="583.04" y="410.2" width="5.9" height="6.6"/>
<rect x="590.82" y="410.2" width="5.9" height="6.6"/>
<rect x="598.6" y="410.2" width="5.9" height="6.6"/>
<rect x="606.38" y="410.2" width="5.9" height="6.6"/>
<rect x="614.16" y="410.2" width="5.9" height="6.6"/>
<rect x="621.94" y="410.2" width="5.9" height="6.6"/>
<rect x="629.72" y="410.2" width="5.9" height="6.6"/>
<rect x="481.9" y="419" width="5.9" height="6.8"/>
<rect x="489.68" y="419" width="5.9" height="6.8"/>
<rect x="497.46" y="419" width="5.9" height="6.8"/>
<rect x="505.24" y="419" width="5.9" height="6.8"/>
<rect x="513.02" y="419" width="5.9" height="6.8"/>
<rect x="520.8" y="419" width="5.9" height="6.8"/>
<rect x="528.58" y="419" width="5.9" height="6.8"/>
<rect x="536.36" y="419" width="5.9" height="6.8"/>
<rect x="544.14" y="419" width="5.9" height="6.8"/>
<rect x="551.92" y="419" width="5.9" height="6.8"/>
<rect x="559.7" y="419" width="5.9" height="6.8"/>
<rect x="567.48" y="419" width="5.9" height="6.8"/>
<rect x="575.26" y="419" width="5.9" height="6.8"/>
<rect x="583.04" y="419" width="5.9" height="6.8"/>
<rect x="590.82" y="419" width="5.9" height="6.8"/>
<rect x="598.6" y="419" width="5.9" height="6.8"/>
<rect x="606.38" y="419" width="5.9" height="6.8"/>
<rect x="614.16" y="419" width="5.9" height="6.8"/>
<rect x="621.94" y="419" width="5.9" height="6.8"/>
<rect x="629.72" y="419" width="5.9" height="6.8"/>
<rect x="478.3" y="427.5" width="150.4" height="1.2"/>
<rect x="478.3" y="390.3" width="3" height="27" fill="#333"/>
<rect x="625.7" y="390.3" width="3" height="27" fill="#333"/>
</g>
<polygon points="478.3,390.3 628.7,390.3 628.7,417.3 610.5,417.3 599.4,431.8 507.6,431.8 496.5,417.3 478.3,417.3" fill="none" stroke="#1c1c1c" stroke-width="1.6" stroke-linejoin="miter"/>
<line x1="478.3" y1="417.3" x2="496.5" y2="417.3" stroke="#1c1c1c" stroke-width="1.4"/>
<line x1="610.5" y1="417.3" x2="628.7" y2="417.3" stroke="#1c1c1c" stroke-width="1.4"/>
<rect x="462.5" y="432.5" width="184" height="17.8" rx="3" fill="url(#rodg)"/>
<path d="M467.3,452.5 L477.6,451.8 L477.6,463 L495.6,463 L495.6,451.8 L505.8,451.5 L505.8,487 L471.3,486.5 Q465.8,483 468.8,470 Q468.3,459 467.3,454 Z" fill="#7f7f83" stroke="#4a4a4a" stroke-width="1"/>
<path d="M639.4,452.5 L626.8,451.8 L626.8,463 L608.8,463 L608.8,451.8 L600.9,451.5 L600.9,487 L635.4,486.5 Q640.9,483 637.9,470 Q638.4,459 639.4,454 Z" fill="#7f7f83" stroke="#4a4a4a" stroke-width="1"/>
<rect x="505.8" y="453" width="95.1" height="34" fill="url(#panelg)" stroke="#555" stroke-width="0.8"/>
<rect x="477.6" y="456" width="18" height="7" fill="url(#tabg)" stroke="#333" stroke-width="0.8"/>
<rect x="480.1" y="432.5" width="12.9" height="27" fill="#cbcbcb" stroke="#666" stroke-width="0.8"/>
<rect x="608.8" y="456" width="18" height="7" fill="url(#tabg)" stroke="#333" stroke-width="0.8"/>
<rect x="611.3" y="432.5" width="12.9" height="27" fill="#cbcbcb" stroke="#666" stroke-width="0.8"/>
<rect x="550.3" y="461.8" width="44.6" height="12" fill="#262626" rx="6"/>
<circle cx="557.3" cy="467.8" r="4.2" fill="#484848" stroke="#333" stroke-width="0.6"/>
<circle cx="567.6" cy="467.8" r="4.2" fill="#484848" stroke="#333" stroke-width="0.6"/>
<circle cx="577.9" cy="467.8" r="4.2" fill="#484848" stroke="#333" stroke-width="0.6"/>
<circle cx="588.2" cy="467.8" r="4.2" fill="#484848" stroke="#333" stroke-width="0.6"/>
<path d="M550.3,462.5 L523.3,461.5 Q517.3,457.5 510.3,458 L510.3,474.5 L550.3,474.5 Z" fill="#f7941d"/>
<rect x="510.1" y="466.5" width="40" height="2.2" fill="#fbb040"/>
<rect x="666.5" y="319.5" width="180" height="58" fill="#bdc0c3" stroke="#3a3a3a" stroke-width="1"/>
<circle cx="711" cy="333" r="5.7" fill="#231f20"/>
<circle cx="724.93" cy="333" r="5.7" fill="#231f20"/>
<circle cx="738.86" cy="333" r="5.7" fill="#231f20"/>
<circle cx="752.79" cy="333" r="5.7" fill="#231f20"/>
<circle cx="766.72" cy="333" r="5.7" fill="#231f20"/>
<circle cx="780.65" cy="333" r="5.7" fill="#231f20"/>
<circle cx="794.58" cy="333" r="5.7" fill="#231f20"/>
<circle cx="717.95" cy="344.5" r="5.7" fill="#231f20"/>
<circle cx="731.88" cy="344.5" r="5.7" fill="#231f20"/>
<circle cx="745.81" cy="344.5" r="5.7" fill="#231f20"/>
<circle cx="759.74" cy="344.5" r="5.7" fill="#231f20"/>
<circle cx="773.67" cy="344.5" r="5.7" fill="#231f20"/>
<circle cx="787.6" cy="344.5" r="5.7" fill="#231f20"/>
<circle cx="711" cy="356.4" r="5.7" fill="#231f20"/>
<circle cx="724.93" cy="356.4" r="5.7" fill="#231f20"/>
<circle cx="738.86" cy="356.4" r="5.7" fill="#231f20"/>
<circle cx="752.79" cy="356.4" r="5.7" fill="#231f20"/>
<circle cx="766.72" cy="356.4" r="5.7" fill="#231f20"/>
<circle cx="780.65" cy="356.4" r="5.7" fill="#231f20"/>
<circle cx="794.58" cy="356.4" r="5.7" fill="#231f20"/>
<rect x="725.6" y="359.5" width="53.6" height="17.5" fill="#e8352a" stroke="#a81e1a" stroke-width="0.8"/>
<rect x="726.1" y="360" width="52.6" height="6.8" fill="#f4922a"/>
<circle cx="811" cy="331.3" r="6.2" fill="none" stroke="#8cc63f" stroke-width="1.6"/>
<line x1="809.5" y1="327.2" x2="809.5" y2="335.4" stroke="#8cc63f" stroke-width="1"/>
<line x1="812.5" y1="327.2" x2="812.5" y2="335.4" stroke="#8cc63f" stroke-width="1"/>
<rect x="820.7" y="319.8" width="6.8" height="16.6" fill="#d9e021" stroke="#333" stroke-width="1"/>
<rect x="822" y="325" width="4.2" height="5" fill="#f6f9a0"/>
<polygon points="836.6,322.9 843.3,336.2 829.9,336.2" fill="none" stroke="#e3e33a" stroke-width="1.5" stroke-linejoin="round"/>
<line x1="836.6" y1="327.5" x2="836.6" y2="333.5" stroke="#c8c83a" stroke-width="1.2"/>
<path d="M806.5,346 q1.5,-2 3,-0.5 t3,0 t3,-0.5" fill="none" stroke="#fff" stroke-width="1.3"/>
<text x="806.5" y="353.5" font-size="6.5" fill="#fff" font-weight="bold">AC</text>
<rect x="666.5" y="377.5" width="180" height="110.5" fill="#c0c1c4" stroke="#3a3a3a" stroke-width="1"/>
<rect x="747.8" y="377.5" width="14.6" height="12.8" fill="#f5821f" stroke="#9a3a10" stroke-width="0.8"/>
<path d="M750.8,380 L755.1,388 L759.4,380 M753,380 L755.1,384 L757.2,380" fill="none" stroke="#d42a1a" stroke-width="1.3"/>
<clipPath id="g1058"><polygon points="681.8,391.5 832.2,391.5 832.2,418.5 814,418.5 802.9,433 711.1,433 700,418.5 681.8,418.5"/></clipPath>
<polygon points="681.8,391.5 832.2,391.5 832.2,418.5 814,418.5 802.9,433 711.1,433 700,418.5 681.8,418.5" fill="#d2d2d2"/>
<g clip-path="url(#g1058)" fill="#1c1c1c">
<rect x="685.4" y="391" width="5.9" height="7.3"/>
<rect x="693.18" y="391" width="5.9" height="7.3"/>
<rect x="700.96" y="391" width="5.9" height="7.3"/>
<rect x="708.74" y="391" width="5.9" height="7.3"/>
<rect x="716.52" y="391" width="5.9" height="7.3"/>
<rect x="724.3" y="391" width="5.9" height="7.3"/>
<rect x="732.08" y="391" width="5.9" height="7.3"/>
<rect x="739.86" y="391" width="5.9" height="7.3"/>
<rect x="747.64" y="391" width="5.9" height="7.3"/>
<rect x="755.42" y="391" width="5.9" height="7.3"/>
<rect x="763.2" y="391" width="5.9" height="7.3"/>
<rect x="770.98" y="391" width="5.9" height="7.3"/>
<rect x="778.76" y="391" width="5.9" height="7.3"/>
<rect x="786.54" y="391" width="5.9" height="7.3"/>
<rect x="794.32" y="391" width="5.9" height="7.3"/>
<rect x="802.1" y="391" width="5.9" height="7.3"/>
<rect x="809.88" y="391" width="5.9" height="7.3"/>
<rect x="817.66" y="391" width="5.9" height="7.3"/>
<rect x="825.44" y="391" width="5.9" height="7.3"/>
<rect x="833.22" y="391" width="5.9" height="7.3"/>
<rect x="685.4" y="401.2" width="5.9" height="7.2"/>
<rect x="693.18" y="401.2" width="5.9" height="7.2"/>
<rect x="700.96" y="401.2" width="5.9" height="7.2"/>
<rect x="708.74" y="401.2" width="5.9" height="7.2"/>
<rect x="716.52" y="401.2" width="5.9" height="7.2"/>
<rect x="724.3" y="401.2" width="5.9" height="7.2"/>
<rect x="732.08" y="401.2" width="5.9" height="7.2"/>
<rect x="739.86" y="401.2" width="5.9" height="7.2"/>
<rect x="747.64" y="401.2" width="5.9" height="7.2"/>
<rect x="755.42" y="401.2" width="5.9" height="7.2"/>
<rect x="763.2" y="401.2" width="5.9" height="7.2"/>
<rect x="770.98" y="401.2" width="5.9" height="7.2"/>
<rect x="778.76" y="401.2" width="5.9" height="7.2"/>
<rect x="786.54" y="401.2" width="5.9" height="7.2"/>
<rect x="794.32" y="401.2" width="5.9" height="7.2"/>
<rect x="802.1" y="401.2" width="5.9" height="7.2"/>
<rect x="809.88" y="401.2" width="5.9" height="7.2"/>
<rect x="817.66" y="401.2" width="5.9" height="7.2"/>
<rect x="825.44" y="401.2" width="5.9" height="7.2"/>
<rect x="833.22" y="401.2" width="5.9" height="7.2"/>
<rect x="685.4" y="411.4" width="5.9" height="6.6"/>
<rect x="693.18" y="411.4" width="5.9" height="6.6"/>
<rect x="700.96" y="411.4" width="5.9" height="6.6"/>
<rect x="708.74" y="411.4" width="5.9" height="6.6"/>
<rect x="716.52" y="411.4" width="5.9" height="6.6"/>
<rect x="724.3" y="411.4" width="5.9" height="6.6"/>
<rect x="732.08" y="411.4" width="5.9" height="6.6"/>
<rect x="739.86" y="411.4" width="5.9" height="6.6"/>
<rect x="747.64" y="411.4" width="5.9" height="6.6"/>
<rect x="755.42" y="411.4" width="5.9" height="6.6"/>
<rect x="763.2" y="411.4" width="5.9" height="6.6"/>
<rect x="770.98" y="411.4" width="5.9" height="6.6"/>
<rect x="778.76" y="411.4" width="5.9" height="6.6"/>
<rect x="786.54" y="411.4" width="5.9" height="6.6"/>
<rect x="794.32" y="411.4" width="5.9" height="6.6"/>
<rect x="802.1" y="411.4" width="5.9" height="6.6"/>
<rect x="809.88" y="411.4" width="5.9" height="6.6"/>
<rect x="817.66" y="411.4" width="5.9" height="6.6"/>
<rect x="825.44" y="411.4" width="5.9" height="6.6"/>
<rect x="833.22" y="411.4" width="5.9" height="6.6"/>
<rect x="685.4" y="420.2" width="5.9" height="6.8"/>
<rect x="693.18" y="420.2" width="5.9" height="6.8"/>
<rect x="700.96" y="420.2" width="5.9" height="6.8"/>
<rect x="708.74" y="420.2" width="5.9" height="6.8"/>
<rect x="716.52" y="420.2" width="5.9" height="6.8"/>
<rect x="724.3" y="420.2" width="5.9" height="6.8"/>
<rect x="732.08" y="420.2" width="5.9" height="6.8"/>
<rect x="739.86" y="420.2" width="5.9" height="6.8"/>
<rect x="747.64" y="420.2" width="5.9" height="6.8"/>
<rect x="755.42" y="420.2" width="5.9" height="6.8"/>
<rect x="763.2" y="420.2" width="5.9" height="6.8"/>
<rect x="770.98" y="420.2" width="5.9" height="6.8"/>
<rect x="778.76" y="420.2" width="5.9" height="6.8"/>
<rect x="786.54" y="420.2" width="5.9" height="6.8"/>
<rect x="794.32" y="420.2" width="5.9" height="6.8"/>
<rect x="802.1" y="420.2" width="5.9" height="6.8"/>
<rect x="809.88" y="420.2" width="5.9" height="6.8"/>
<rect x="817.66" y="420.2" width="5.9" height="6.8"/>
<rect x="825.44" y="420.2" width="5.9" height="6.8"/>
<rect x="833.22" y="420.2" width="5.9" height="6.8"/>
<rect x="681.8" y="428.7" width="150.4" height="1.2"/>
<rect x="681.8" y="391.5" width="3" height="27" fill="#333"/>
<rect x="829.2" y="391.5" width="3" height="27" fill="#333"/>
</g>
<polygon points="681.8,391.5 832.2,391.5 832.2,418.5 814,418.5 802.9,433 711.1,433 700,418.5 681.8,418.5" fill="none" stroke="#1c1c1c" stroke-width="1.6" stroke-linejoin="miter"/>
<line x1="681.8" y1="418.5" x2="700" y2="418.5" stroke="#1c1c1c" stroke-width="1.4"/>
<line x1="814" y1="418.5" x2="832.2" y2="418.5" stroke="#1c1c1c" stroke-width="1.4"/>
<rect x="667" y="432.5" width="179" height="17.8" rx="3" fill="url(#rodg)"/>
<path d="M670.8,452.5 L681.1,451.8 L681.1,463 L699.1,463 L699.1,451.8 L709.3,451.5 L709.3,487 L674.8,486.5 Q669.3,483 672.3,470 Q671.8,459 670.8,454 Z" fill="#7f7f83" stroke="#4a4a4a" stroke-width="1"/>
<path d="M842.7,452.5 L830.7,451.8 L830.7,463 L812.7,463 L812.7,451.8 L804.2,451.5 L804.2,487 L838.7,486.5 Q844.2,483 841.2,470 Q841.7,459 842.7,454 Z" fill="#7f7f83" stroke="#4a4a4a" stroke-width="1"/>
<rect x="709.3" y="453" width="94.9" height="34" fill="url(#panelg)" stroke="#555" stroke-width="0.8"/>
<rect x="681.1" y="456" width="18" height="7" fill="url(#tabg)" stroke="#333" stroke-width="0.8"/>
<rect x="683.6" y="432.5" width="12.9" height="27" fill="#cbcbcb" stroke="#666" stroke-width="0.8"/>
<rect x="812.7" y="456" width="18" height="7" fill="url(#tabg)" stroke="#333" stroke-width="0.8"/>
<rect x="815.2" y="432.5" width="12.9" height="27" fill="#cbcbcb" stroke="#666" stroke-width="0.8"/>
<rect x="713.6" y="461.8" width="44.6" height="12" fill="#262626" rx="6"/>
<circle cx="720.6" cy="467.8" r="4.2" fill="#484848" stroke="#333" stroke-width="0.6"/>
<circle cx="730.9" cy="467.8" r="4.2" fill="#484848" stroke="#333" stroke-width="0.6"/>
<circle cx="741.2" cy="467.8" r="4.2" fill="#484848" stroke="#333" stroke-width="0.6"/>
<circle cx="751.5" cy="467.8" r="4.2" fill="#484848" stroke="#333" stroke-width="0.6"/>
<path d="M758.2,462.5 L785.2,461.5 Q791.2,457.5 798.2,458 L798.2,474.5 L758.2,474.5 Z" fill="#f7941d"/>
<rect x="758.2" y="466.5" width="40" height="2.2" fill="#fbb040"/>
<rect x="870" y="319.5" width="184" height="58" fill="#bdc0c3" stroke="#3a3a3a" stroke-width="1"/>
<circle cx="916.2" cy="333" r="5.7" fill="#231f20"/>
<circle cx="930.13" cy="333" r="5.7" fill="#231f20"/>
<circle cx="944.06" cy="333" r="5.7" fill="#231f20"/>
<circle cx="957.99" cy="333" r="5.7" fill="#231f20"/>
<circle cx="971.92" cy="333" r="5.7" fill="#231f20"/>
<circle cx="985.85" cy="333" r="5.7" fill="#231f20"/>
<circle cx="999.78" cy="333" r="5.7" fill="#231f20"/>
<circle cx="923.15" cy="344.5" r="5.7" fill="#231f20"/>
<circle cx="937.08" cy="344.5" r="5.7" fill="#231f20"/>
<circle cx="951.01" cy="344.5" r="5.7" fill="#231f20"/>
<circle cx="964.94" cy="344.5" r="5.7" fill="#231f20"/>
<circle cx="978.87" cy="344.5" r="5.7" fill="#231f20"/>
<circle cx="992.8" cy="344.5" r="5.7" fill="#231f20"/>
<circle cx="916.2" cy="356.4" r="5.7" fill="#231f20"/>
<circle cx="930.13" cy="356.4" r="5.7" fill="#231f20"/>
<circle cx="944.06" cy="356.4" r="5.7" fill="#231f20"/>
<circle cx="957.99" cy="356.4" r="5.7" fill="#231f20"/>
<circle cx="971.92" cy="356.4" r="5.7" fill="#231f20"/>
<circle cx="985.85" cy="356.4" r="5.7" fill="#231f20"/>
<circle cx="999.78" cy="356.4" r="5.7" fill="#231f20"/>
<rect x="930.8" y="359.5" width="53.6" height="17.5" fill="#e8352a" stroke="#a81e1a" stroke-width="0.8"/>
<rect x="931.3" y="360" width="52.6" height="6.8" fill="#f4922a"/>
<circle cx="1020.5" cy="331.3" r="6.2" fill="none" stroke="#8cc63f" stroke-width="1.6"/>
<line x1="1019" y1="327.2" x2="1019" y2="335.4" stroke="#8cc63f" stroke-width="1"/>
<line x1="1022" y1="327.2" x2="1022" y2="335.4" stroke="#8cc63f" stroke-width="1"/>
<rect x="1030.2" y="319.8" width="6.8" height="16.6" fill="#d9e021" stroke="#333" stroke-width="1"/>
<rect x="1031.5" y="325" width="4.2" height="5" fill="#f6f9a0"/>
<polygon points="1046.1,322.9 1052.8,336.2 1039.4,336.2" fill="none" stroke="#e3e33a" stroke-width="1.5" stroke-linejoin="round"/>
<line x1="1046.1" y1="327.5" x2="1046.1" y2="333.5" stroke="#c8c83a" stroke-width="1.2"/>
<path d="M1016,346 q1.5,-2 3,-0.5 t3,0 t3,-0.5" fill="none" stroke="#fff" stroke-width="1.3"/>
<text x="1016" y="353.5" font-size="6.5" fill="#fff" font-weight="bold">AC</text>
<rect x="870" y="377.5" width="184" height="110.5" fill="#c0c1c4" stroke="#3a3a3a" stroke-width="1"/>
<rect x="953" y="377.5" width="14.6" height="12.8" fill="#f5821f" stroke="#9a3a10" stroke-width="0.8"/>
<path d="M956,380 L960.3,388 L964.6,380 M958.2,380 L960.3,384 L962.4,380" fill="none" stroke="#d42a1a" stroke-width="1.3"/>
<clipPath id="g1198"><polygon points="887,390.3 1037.4,390.3 1037.4,417.3 1019.2,417.3 1008.1,431.8 916.3,431.8 905.2,417.3 887,417.3"/></clipPath>
<polygon points="887,390.3 1037.4,390.3 1037.4,417.3 1019.2,417.3 1008.1,431.8 916.3,431.8 905.2,417.3 887,417.3" fill="#d2d2d2"/>
<g clip-path="url(#g1198)" fill="#1c1c1c">
<rect x="890.6" y="389.8" width="5.9" height="7.3"/>
<rect x="898.38" y="389.8" width="5.9" height="7.3"/>
<rect x="906.16" y="389.8" width="5.9" height="7.3"/>
<rect x="913.94" y="389.8" width="5.9" height="7.3"/>
<rect x="921.72" y="389.8" width="5.9" height="7.3"/>
<rect x="929.5" y="389.8" width="5.9" height="7.3"/>
<rect x="937.28" y="389.8" width="5.9" height="7.3"/>
<rect x="945.06" y="389.8" width="5.9" height="7.3"/>
<rect x="952.84" y="389.8" width="5.9" height="7.3"/>
<rect x="960.62" y="389.8" width="5.9" height="7.3"/>
<rect x="968.4" y="389.8" width="5.9" height="7.3"/>
<rect x="976.18" y="389.8" width="5.9" height="7.3"/>
<rect x="983.96" y="389.8" width="5.9" height="7.3"/>
<rect x="991.74" y="389.8" width="5.9" height="7.3"/>
<rect x="999.52" y="389.8" width="5.9" height="7.3"/>
<rect x="1007.3" y="389.8" width="5.9" height="7.3"/>
<rect x="1015.08" y="389.8" width="5.9" height="7.3"/>
<rect x="1022.86" y="389.8" width="5.9" height="7.3"/>
<rect x="1030.64" y="389.8" width="5.9" height="7.3"/>
<rect x="1038.42" y="389.8" width="5.9" height="7.3"/>
<rect x="890.6" y="400" width="5.9" height="7.2"/>
<rect x="898.38" y="400" width="5.9" height="7.2"/>
<rect x="906.16" y="400" width="5.9" height="7.2"/>
<rect x="913.94" y="400" width="5.9" height="7.2"/>
<rect x="921.72" y="400" width="5.9" height="7.2"/>
<rect x="929.5" y="400" width="5.9" height="7.2"/>
<rect x="937.28" y="400" width="5.9" height="7.2"/>
<rect x="945.06" y="400" width="5.9" height="7.2"/>
<rect x="952.84" y="400" width="5.9" height="7.2"/>
<rect x="960.62" y="400" width="5.9" height="7.2"/>
<rect x="968.4" y="400" width="5.9" height="7.2"/>
<rect x="976.18" y="400" width="5.9" height="7.2"/>
<rect x="983.96" y="400" width="5.9" height="7.2"/>
<rect x="991.74" y="400" width="5.9" height="7.2"/>
<rect x="999.52" y="400" width="5.9" height="7.2"/>
<rect x="1007.3" y="400" width="5.9" height="7.2"/>
<rect x="1015.08" y="400" width="5.9" height="7.2"/>
<rect x="1022.86" y="400" width="5.9" height="7.2"/>
<rect x="1030.64" y="400" width="5.9" height="7.2"/>
<rect x="1038.42" y="400" width="5.9" height="7.2"/>
<rect x="890.6" y="410.2" width="5.9" height="6.6"/>
<rect x="898.38" y="410.2" width="5.9" height="6.6"/>
<rect x="906.16" y="410.2" width="5.9" height="6.6"/>
<rect x="913.94" y="410.2" width="5.9" height="6.6"/>
<rect x="921.72" y="410.2" width="5.9" height="6.6"/>
<rect x="929.5" y="410.2" width="5.9" height="6.6"/>
<rect x="937.28" y="410.2" width="5.9" height="6.6"/>
<rect x="945.06" y="410.2" width="5.9" height="6.6"/>
<rect x="952.84" y="410.2" width="5.9" height="6.6"/>
<rect x="960.62" y="410.2" width="5.9" height="6.6"/>
<rect x="968.4" y="410.2" width="5.9" height="6.6"/>
<rect x="976.18" y="410.2" width="5.9" height="6.6"/>
<rect x="983.96" y="410.2" width="5.9" height="6.6"/>
<rect x="991.74" y="410.2" width="5.9" height="6.6"/>
<rect x="999.52" y="410.2" width="5.9" height="6.6"/>
<rect x="1007.3" y="410.2" width="5.9" height="6.6"/>
<rect x="1015.08" y="410.2" width="5.9" height="6.6"/>
<rect x="1022.86" y="410.2" width="5.9" height="6.6"/>
<rect x="1030.64" y="410.2" width="5.9" height="6.6"/>
<rect x="1038.42" y="410.2" width="5.9" height="6.6"/>
<rect x="890.6" y="419" width="5.9" height="6.8"/>
<rect x="898.38" y="419" width="5.9" height="6.8"/>
<rect x="906.16" y="419" width="5.9" height="6.8"/>
<rect x="913.94" y="419" width="5.9" height="6.8"/>
<rect x="921.72" y="419" width="5.9" height="6.8"/>
<rect x="929.5" y="419" width="5.9" height="6.8"/>
<rect x="937.28" y="419" width="5.9" height="6.8"/>
<rect x="945.06" y="419" width="5.9" height="6.8"/>
<rect x="952.84" y="419" width="5.9" height="6.8"/>
<rect x="960.62" y="419" width="5.9" height="6.8"/>
<rect x="968.4" y="419" width="5.9" height="6.8"/>
<rect x="976.18" y="419" width="5.9" height="6.8"/>
<rect x="983.96" y="419" width="5.9" height="6.8"/>
<rect x="991.74" y="419" width="5.9" height="6.8"/>
<rect x="999.52" y="419" width="5.9" height="6.8"/>
<rect x="1007.3" y="419" width="5.9" height="6.8"/>
<rect x="1015.08" y="419" width="5.9" height="6.8"/>
<rect x="1022.86" y="419" width="5.9" height="6.8"/>
<rect x="1030.64" y="419" width="5.9" height="6.8"/>
<rect x="1038.42" y="419" width="5.9" height="6.8"/>
<rect x="887" y="427.5" width="150.4" height="1.2"/>
<rect x="887" y="390.3" width="3" height="27" fill="#333"/>
<rect x="1034.4" y="390.3" width="3" height="27" fill="#333"/>
</g>
<polygon points="887,390.3 1037.4,390.3 1037.4,417.3 1019.2,417.3 1008.1,431.8 916.3,431.8 905.2,417.3 887,417.3" fill="none" stroke="#1c1c1c" stroke-width="1.6" stroke-linejoin="miter"/>
<line x1="887" y1="417.3" x2="905.2" y2="417.3" stroke="#1c1c1c" stroke-width="1.4"/>
<line x1="1019.2" y1="417.3" x2="1037.4" y2="417.3" stroke="#1c1c1c" stroke-width="1.4"/>
<rect x="870.5" y="432.5" width="183" height="17.8" rx="3" fill="url(#rodg)"/>
<path d="M876,452.5 L886.3,451.8 L886.3,463 L904.3,463 L904.3,451.8 L914.5,451.5 L914.5,487 L880,486.5 Q874.5,483 877.5,470 Q877,459 876,454 Z" fill="#7f7f83" stroke="#4a4a4a" stroke-width="1"/>
<path d="M1049.6,452.5 L1036.9,451.8 L1036.9,463 L1018.9,463 L1018.9,451.8 L1011.1,451.5 L1011.1,487 L1045.6,486.5 Q1051.1,483 1048.1,470 Q1048.6,459 1049.6,454 Z" fill="#7f7f83" stroke="#4a4a4a" stroke-width="1"/>
<rect x="914.5" y="453" width="96.6" height="34" fill="url(#panelg)" stroke="#555" stroke-width="0.8"/>
<rect x="886.3" y="456" width="18" height="7" fill="url(#tabg)" stroke="#333" stroke-width="0.8"/>
<rect x="888.8" y="432.5" width="12.9" height="27" fill="#cbcbcb" stroke="#666" stroke-width="0.8"/>
<rect x="1018.9" y="456" width="18" height="7" fill="url(#tabg)" stroke="#333" stroke-width="0.8"/>
<rect x="1021.4" y="432.5" width="12.9" height="27" fill="#cbcbcb" stroke="#666" stroke-width="0.8"/>
<rect x="959" y="461.8" width="44.6" height="12" fill="#262626" rx="6"/>
<circle cx="966" cy="467.8" r="4.2" fill="#484848" stroke="#333" stroke-width="0.6"/>
<circle cx="976.3" cy="467.8" r="4.2" fill="#484848" stroke="#333" stroke-width="0.6"/>
<circle cx="986.6" cy="467.8" r="4.2" fill="#484848" stroke="#333" stroke-width="0.6"/>
<circle cx="996.9" cy="467.8" r="4.2" fill="#484848" stroke="#333" stroke-width="0.6"/>
<path d="M959,462.5 L932,461.5 Q926,457.5 919,458 L919,474.5 L959,474.5 Z" fill="#f7941d"/>
<rect x="918.8" y="466.5" width="40" height="2.2" fill="#fbb040"/>
<rect x="646.5" y="448" width="10" height="40" fill="#c0c1c4" stroke="#3a3a3a" stroke-width="1"/>
<rect x="656.5" y="448" width="10" height="40" fill="#c0c1c4" stroke="#3a3a3a" stroke-width="1"/>
<rect x="459.7" y="319" width="2.2" height="170" fill="#f0f0f0"/>
<rect x="868" y="319" width="2.2" height="170" fill="#f0f0f0"/>
<circle cx="449.5" cy="335" r="5" fill="#5fb894"/>
<circle cx="448.5" cy="333.8" r="2" fill="#b8e8d0"/>
<polygon points="449.5,358.54 457.5,372.46 441.5,372.46" fill="none" stroke="#f2e21b" stroke-width="1.6" stroke-linejoin="round"/>
<line x1="449.5" y1="362.54" x2="449.5" y2="368.46" stroke="#f2e21b" stroke-width="1.6"/>
<g transform="translate(449.5,402.5) scale(1)" fill="none" stroke="#eda53a" stroke-width="1.4" stroke-linejoin="round"><path d="M-3,12 L-6,3 L-8,-1 Q-8,-3 -6,-2 L-4,1 L-4,-7 Q-3,-9 -2,-7 L-1,-1 L0,-10 Q1,-12 2,-10 L2,-1 L4,-8 Q5,-10 6,-8 L5,0 L7,-5 Q8,-6 9,-4 L7,5 L4,12 Z"/><line x1="-10" y1="-8" x2="10" y2="7" stroke-width="3.2" stroke-linecap="round"/></g>
<circle cx="857.8" cy="335" r="5" fill="#5fb894"/>
<circle cx="856.8" cy="333.8" r="2" fill="#b8e8d0"/>
<polygon points="857.8,358.54 865.8,372.46 849.8,372.46" fill="none" stroke="#f2e21b" stroke-width="1.6" stroke-linejoin="round"/>
<line x1="857.8" y1="362.54" x2="857.8" y2="368.46" stroke="#f2e21b" stroke-width="1.6"/>
<g transform="translate(857.8,402.5) scale(1)" fill="none" stroke="#eda53a" stroke-width="1.4" stroke-linejoin="round"><path d="M-3,12 L-6,3 L-8,-1 Q-8,-3 -6,-2 L-4,1 L-4,-7 Q-3,-9 -2,-7 L-1,-1 L0,-10 Q1,-12 2,-10 L2,-1 L4,-8 Q5,-10 6,-8 L5,0 L7,-5 Q8,-6 9,-4 L7,5 L4,12 Z"/><line x1="-10" y1="-8" x2="10" y2="7" stroke-width="3.2" stroke-linecap="round"/></g>
<rect x="646.5" y="320" width="20" height="129" fill="#5e5e60" stroke="#777" stroke-width="1"/>
<polygon points="656.3,325.18 663.8,338.22 648.8,338.22" fill="none" stroke="#f2e21b" stroke-width="1.6" stroke-linejoin="round"/>
<line x1="656.3" y1="329.18" x2="656.3" y2="334.22" stroke="#f2e21b" stroke-width="1.6"/>
<circle cx="656.3" cy="355.8" r="6" fill="#f5c518" stroke="#6b5a00" stroke-width="0.8"/>
<circle cx="656.3" cy="378" r="6.3" fill="none" stroke="#d8d8d8" stroke-width="1.5"/>
<line x1="656.3" y1="372.5" x2="656.3" y2="383.5" stroke="#d8d8d8" stroke-width="1.5"/>
<circle cx="656.3" cy="402.5" r="6" fill="#2aa0e0" stroke="#0a4a70" stroke-width="0.8"/>
<circle cx="656.3" cy="402.5" r="2" fill="#9fe0ff"/>
<rect x="256" y="499.5" width="802" height="175" fill="#1d1d1d" rx="2"/>
<rect x="260" y="502" width="178" height="58" fill="#bdc0c3" stroke="#3a3a3a" stroke-width="1"/>
<circle cx="302.8" cy="515.5" r="5.7" fill="#231f20"/>
<circle cx="316.73" cy="515.5" r="5.7" fill="#231f20"/>
<circle cx="330.66" cy="515.5" r="5.7" fill="#231f20"/>
<circle cx="344.59" cy="515.5" r="5.7" fill="#231f20"/>
<circle cx="358.52" cy="515.5" r="5.7" fill="#231f20"/>
<circle cx="372.45" cy="515.5" r="5.7" fill="#231f20"/>
<circle cx="386.38" cy="515.5" r="5.7" fill="#231f20"/>
<circle cx="309.75" cy="527" r="5.7" fill="#231f20"/>
<circle cx="323.68" cy="527" r="5.7" fill="#231f20"/>
<circle cx="337.61" cy="527" r="5.7" fill="#231f20"/>
<circle cx="351.54" cy="527" r="5.7" fill="#231f20"/>
<circle cx="365.47" cy="527" r="5.7" fill="#231f20"/>
<circle cx="379.4" cy="527" r="5.7" fill="#231f20"/>
<circle cx="302.8" cy="538.9" r="5.7" fill="#231f20"/>
<circle cx="316.73" cy="538.9" r="5.7" fill="#231f20"/>
<circle cx="330.66" cy="538.9" r="5.7" fill="#231f20"/>
<circle cx="344.59" cy="538.9" r="5.7" fill="#231f20"/>
<circle cx="358.52" cy="538.9" r="5.7" fill="#231f20"/>
<circle cx="372.45" cy="538.9" r="5.7" fill="#231f20"/>
<circle cx="386.38" cy="538.9" r="5.7" fill="#231f20"/>
<rect x="317.4" y="542" width="53.6" height="17.5" fill="#e8352a" stroke="#a81e1a" stroke-width="0.8"/>
<rect x="317.9" y="542.5" width="52.6" height="6.8" fill="#f4922a"/>
<circle cx="403.1" cy="513.8" r="6.2" fill="none" stroke="#8cc63f" stroke-width="1.6"/>
<line x1="401.6" y1="509.7" x2="401.6" y2="517.9" stroke="#8cc63f" stroke-width="1"/>
<line x1="404.6" y1="509.7" x2="404.6" y2="517.9" stroke="#8cc63f" stroke-width="1"/>
<rect x="412.8" y="502.3" width="6.8" height="16.6" fill="#d9e021" stroke="#333" stroke-width="1"/>
<rect x="414.1" y="507.5" width="4.2" height="5" fill="#f6f9a0"/>
<polygon points="428.7,505.4 435.4,518.7 422,518.7" fill="none" stroke="#e3e33a" stroke-width="1.5" stroke-linejoin="round"/>
<line x1="428.7" y1="510" x2="428.7" y2="516" stroke="#c8c83a" stroke-width="1.2"/>
<path d="M398.6,528.5 q1.5,-2 3,-0.5 t3,0 t3,-0.5" fill="none" stroke="#fff" stroke-width="1.3"/>
<text x="398.6" y="536" font-size="6.5" fill="#fff" font-weight="bold">AC</text>
<rect x="260" y="560" width="178" height="110.5" fill="#c0c1c4" stroke="#3a3a3a" stroke-width="1"/>
<rect x="339.6" y="560" width="14.6" height="12.8" fill="#f5821f" stroke="#9a3a10" stroke-width="0.8"/>
<path d="M342.6,562.5 L346.9,570.5 L351.2,562.5 M344.8,562.5 L346.9,566.5 L349,562.5" fill="none" stroke="#d42a1a" stroke-width="1.3"/>
<clipPath id="g1361"><polygon points="273.6,574 424,574 424,601 405.8,601 394.7,615.5 302.9,615.5 291.8,601 273.6,601"/></clipPath>
<polygon points="273.6,574 424,574 424,601 405.8,601 394.7,615.5 302.9,615.5 291.8,601 273.6,601" fill="#d2d2d2"/>
<g clip-path="url(#g1361)" fill="#1c1c1c">
<rect x="277.2" y="573.5" width="5.9" height="7.3"/>
<rect x="284.98" y="573.5" width="5.9" height="7.3"/>
<rect x="292.76" y="573.5" width="5.9" height="7.3"/>
<rect x="300.54" y="573.5" width="5.9" height="7.3"/>
<rect x="308.32" y="573.5" width="5.9" height="7.3"/>
<rect x="316.1" y="573.5" width="5.9" height="7.3"/>
<rect x="323.88" y="573.5" width="5.9" height="7.3"/>
<rect x="331.66" y="573.5" width="5.9" height="7.3"/>
<rect x="339.44" y="573.5" width="5.9" height="7.3"/>
<rect x="347.22" y="573.5" width="5.9" height="7.3"/>
<rect x="355" y="573.5" width="5.9" height="7.3"/>
<rect x="362.78" y="573.5" width="5.9" height="7.3"/>
<rect x="370.56" y="573.5" width="5.9" height="7.3"/>
<rect x="378.34" y="573.5" width="5.9" height="7.3"/>
<rect x="386.12" y="573.5" width="5.9" height="7.3"/>
<rect x="393.9" y="573.5" width="5.9" height="7.3"/>
<rect x="401.68" y="573.5" width="5.9" height="7.3"/>
<rect x="409.46" y="573.5" width="5.9" height="7.3"/>
<rect x="417.24" y="573.5" width="5.9" height="7.3"/>
<rect x="425.02" y="573.5" width="5.9" height="7.3"/>
<rect x="277.2" y="583.7" width="5.9" height="7.2"/>
<rect x="284.98" y="583.7" width="5.9" height="7.2"/>
<rect x="292.76" y="583.7" width="5.9" height="7.2"/>
<rect x="300.54" y="583.7" width="5.9" height="7.2"/>
<rect x="308.32" y="583.7" width="5.9" height="7.2"/>
<rect x="316.1" y="583.7" width="5.9" height="7.2"/>
<rect x="323.88" y="583.7" width="5.9" height="7.2"/>
<rect x="331.66" y="583.7" width="5.9" height="7.2"/>
<rect x="339.44" y="583.7" width="5.9" height="7.2"/>
<rect x="347.22" y="583.7" width="5.9" height="7.2"/>
<rect x="355" y="583.7" width="5.9" height="7.2"/>
<rect x="362.78" y="583.7" width="5.9" height="7.2"/>
<rect x="370.56" y="583.7" width="5.9" height="7.2"/>
<rect x="378.34" y="583.7" width="5.9" height="7.2"/>
<rect x="386.12" y="583.7" width="5.9" height="7.2"/>
<rect x="393.9" y="583.7" width="5.9" height="7.2"/>
<rect x="401.68" y="583.7" width="5.9" height="7.2"/>
<rect x="409.46" y="583.7" width="5.9" height="7.2"/>
<rect x="417.24" y="583.7" width="5.9" height="7.2"/>
<rect x="425.02" y="583.7" width="5.9" height="7.2"/>
<rect x="277.2" y="593.9" width="5.9" height="6.6"/>
<rect x="284.98" y="593.9" width="5.9" height="6.6"/>
<rect x="292.76" y="593.9" width="5.9" height="6.6"/>
<rect x="300.54" y="593.9" width="5.9" height="6.6"/>
<rect x="308.32" y="593.9" width="5.9" height="6.6"/>
<rect x="316.1" y="593.9" width="5.9" height="6.6"/>
<rect x="323.88" y="593.9" width="5.9" height="6.6"/>
<rect x="331.66" y="593.9" width="5.9" height="6.6"/>
<rect x="339.44" y="593.9" width="5.9" height="6.6"/>
<rect x="347.22" y="593.9" width="5.9" height="6.6"/>
<rect x="355" y="593.9" width="5.9" height="6.6"/>
<rect x="362.78" y="593.9" width="5.9" height="6.6"/>
<rect x="370.56" y="593.9" width="5.9" height="6.6"/>
<rect x="378.34" y="593.9" width="5.9" height="6.6"/>
<rect x="386.12" y="593.9" width="5.9" height="6.6"/>
<rect x="393.9" y="593.9" width="5.9" height="6.6"/>
<rect x="401.68" y="593.9" width="5.9" height="6.6"/>
<rect x="409.46" y="593.9" width="5.9" height="6.6"/>
<rect x="417.24" y="593.9" width="5.9" height="6.6"/>
<rect x="425.02" y="593.9" width="5.9" height="6.6"/>
<rect x="277.2" y="602.7" width="5.9" height="6.8"/>
<rect x="284.98" y="602.7" width="5.9" height="6.8"/>
<rect x="292.76" y="602.7" width="5.9" height="6.8"/>
<rect x="300.54" y="602.7" width="5.9" height="6.8"/>
<rect x="308.32" y="602.7" width="5.9" height="6.8"/>
<rect x="316.1" y="602.7" width="5.9" height="6.8"/>
<rect x="323.88" y="602.7" width="5.9" height="6.8"/>
<rect x="331.66" y="602.7" width="5.9" height="6.8"/>
<rect x="339.44" y="602.7" width="5.9" height="6.8"/>
<rect x="347.22" y="602.7" width="5.9" height="6.8"/>
<rect x="355" y="602.7" width="5.9" height="6.8"/>
<rect x="362.78" y="602.7" width="5.9" height="6.8"/>
<rect x="370.56" y="602.7" width="5.9" height="6.8"/>
<rect x="378.34" y="602.7" width="5.9" height="6.8"/>
<rect x="386.12" y="602.7" width="5.9" height="6.8"/>
<rect x="393.9" y="602.7" width="5.9" height="6.8"/>
<rect x="401.68" y="602.7" width="5.9" height="6.8"/>
<rect x="409.46" y="602.7" width="5.9" height="6.8"/>
<rect x="417.24" y="602.7" width="5.9" height="6.8"/>
<rect x="425.02" y="602.7" width="5.9" height="6.8"/>
<rect x="273.6" y="611.2" width="150.4" height="1.2"/>
<rect x="273.6" y="574" width="3" height="27" fill="#333"/>
<rect x="421" y="574" width="3" height="27" fill="#333"/>
</g>
<polygon points="273.6,574 424,574 424,601 405.8,601 394.7,615.5 302.9,615.5 291.8,601 273.6,601" fill="none" stroke="#1c1c1c" stroke-width="1.6" stroke-linejoin="miter"/>
<line x1="273.6" y1="601" x2="291.8" y2="601" stroke="#1c1c1c" stroke-width="1.4"/>
<line x1="405.8" y1="601" x2="424" y2="601" stroke="#1c1c1c" stroke-width="1.4"/>
<rect x="260.5" y="615" width="177" height="17.8" rx="3" fill="url(#rodg)"/>
<path d="M262.6,635 L272.9,634.3 L272.9,645.5 L290.9,645.5 L290.9,634.3 L301.1,634 L301.1,669.5 L266.6,669 Q261.1,665.5 264.1,652.5 Q263.6,641.5 262.6,636.5 Z" fill="#7f7f83" stroke="#4a4a4a" stroke-width="1"/>
<path d="M433,635 L422.1,634.3 L422.1,645.5 L404.1,645.5 L404.1,634.3 L394.5,634 L394.5,669.5 L429,669 Q434.5,665.5 431.5,652.5 Q432,641.5 433,636.5 Z" fill="#7f7f83" stroke="#4a4a4a" stroke-width="1"/>
<rect x="301.1" y="635.5" width="93.4" height="34" fill="url(#panelg)" stroke="#555" stroke-width="0.8"/>
<rect x="272.9" y="638.5" width="18" height="7" fill="url(#tabg)" stroke="#333" stroke-width="0.8"/>
<rect x="275.4" y="615" width="12.9" height="27" fill="#cbcbcb" stroke="#666" stroke-width="0.8"/>
<rect x="404.1" y="638.5" width="18" height="7" fill="url(#tabg)" stroke="#333" stroke-width="0.8"/>
<rect x="406.6" y="615" width="12.9" height="27" fill="#cbcbcb" stroke="#666" stroke-width="0.8"/>
<rect x="305.4" y="644.3" width="44.6" height="12" fill="#262626" rx="6"/>
<circle cx="312.4" cy="650.3" r="4.2" fill="#484848" stroke="#333" stroke-width="0.6"/>
<circle cx="322.7" cy="650.3" r="4.2" fill="#484848" stroke="#333" stroke-width="0.6"/>
<circle cx="333" cy="650.3" r="4.2" fill="#484848" stroke="#333" stroke-width="0.6"/>
<circle cx="343.3" cy="650.3" r="4.2" fill="#484848" stroke="#333" stroke-width="0.6"/>
<path d="M350,645 L377,644 Q383,640 390,640.5 L390,657 L350,657 Z" fill="#f7941d"/>
<rect x="350" y="649" width="40" height="2.2" fill="#fbb040"/>
<rect x="462" y="502" width="185" height="58" fill="#bdc0c3" stroke="#3a3a3a" stroke-width="1"/>
<circle cx="509.1" cy="515.5" r="5.7" fill="#231f20"/>
<circle cx="523.03" cy="515.5" r="5.7" fill="#231f20"/>
<circle cx="536.96" cy="515.5" r="5.7" fill="#231f20"/>
<circle cx="550.89" cy="515.5" r="5.7" fill="#231f20"/>
<circle cx="564.82" cy="515.5" r="5.7" fill="#231f20"/>
<circle cx="578.75" cy="515.5" r="5.7" fill="#231f20"/>
<circle cx="592.68" cy="515.5" r="5.7" fill="#231f20"/>
<circle cx="516.05" cy="527" r="5.7" fill="#231f20"/>
<circle cx="529.98" cy="527" r="5.7" fill="#231f20"/>
<circle cx="543.91" cy="527" r="5.7" fill="#231f20"/>
<circle cx="557.84" cy="527" r="5.7" fill="#231f20"/>
<circle cx="571.77" cy="527" r="5.7" fill="#231f20"/>
<circle cx="585.7" cy="527" r="5.7" fill="#231f20"/>
<circle cx="509.1" cy="538.9" r="5.7" fill="#231f20"/>
<circle cx="523.03" cy="538.9" r="5.7" fill="#231f20"/>
<circle cx="536.96" cy="538.9" r="5.7" fill="#231f20"/>
<circle cx="550.89" cy="538.9" r="5.7" fill="#231f20"/>
<circle cx="564.82" cy="538.9" r="5.7" fill="#231f20"/>
<circle cx="578.75" cy="538.9" r="5.7" fill="#231f20"/>
<circle cx="592.68" cy="538.9" r="5.7" fill="#231f20"/>
<rect x="523.7" y="542" width="53.6" height="17.5" fill="#e8352a" stroke="#a81e1a" stroke-width="0.8"/>
<rect x="524.2" y="542.5" width="52.6" height="6.8" fill="#f4922a"/>
<circle cx="611.1" cy="513.8" r="6.2" fill="none" stroke="#8cc63f" stroke-width="1.6"/>
<line x1="609.6" y1="509.7" x2="609.6" y2="517.9" stroke="#8cc63f" stroke-width="1"/>
<line x1="612.6" y1="509.7" x2="612.6" y2="517.9" stroke="#8cc63f" stroke-width="1"/>
<rect x="620.8" y="502.3" width="6.8" height="16.6" fill="#d9e021" stroke="#333" stroke-width="1"/>
<rect x="622.1" y="507.5" width="4.2" height="5" fill="#f6f9a0"/>
<polygon points="636.7,505.4 643.4,518.7 630,518.7" fill="none" stroke="#e3e33a" stroke-width="1.5" stroke-linejoin="round"/>
<line x1="636.7" y1="510" x2="636.7" y2="516" stroke="#c8c83a" stroke-width="1.2"/>
<path d="M606.6,528.5 q1.5,-2 3,-0.5 t3,0 t3,-0.5" fill="none" stroke="#fff" stroke-width="1.3"/>
<text x="606.6" y="536" font-size="6.5" fill="#fff" font-weight="bold">AC</text>
<rect x="462" y="560" width="185" height="110.5" fill="#c0c1c4" stroke="#3a3a3a" stroke-width="1"/>
<rect x="545.9" y="560" width="14.6" height="12.8" fill="#f5821f" stroke="#9a3a10" stroke-width="0.8"/>
<path d="M548.9,562.5 L553.2,570.5 L557.5,562.5 M551.1,562.5 L553.2,566.5 L555.3,562.5" fill="none" stroke="#d42a1a" stroke-width="1.3"/>
<clipPath id="g1501"><polygon points="479.9,572.8 630.3,572.8 630.3,599.8 612.1,599.8 601,614.3 509.2,614.3 498.1,599.8 479.9,599.8"/></clipPath>
<polygon points="479.9,572.8 630.3,572.8 630.3,599.8 612.1,599.8 601,614.3 509.2,614.3 498.1,599.8 479.9,599.8" fill="#f4f4f4"/>
<g clip-path="url(#g1501)" fill="#1c1c1c">
<rect x="483.5" y="572.3" width="5.9" height="7.3"/>
<rect x="491.28" y="572.3" width="5.9" height="7.3"/>
<rect x="499.06" y="572.3" width="5.9" height="7.3"/>
<rect x="506.84" y="572.3" width="5.9" height="7.3"/>
<rect x="514.62" y="572.3" width="5.9" height="7.3"/>
<rect x="522.4" y="572.3" width="5.9" height="7.3"/>
<rect x="530.18" y="572.3" width="5.9" height="7.3"/>
<rect x="537.96" y="572.3" width="5.9" height="7.3"/>
<rect x="545.74" y="572.3" width="5.9" height="7.3"/>
<rect x="553.52" y="572.3" width="5.9" height="7.3"/>
<rect x="561.3" y="572.3" width="5.9" height="7.3"/>
<rect x="569.08" y="572.3" width="5.9" height="7.3"/>
<rect x="576.86" y="572.3" width="5.9" height="7.3"/>
<rect x="584.64" y="572.3" width="5.9" height="7.3"/>
<rect x="592.42" y="572.3" width="5.9" height="7.3"/>
<rect x="600.2" y="572.3" width="5.9" height="7.3"/>
<rect x="607.98" y="572.3" width="5.9" height="7.3"/>
<rect x="615.76" y="572.3" width="5.9" height="7.3"/>
<rect x="623.54" y="572.3" width="5.9" height="7.3"/>
<rect x="631.32" y="572.3" width="5.9" height="7.3"/>
<rect x="483.5" y="582.5" width="5.9" height="7.2"/>
<rect x="491.28" y="582.5" width="5.9" height="7.2"/>
<rect x="499.06" y="582.5" width="5.9" height="7.2"/>
<rect x="506.84" y="582.5" width="5.9" height="7.2"/>
<rect x="514.62" y="582.5" width="5.9" height="7.2"/>
<rect x="522.4" y="582.5" width="5.9" height="7.2"/>
<rect x="530.18" y="582.5" width="5.9" height="7.2"/>
<rect x="537.96" y="582.5" width="5.9" height="7.2"/>
<rect x="545.74" y="582.5" width="5.9" height="7.2"/>
<rect x="553.52" y="582.5" width="5.9" height="7.2"/>
<rect x="561.3" y="582.5" width="5.9" height="7.2"/>
<rect x="569.08" y="582.5" width="5.9" height="7.2"/>
<rect x="576.86" y="582.5" width="5.9" height="7.2"/>
<rect x="584.64" y="582.5" width="5.9" height="7.2"/>
<rect x="592.42" y="582.5" width="5.9" height="7.2"/>
<rect x="600.2" y="582.5" width="5.9" height="7.2"/>
<rect x="607.98" y="582.5" width="5.9" height="7.2"/>
<rect x="615.76" y="582.5" width="5.9" height="7.2"/>
<rect x="623.54" y="582.5" width="5.9" height="7.2"/>
<rect x="631.32" y="582.5" width="5.9" height="7.2"/>
<rect x="483.5" y="592.7" width="5.9" height="6.6"/>
<rect x="491.28" y="592.7" width="5.9" height="6.6"/>
<rect x="499.06" y="592.7" width="5.9" height="6.6"/>
<rect x="506.84" y="592.7" width="5.9" height="6.6"/>
<rect x="514.62" y="592.7" width="5.9" height="6.6"/>
<rect x="522.4" y="592.7" width="5.9" height="6.6"/>
<rect x="530.18" y="592.7" width="5.9" height="6.6"/>
<rect x="537.96" y="592.7" width="5.9" height="6.6"/>
<rect x="545.74" y="592.7" width="5.9" height="6.6"/>
<rect x="553.52" y="592.7" width="5.9" height="6.6"/>
<rect x="561.3" y="592.7" width="5.9" height="6.6"/>
<rect x="569.08" y="592.7" width="5.9" height="6.6"/>
<rect x="576.86" y="592.7" width="5.9" height="6.6"/>
<rect x="584.64" y="592.7" width="5.9" height="6.6"/>
<rect x="592.42" y="592.7" width="5.9" height="6.6"/>
<rect x="600.2" y="592.7" width="5.9" height="6.6"/>
<rect x="607.98" y="592.7" width="5.9" height="6.6"/>
<rect x="615.76" y="592.7" width="5.9" height="6.6"/>
<rect x="623.54" y="592.7" width="5.9" height="6.6"/>
<rect x="631.32" y="592.7" width="5.9" height="6.6"/>
<rect x="483.5" y="601.5" width="5.9" height="6.8"/>
<rect x="491.28" y="601.5" width="5.9" height="6.8"/>
<rect x="499.06" y="601.5" width="5.9" height="6.8"/>
<rect x="506.84" y="601.5" width="5.9" height="6.8"/>
<rect x="514.62" y="601.5" width="5.9" height="6.8"/>
<rect x="522.4" y="601.5" width="5.9" height="6.8"/>
<rect x="530.18" y="601.5" width="5.9" height="6.8"/>
<rect x="537.96" y="601.5" width="5.9" height="6.8"/>
<rect x="545.74" y="601.5" width="5.9" height="6.8"/>
<rect x="553.52" y="601.5" width="5.9" height="6.8"/>
<rect x="561.3" y="601.5" width="5.9" height="6.8"/>
<rect x="569.08" y="601.5" width="5.9" height="6.8"/>
<rect x="576.86" y="601.5" width="5.9" height="6.8"/>
<rect x="584.64" y="601.5" width="5.9" height="6.8"/>
<rect x="592.42" y="601.5" width="5.9" height="6.8"/>
<rect x="600.2" y="601.5" width="5.9" height="6.8"/>
<rect x="607.98" y="601.5" width="5.9" height="6.8"/>
<rect x="615.76" y="601.5" width="5.9" height="6.8"/>
<rect x="623.54" y="601.5" width="5.9" height="6.8"/>
<rect x="631.32" y="601.5" width="5.9" height="6.8"/>
<rect x="479.9" y="610" width="150.4" height="1.2"/>
<rect x="479.9" y="572.8" width="3" height="27" fill="#333"/>
<rect x="627.3" y="572.8" width="3" height="27" fill="#333"/>
</g>
<polygon points="479.9,572.8 630.3,572.8 630.3,599.8 612.1,599.8 601,614.3 509.2,614.3 498.1,599.8 479.9,599.8" fill="none" stroke="#1c1c1c" stroke-width="1.6" stroke-linejoin="miter"/>
<line x1="479.9" y1="599.8" x2="498.1" y2="599.8" stroke="#1c1c1c" stroke-width="1.4"/>
<line x1="612.1" y1="599.8" x2="630.3" y2="599.8" stroke="#1c1c1c" stroke-width="1.4"/>
<rect x="462.5" y="615" width="184" height="17.8" rx="3" fill="url(#rodg)"/>
<path d="M468.9,635 L479.2,634.3 L479.2,645.5 L497.2,645.5 L497.2,634.3 L507.4,634 L507.4,669.5 L472.9,669 Q467.4,665.5 470.4,652.5 Q469.9,641.5 468.9,636.5 Z" fill="#7f7f83" stroke="#4a4a4a" stroke-width="1"/>
<path d="M639.4,635 L628.4,634.3 L628.4,645.5 L610.4,645.5 L610.4,634.3 L600.9,634 L600.9,669.5 L635.4,669 Q640.9,665.5 637.9,652.5 Q638.4,641.5 639.4,636.5 Z" fill="#7f7f83" stroke="#4a4a4a" stroke-width="1"/>
<rect x="507.4" y="635.5" width="93.5" height="34" fill="url(#panelg)" stroke="#555" stroke-width="0.8"/>
<rect x="479.2" y="638.5" width="18" height="7" fill="url(#tabg)" stroke="#333" stroke-width="0.8"/>
<rect x="481.7" y="615" width="12.9" height="27" fill="#cbcbcb" stroke="#666" stroke-width="0.8"/>
<rect x="610.4" y="638.5" width="18" height="7" fill="url(#tabg)" stroke="#333" stroke-width="0.8"/>
<rect x="612.9" y="615" width="12.9" height="27" fill="#cbcbcb" stroke="#666" stroke-width="0.8"/>
<rect x="551.9" y="644.3" width="44.6" height="12" fill="#262626" rx="6"/>
<circle cx="558.9" cy="650.3" r="4.2" fill="#484848" stroke="#333" stroke-width="0.6"/>
<circle cx="569.2" cy="650.3" r="4.2" fill="#484848" stroke="#333" stroke-width="0.6"/>
<circle cx="579.5" cy="650.3" r="4.2" fill="#484848" stroke="#333" stroke-width="0.6"/>
<circle cx="589.8" cy="650.3" r="4.2" fill="#484848" stroke="#333" stroke-width="0.6"/>
<path d="M551.9,645 L524.9,644 Q518.9,640 511.9,640.5 L511.9,657 L551.9,657 Z" fill="#f7941d"/>
<rect x="511.7" y="649" width="40" height="2.2" fill="#fbb040"/>
<rect x="666.5" y="502" width="180" height="58" fill="#bdc0c3" stroke="#3a3a3a" stroke-width="1"/>
<circle cx="712.6" cy="515.5" r="5.7" fill="#231f20"/>
<circle cx="726.53" cy="515.5" r="5.7" fill="#231f20"/>
<circle cx="740.46" cy="515.5" r="5.7" fill="#231f20"/>
<circle cx="754.39" cy="515.5" r="5.7" fill="#231f20"/>
<circle cx="768.32" cy="515.5" r="5.7" fill="#231f20"/>
<circle cx="782.25" cy="515.5" r="5.7" fill="#231f20"/>
<circle cx="796.18" cy="515.5" r="5.7" fill="#231f20"/>
<circle cx="719.55" cy="527" r="5.7" fill="#231f20"/>
<circle cx="733.48" cy="527" r="5.7" fill="#231f20"/>
<circle cx="747.41" cy="527" r="5.7" fill="#231f20"/>
<circle cx="761.34" cy="527" r="5.7" fill="#231f20"/>
<circle cx="775.27" cy="527" r="5.7" fill="#231f20"/>
<circle cx="789.2" cy="527" r="5.7" fill="#231f20"/>
<circle cx="712.6" cy="538.9" r="5.7" fill="#231f20"/>
<circle cx="726.53" cy="538.9" r="5.7" fill="#231f20"/>
<circle cx="740.46" cy="538.9" r="5.7" fill="#231f20"/>
<circle cx="754.39" cy="538.9" r="5.7" fill="#231f20"/>
<circle cx="768.32" cy="538.9" r="5.7" fill="#231f20"/>
<circle cx="782.25" cy="538.9" r="5.7" fill="#231f20"/>
<circle cx="796.18" cy="538.9" r="5.7" fill="#231f20"/>
<rect x="727.2" y="542" width="53.6" height="17.5" fill="#e8352a" stroke="#a81e1a" stroke-width="0.8"/>
<rect x="727.7" y="542.5" width="52.6" height="6.8" fill="#f4922a"/>
<circle cx="812.6" cy="513.8" r="6.2" fill="none" stroke="#8cc63f" stroke-width="1.6"/>
<line x1="811.1" y1="509.7" x2="811.1" y2="517.9" stroke="#8cc63f" stroke-width="1"/>
<line x1="814.1" y1="509.7" x2="814.1" y2="517.9" stroke="#8cc63f" stroke-width="1"/>
<rect x="822.3" y="502.3" width="6.8" height="16.6" fill="#d9e021" stroke="#333" stroke-width="1"/>
<rect x="823.6" y="507.5" width="4.2" height="5" fill="#f6f9a0"/>
<polygon points="838.2,505.4 844.9,518.7 831.5,518.7" fill="none" stroke="#e3e33a" stroke-width="1.5" stroke-linejoin="round"/>
<line x1="838.2" y1="510" x2="838.2" y2="516" stroke="#c8c83a" stroke-width="1.2"/>
<path d="M808.1,528.5 q1.5,-2 3,-0.5 t3,0 t3,-0.5" fill="none" stroke="#fff" stroke-width="1.3"/>
<text x="808.1" y="536" font-size="6.5" fill="#fff" font-weight="bold">AC</text>
<rect x="666.5" y="560" width="180" height="110.5" fill="#c0c1c4" stroke="#3a3a3a" stroke-width="1"/>
<rect x="749.4" y="560" width="14.6" height="12.8" fill="#f5821f" stroke="#9a3a10" stroke-width="0.8"/>
<path d="M752.4,562.5 L756.7,570.5 L761,562.5 M754.6,562.5 L756.7,566.5 L758.8,562.5" fill="none" stroke="#d42a1a" stroke-width="1.3"/>
<clipPath id="g1641"><polygon points="683.4,572.9 833.8,572.9 833.8,599.9 815.6,599.9 804.5,614.4 712.7,614.4 701.6,599.9 683.4,599.9"/></clipPath>
<polygon points="683.4,572.9 833.8,572.9 833.8,599.9 815.6,599.9 804.5,614.4 712.7,614.4 701.6,599.9 683.4,599.9" fill="#d2d2d2"/>
<g clip-path="url(#g1641)" fill="#1c1c1c">
<rect x="687" y="572.4" width="5.9" height="7.3"/>
<rect x="694.78" y="572.4" width="5.9" height="7.3"/>
<rect x="702.56" y="572.4" width="5.9" height="7.3"/>
<rect x="710.34" y="572.4" width="5.9" height="7.3"/>
<rect x="718.12" y="572.4" width="5.9" height="7.3"/>
<rect x="725.9" y="572.4" width="5.9" height="7.3"/>
<rect x="733.68" y="572.4" width="5.9" height="7.3"/>
<rect x="741.46" y="572.4" width="5.9" height="7.3"/>
<rect x="749.24" y="572.4" width="5.9" height="7.3"/>
<rect x="757.02" y="572.4" width="5.9" height="7.3"/>
<rect x="764.8" y="572.4" width="5.9" height="7.3"/>
<rect x="772.58" y="572.4" width="5.9" height="7.3"/>
<rect x="780.36" y="572.4" width="5.9" height="7.3"/>
<rect x="788.14" y="572.4" width="5.9" height="7.3"/>
<rect x="795.92" y="572.4" width="5.9" height="7.3"/>
<rect x="803.7" y="572.4" width="5.9" height="7.3"/>
<rect x="811.48" y="572.4" width="5.9" height="7.3"/>
<rect x="819.26" y="572.4" width="5.9" height="7.3"/>
<rect x="827.04" y="572.4" width="5.9" height="7.3"/>
<rect x="834.82" y="572.4" width="5.9" height="7.3"/>
<rect x="687" y="582.6" width="5.9" height="7.2"/>
<rect x="694.78" y="582.6" width="5.9" height="7.2"/>
<rect x="702.56" y="582.6" width="5.9" height="7.2"/>
<rect x="710.34" y="582.6" width="5.9" height="7.2"/>
<rect x="718.12" y="582.6" width="5.9" height="7.2"/>
<rect x="725.9" y="582.6" width="5.9" height="7.2"/>
<rect x="733.68" y="582.6" width="5.9" height="7.2"/>
<rect x="741.46" y="582.6" width="5.9" height="7.2"/>
<rect x="749.24" y="582.6" width="5.9" height="7.2"/>
<rect x="757.02" y="582.6" width="5.9" height="7.2"/>
<rect x="764.8" y="582.6" width="5.9" height="7.2"/>
<rect x="772.58" y="582.6" width="5.9" height="7.2"/>
<rect x="780.36" y="582.6" width="5.9" height="7.2"/>
<rect x="788.14" y="582.6" width="5.9" height="7.2"/>
<rect x="795.92" y="582.6" width="5.9" height="7.2"/>
<rect x="803.7" y="582.6" width="5.9" height="7.2"/>
<rect x="811.48" y="582.6" width="5.9" height="7.2"/>
<rect x="819.26" y="582.6" width="5.9" height="7.2"/>
<rect x="827.04" y="582.6" width="5.9" height="7.2"/>
<rect x="834.82" y="582.6" width="5.9" height="7.2"/>
<rect x="687" y="592.8" width="5.9" height="6.6"/>
<rect x="694.78" y="592.8" width="5.9" height="6.6"/>
<rect x="702.56" y="592.8" width="5.9" height="6.6"/>
<rect x="710.34" y="592.8" width="5.9" height="6.6"/>
<rect x="718.12" y="592.8" width="5.9" height="6.6"/>
<rect x="725.9" y="592.8" width="5.9" height="6.6"/>
<rect x="733.68" y="592.8" width="5.9" height="6.6"/>
<rect x="741.46" y="592.8" width="5.9" height="6.6"/>
<rect x="749.24" y="592.8" width="5.9" height="6.6"/>
<rect x="757.02" y="592.8" width="5.9" height="6.6"/>
<rect x="764.8" y="592.8" width="5.9" height="6.6"/>
<rect x="772.58" y="592.8" width="5.9" height="6.6"/>
<rect x="780.36" y="592.8" width="5.9" height="6.6"/>
<rect x="788.14" y="592.8" width="5.9" height="6.6"/>
<rect x="795.92" y="592.8" width="5.9" height="6.6"/>
<rect x="803.7" y="592.8" width="5.9" height="6.6"/>
<rect x="811.48" y="592.8" width="5.9" height="6.6"/>
<rect x="819.26" y="592.8" width="5.9" height="6.6"/>
<rect x="827.04" y="592.8" width="5.9" height="6.6"/>
<rect x="834.82" y="592.8" width="5.9" height="6.6"/>
<rect x="687" y="601.6" width="5.9" height="6.8"/>
<rect x="694.78" y="601.6" width="5.9" height="6.8"/>
<rect x="702.56" y="601.6" width="5.9" height="6.8"/>
<rect x="710.34" y="601.6" width="5.9" height="6.8"/>
<rect x="718.12" y="601.6" width="5.9" height="6.8"/>
<rect x="725.9" y="601.6" width="5.9" height="6.8"/>
<rect x="733.68" y="601.6" width="5.9" height="6.8"/>
<rect x="741.46" y="601.6" width="5.9" height="6.8"/>
<rect x="749.24" y="601.6" width="5.9" height="6.8"/>
<rect x="757.02" y="601.6" width="5.9" height="6.8"/>
<rect x="764.8" y="601.6" width="5.9" height="6.8"/>
<rect x="772.58" y="601.6" width="5.9" height="6.8"/>
<rect x="780.36" y="601.6" width="5.9" height="6.8"/>
<rect x="788.14" y="601.6" width="5.9" height="6.8"/>
<rect x="795.92" y="601.6" width="5.9" height="6.8"/>
<rect x="803.7" y="601.6" width="5.9" height="6.8"/>
<rect x="811.48" y="601.6" width="5.9" height="6.8"/>
<rect x="819.26" y="601.6" width="5.9" height="6.8"/>
<rect x="827.04" y="601.6" width="5.9" height="6.8"/>
<rect x="834.82" y="601.6" width="5.9" height="6.8"/>
<rect x="683.4" y="610.1" width="150.4" height="1.2"/>
<rect x="683.4" y="572.9" width="3" height="27" fill="#333"/>
<rect x="830.8" y="572.9" width="3" height="27" fill="#333"/>
</g>
<polygon points="683.4,572.9 833.8,572.9 833.8,599.9 815.6,599.9 804.5,614.4 712.7,614.4 701.6,599.9 683.4,599.9" fill="none" stroke="#1c1c1c" stroke-width="1.6" stroke-linejoin="miter"/>
<line x1="683.4" y1="599.9" x2="701.6" y2="599.9" stroke="#1c1c1c" stroke-width="1.4"/>
<line x1="815.6" y1="599.9" x2="833.8" y2="599.9" stroke="#1c1c1c" stroke-width="1.4"/>
<rect x="667" y="615" width="179" height="17.8" rx="3" fill="url(#rodg)"/>
<path d="M672.4,635 L682.7,634.3 L682.7,645.5 L700.7,645.5 L700.7,634.3 L710.9,634 L710.9,669.5 L676.4,669 Q670.9,665.5 673.9,652.5 Q673.4,641.5 672.4,636.5 Z" fill="#7f7f83" stroke="#4a4a4a" stroke-width="1"/>
<path d="M842.7,635 L832.3,634.3 L832.3,645.5 L814.3,645.5 L814.3,634.3 L804.2,634 L804.2,669.5 L838.7,669 Q844.2,665.5 841.2,652.5 Q841.7,641.5 842.7,636.5 Z" fill="#7f7f83" stroke="#4a4a4a" stroke-width="1"/>
<rect x="710.9" y="635.5" width="93.3" height="34" fill="url(#panelg)" stroke="#555" stroke-width="0.8"/>
<rect x="682.7" y="638.5" width="18" height="7" fill="url(#tabg)" stroke="#333" stroke-width="0.8"/>
<rect x="685.2" y="615" width="12.9" height="27" fill="#cbcbcb" stroke="#666" stroke-width="0.8"/>
<rect x="814.3" y="638.5" width="18" height="7" fill="url(#tabg)" stroke="#333" stroke-width="0.8"/>
<rect x="816.8" y="615" width="12.9" height="27" fill="#cbcbcb" stroke="#666" stroke-width="0.8"/>
<rect x="715.2" y="644.3" width="44.6" height="12" fill="#262626" rx="6"/>
<circle cx="722.2" cy="650.3" r="4.2" fill="#484848" stroke="#333" stroke-width="0.6"/>
<circle cx="732.5" cy="650.3" r="4.2" fill="#484848" stroke="#333" stroke-width="0.6"/>
<circle cx="742.8" cy="650.3" r="4.2" fill="#484848" stroke="#333" stroke-width="0.6"/>
<circle cx="753.1" cy="650.3" r="4.2" fill="#484848" stroke="#333" stroke-width="0.6"/>
<path d="M759.8,645 L786.8,644 Q792.8,640 799.8,640.5 L799.8,657 L759.8,657 Z" fill="#f7941d"/>
<rect x="759.8" y="649" width="40" height="2.2" fill="#fbb040"/>
<rect x="870" y="502" width="184" height="58" fill="#bdc0c3" stroke="#3a3a3a" stroke-width="1"/>
<circle cx="917.8" cy="515.5" r="5.7" fill="#231f20"/>
<circle cx="931.73" cy="515.5" r="5.7" fill="#231f20"/>
<circle cx="945.66" cy="515.5" r="5.7" fill="#231f20"/>
<circle cx="959.59" cy="515.5" r="5.7" fill="#231f20"/>
<circle cx="973.52" cy="515.5" r="5.7" fill="#231f20"/>
<circle cx="987.45" cy="515.5" r="5.7" fill="#231f20"/>
<circle cx="1001.38" cy="515.5" r="5.7" fill="#231f20"/>
<circle cx="924.75" cy="527" r="5.7" fill="#231f20"/>
<circle cx="938.68" cy="527" r="5.7" fill="#231f20"/>
<circle cx="952.61" cy="527" r="5.7" fill="#231f20"/>
<circle cx="966.54" cy="527" r="5.7" fill="#231f20"/>
<circle cx="980.47" cy="527" r="5.7" fill="#231f20"/>
<circle cx="994.4" cy="527" r="5.7" fill="#231f20"/>
<circle cx="917.8" cy="538.9" r="5.7" fill="#231f20"/>
<circle cx="931.73" cy="538.9" r="5.7" fill="#231f20"/>
<circle cx="945.66" cy="538.9" r="5.7" fill="#231f20"/>
<circle cx="959.59" cy="538.9" r="5.7" fill="#231f20"/>
<circle cx="973.52" cy="538.9" r="5.7" fill="#231f20"/>
<circle cx="987.45" cy="538.9" r="5.7" fill="#231f20"/>
<circle cx="1001.38" cy="538.9" r="5.7" fill="#231f20"/>
<rect x="932.4" y="542" width="53.6" height="17.5" fill="#e8352a" stroke="#a81e1a" stroke-width="0.8"/>
<rect x="932.9" y="542.5" width="52.6" height="6.8" fill="#f4922a"/>
<circle cx="1022.1" cy="513.8" r="6.2" fill="none" stroke="#8cc63f" stroke-width="1.6"/>
<line x1="1020.6" y1="509.7" x2="1020.6" y2="517.9" stroke="#8cc63f" stroke-width="1"/>
<line x1="1023.6" y1="509.7" x2="1023.6" y2="517.9" stroke="#8cc63f" stroke-width="1"/>
<rect x="1031.8" y="502.3" width="6.8" height="16.6" fill="#d9e021" stroke="#333" stroke-width="1"/>
<rect x="1033.1" y="507.5" width="4.2" height="5" fill="#f6f9a0"/>
<polygon points="1047.7,505.4 1054.4,518.7 1041,518.7" fill="none" stroke="#e3e33a" stroke-width="1.5" stroke-linejoin="round"/>
<line x1="1047.7" y1="510" x2="1047.7" y2="516" stroke="#c8c83a" stroke-width="1.2"/>
<path d="M1017.6,528.5 q1.5,-2 3,-0.5 t3,0 t3,-0.5" fill="none" stroke="#fff" stroke-width="1.3"/>
<text x="1017.6" y="536" font-size="6.5" fill="#fff" font-weight="bold">AC</text>
<rect x="870" y="560" width="184" height="110.5" fill="#c0c1c4" stroke="#3a3a3a" stroke-width="1"/>
<rect x="954.6" y="560" width="14.6" height="12.8" fill="#f5821f" stroke="#9a3a10" stroke-width="0.8"/>
<path d="M957.6,562.5 L961.9,570.5 L966.2,562.5 M959.8,562.5 L961.9,566.5 L964,562.5" fill="none" stroke="#d42a1a" stroke-width="1.3"/>
<clipPath id="g1781"><polygon points="888.6,572.8 1039,572.8 1039,599.8 1020.8,599.8 1009.7,614.3 917.9,614.3 906.8,599.8 888.6,599.8"/></clipPath>
<polygon points="888.6,572.8 1039,572.8 1039,599.8 1020.8,599.8 1009.7,614.3 917.9,614.3 906.8,599.8 888.6,599.8" fill="#d2d2d2"/>
<g clip-path="url(#g1781)" fill="#1c1c1c">
<rect x="892.2" y="572.3" width="5.9" height="7.3"/>
<rect x="899.98" y="572.3" width="5.9" height="7.3"/>
<rect x="907.76" y="572.3" width="5.9" height="7.3"/>
<rect x="915.54" y="572.3" width="5.9" height="7.3"/>
<rect x="923.32" y="572.3" width="5.9" height="7.3"/>
<rect x="931.1" y="572.3" width="5.9" height="7.3"/>
<rect x="938.88" y="572.3" width="5.9" height="7.3"/>
<rect x="946.66" y="572.3" width="5.9" height="7.3"/>
<rect x="954.44" y="572.3" width="5.9" height="7.3"/>
<rect x="962.22" y="572.3" width="5.9" height="7.3"/>
<rect x="970" y="572.3" width="5.9" height="7.3"/>
<rect x="977.78" y="572.3" width="5.9" height="7.3"/>
<rect x="985.56" y="572.3" width="5.9" height="7.3"/>
<rect x="993.34" y="572.3" width="5.9" height="7.3"/>
<rect x="1001.12" y="572.3" width="5.9" height="7.3"/>
<rect x="1008.9" y="572.3" width="5.9" height="7.3"/>
<rect x="1016.68" y="572.3" width="5.9" height="7.3"/>
<rect x="1024.46" y="572.3" width="5.9" height="7.3"/>
<rect x="1032.24" y="572.3" width="5.9" height="7.3"/>
<rect x="1040.02" y="572.3" width="5.9" height="7.3"/>
<rect x="892.2" y="582.5" width="5.9" height="7.2"/>
<rect x="899.98" y="582.5" width="5.9" height="7.2"/>
<rect x="907.76" y="582.5" width="5.9" height="7.2"/>
<rect x="915.54" y="582.5" width="5.9" height="7.2"/>
<rect x="923.32" y="582.5" width="5.9" height="7.2"/>
<rect x="931.1" y="582.5" width="5.9" height="7.2"/>
<rect x="938.88" y="582.5" width="5.9" height="7.2"/>
<rect x="946.66" y="582.5" width="5.9" height="7.2"/>
<rect x="954.44" y="582.5" width="5.9" height="7.2"/>
<rect x="962.22" y="582.5" width="5.9" height="7.2"/>
<rect x="970" y="582.5" width="5.9" height="7.2"/>
<rect x="977.78" y="582.5" width="5.9" height="7.2"/>
<rect x="985.56" y="582.5" width="5.9" height="7.2"/>
<rect x="993.34" y="582.5" width="5.9" height="7.2"/>
<rect x="1001.12" y="582.5" width="5.9" height="7.2"/>
<rect x="1008.9" y="582.5" width="5.9" height="7.2"/>
<rect x="1016.68" y="582.5" width="5.9" height="7.2"/>
<rect x="1024.46" y="582.5" width="5.9" height="7.2"/>
<rect x="1032.24" y="582.5" width="5.9" height="7.2"/>
<rect x="1040.02" y="582.5" width="5.9" height="7.2"/>
<rect x="892.2" y="592.7" width="5.9" height="6.6"/>
<rect x="899.98" y="592.7" width="5.9" height="6.6"/>
<rect x="907.76" y="592.7" width="5.9" height="6.6"/>
<rect x="915.54" y="592.7" width="5.9" height="6.6"/>
<rect x="923.32" y="592.7" width="5.9" height="6.6"/>
<rect x="931.1" y="592.7" width="5.9" height="6.6"/>
<rect x="938.88" y="592.7" width="5.9" height="6.6"/>
<rect x="946.66" y="592.7" width="5.9" height="6.6"/>
<rect x="954.44" y="592.7" width="5.9" height="6.6"/>
<rect x="962.22" y="592.7" width="5.9" height="6.6"/>
<rect x="970" y="592.7" width="5.9" height="6.6"/>
<rect x="977.78" y="592.7" width="5.9" height="6.6"/>
<rect x="985.56" y="592.7" width="5.9" height="6.6"/>
<rect x="993.34" y="592.7" width="5.9" height="6.6"/>
<rect x="1001.12" y="592.7" width="5.9" height="6.6"/>
<rect x="1008.9" y="592.7" width="5.9" height="6.6"/>
<rect x="1016.68" y="592.7" width="5.9" height="6.6"/>
<rect x="1024.46" y="592.7" width="5.9" height="6.6"/>
<rect x="1032.24" y="592.7" width="5.9" height="6.6"/>
<rect x="1040.02" y="592.7" width="5.9" height="6.6"/>
<rect x="892.2" y="601.5" width="5.9" height="6.8"/>
<rect x="899.98" y="601.5" width="5.9" height="6.8"/>
<rect x="907.76" y="601.5" width="5.9" height="6.8"/>
<rect x="915.54" y="601.5" width="5.9" height="6.8"/>
<rect x="923.32" y="601.5" width="5.9" height="6.8"/>
<rect x="931.1" y="601.5" width="5.9" height="6.8"/>
<rect x="938.88" y="601.5" width="5.9" height="6.8"/>
<rect x="946.66" y="601.5" width="5.9" height="6.8"/>
<rect x="954.44" y="601.5" width="5.9" height="6.8"/>
<rect x="962.22" y="601.5" width="5.9" height="6.8"/>
<rect x="970" y="601.5" width="5.9" height="6.8"/>
<rect x="977.78" y="601.5" width="5.9" height="6.8"/>
<rect x="985.56" y="601.5" width="5.9" height="6.8"/>
<rect x="993.34" y="601.5" width="5.9" height="6.8"/>
<rect x="1001.12" y="601.5" width="5.9" height="6.8"/>
<rect x="1008.9" y="601.5" width="5.9" height="6.8"/>
<rect x="1016.68" y="601.5" width="5.9" height="6.8"/>
<rect x="1024.46" y="601.5" width="5.9" height="6.8"/>
<rect x="1032.24" y="601.5" width="5.9" height="6.8"/>
<rect x="1040.02" y="601.5" width="5.9" height="6.8"/>
<rect x="888.6" y="610" width="150.4" height="1.2"/>
<rect x="888.6" y="572.8" width="3" height="27" fill="#333"/>
<rect x="1036" y="572.8" width="3" height="27" fill="#333"/>
</g>
<polygon points="888.6,572.8 1039,572.8 1039,599.8 1020.8,599.8 1009.7,614.3 917.9,614.3 906.8,599.8 888.6,599.8" fill="none" stroke="#1c1c1c" stroke-width="1.6" stroke-linejoin="miter"/>
<line x1="888.6" y1="599.8" x2="906.8" y2="599.8" stroke="#1c1c1c" stroke-width="1.4"/>
<line x1="1020.8" y1="599.8" x2="1039" y2="599.8" stroke="#1c1c1c" stroke-width="1.4"/>
<rect x="870.5" y="615" width="183" height="17.8" rx="3" fill="url(#rodg)"/>
<path d="M877.6,635 L887.9,634.3 L887.9,645.5 L905.9,645.5 L905.9,634.3 L916.1,634 L916.1,669.5 L881.6,669 Q876.1,665.5 879.1,652.5 Q878.6,641.5 877.6,636.5 Z" fill="#7f7f83" stroke="#4a4a4a" stroke-width="1"/>
<path d="M1049.6,635 L1038.5,634.3 L1038.5,645.5 L1020.5,645.5 L1020.5,634.3 L1011.1,634 L1011.1,669.5 L1045.6,669 Q1051.1,665.5 1048.1,652.5 Q1048.6,641.5 1049.6,636.5 Z" fill="#7f7f83" stroke="#4a4a4a" stroke-width="1"/>
<rect x="916.1" y="635.5" width="95" height="34" fill="url(#panelg)" stroke="#555" stroke-width="0.8"/>
<rect x="887.9" y="638.5" width="18" height="7" fill="url(#tabg)" stroke="#333" stroke-width="0.8"/>
<rect x="890.4" y="615" width="12.9" height="27" fill="#cbcbcb" stroke="#666" stroke-width="0.8"/>
<rect x="1020.5" y="638.5" width="18" height="7" fill="url(#tabg)" stroke="#333" stroke-width="0.8"/>
<rect x="1023" y="615" width="12.9" height="27" fill="#cbcbcb" stroke="#666" stroke-width="0.8"/>
<rect x="960.6" y="644.3" width="44.6" height="12" fill="#262626" rx="6"/>
<circle cx="967.6" cy="650.3" r="4.2" fill="#484848" stroke="#333" stroke-width="0.6"/>
<circle cx="977.9" cy="650.3" r="4.2" fill="#484848" stroke="#333" stroke-width="0.6"/>
<circle cx="988.2" cy="650.3" r="4.2" fill="#484848" stroke="#333" stroke-width="0.6"/>
<circle cx="998.5" cy="650.3" r="4.2" fill="#484848" stroke="#333" stroke-width="0.6"/>
<path d="M960.6,645 L933.6,644 Q927.6,640 920.6,640.5 L920.6,657 L960.6,657 Z" fill="#f7941d"/>
<rect x="920.4" y="649" width="40" height="2.2" fill="#fbb040"/>
<rect x="646.5" y="630.5" width="10" height="40" fill="#c0c1c4" stroke="#3a3a3a" stroke-width="1"/>
<rect x="656.5" y="630.5" width="10" height="40" fill="#c0c1c4" stroke="#3a3a3a" stroke-width="1"/>
<rect x="459.7" y="501.5" width="2.2" height="170" fill="#f0f0f0"/>
<rect x="868" y="501.5" width="2.2" height="170" fill="#f0f0f0"/>
<circle cx="449.5" cy="517.5" r="5" fill="#5fb894"/>
<circle cx="448.5" cy="516.3" r="2" fill="#b8e8d0"/>
<polygon points="449.5,541.04 457.5,554.96 441.5,554.96" fill="none" stroke="#f2e21b" stroke-width="1.6" stroke-linejoin="round"/>
<line x1="449.5" y1="545.04" x2="449.5" y2="550.96" stroke="#f2e21b" stroke-width="1.6"/>
<g transform="translate(449.5,585) scale(1)" fill="none" stroke="#eda53a" stroke-width="1.4" stroke-linejoin="round"><path d="M-3,12 L-6,3 L-8,-1 Q-8,-3 -6,-2 L-4,1 L-4,-7 Q-3,-9 -2,-7 L-1,-1 L0,-10 Q1,-12 2,-10 L2,-1 L4,-8 Q5,-10 6,-8 L5,0 L7,-5 Q8,-6 9,-4 L7,5 L4,12 Z"/><line x1="-10" y1="-8" x2="10" y2="7" stroke-width="3.2" stroke-linecap="round"/></g>
<circle cx="857.8" cy="517.5" r="5" fill="#5fb894"/>
<circle cx="856.8" cy="516.3" r="2" fill="#b8e8d0"/>
<polygon points="857.8,541.04 865.8,554.96 849.8,554.96" fill="none" stroke="#f2e21b" stroke-width="1.6" stroke-linejoin="round"/>
<line x1="857.8" y1="545.04" x2="857.8" y2="550.96" stroke="#f2e21b" stroke-width="1.6"/>
<g transform="translate(857.8,585) scale(1)" fill="none" stroke="#eda53a" stroke-width="1.4" stroke-linejoin="round"><path d="M-3,12 L-6,3 L-8,-1 Q-8,-3 -6,-2 L-4,1 L-4,-7 Q-3,-9 -2,-7 L-1,-1 L0,-10 Q1,-12 2,-10 L2,-1 L4,-8 Q5,-10 6,-8 L5,0 L7,-5 Q8,-6 9,-4 L7,5 L4,12 Z"/><line x1="-10" y1="-8" x2="10" y2="7" stroke-width="3.2" stroke-linecap="round"/></g>
<rect x="646.5" y="502.5" width="20" height="129" fill="#5e5e60" stroke="#777" stroke-width="1"/>
<polygon points="656.3,507.68 663.8,520.73 648.8,520.73" fill="none" stroke="#f2e21b" stroke-width="1.6" stroke-linejoin="round"/>
<line x1="656.3" y1="511.68" x2="656.3" y2="516.73" stroke="#f2e21b" stroke-width="1.6"/>
<circle cx="656.3" cy="538.3" r="6" fill="#f5c518" stroke="#6b5a00" stroke-width="0.8"/>
<circle cx="656.3" cy="560.5" r="6.3" fill="none" stroke="#d8d8d8" stroke-width="1.5"/>
<line x1="656.3" y1="555" x2="656.3" y2="566" stroke="#d8d8d8" stroke-width="1.5"/>
<circle cx="656.3" cy="585" r="6" fill="#2aa0e0" stroke="#0a4a70" stroke-width="0.8"/>
<circle cx="656.3" cy="585" r="2" fill="#9fe0ff"/>
<rect x="253.5" y="680.5" width="804" height="174" fill="#d8d8d8" stroke="#5a5a5a" stroke-width="1"/>
<rect x="259.5" y="683.5" width="795" height="165" fill="#231f20"/>
<line x1="254" y1="850" x2="1057" y2="850" stroke="#888" stroke-width="0.8"/>
<rect x="280.3" y="682" width="21" height="3.8" fill="#d8d8d8"/>
<rect x="288.5" y="682" width="4.6" height="12" fill="#d8d8d8"/>
<rect x="311.9" y="682" width="21" height="3.8" fill="#d8d8d8"/>
<rect x="320.1" y="682" width="4.6" height="12" fill="#d8d8d8"/>
<rect x="343.5" y="682" width="21" height="3.8" fill="#d8d8d8"/>
<rect x="351.7" y="682" width="4.6" height="12" fill="#d8d8d8"/>
<rect x="375.1" y="682" width="21" height="3.8" fill="#d8d8d8"/>
<rect x="383.3" y="682" width="4.6" height="12" fill="#d8d8d8"/>
<rect x="406.7" y="682" width="21" height="3.8" fill="#d8d8d8"/>
<rect x="414.9" y="682" width="4.6" height="12" fill="#d8d8d8"/>
<rect x="438.3" y="682" width="21" height="3.8" fill="#d8d8d8"/>
<rect x="446.5" y="682" width="4.6" height="12" fill="#d8d8d8"/>
<rect x="469.9" y="682" width="21" height="3.8" fill="#d8d8d8"/>
<rect x="478.1" y="682" width="4.6" height="12" fill="#d8d8d8"/>
<rect x="535.65" y="682" width="21" height="3.8" fill="#d8d8d8"/>
<rect x="543.85" y="682" width="4.6" height="12" fill="#d8d8d8"/>
<rect x="567.15" y="682" width="21" height="3.8" fill="#d8d8d8"/>
<rect x="575.35" y="682" width="4.6" height="12" fill="#d8d8d8"/>
<rect x="598.65" y="682" width="21" height="3.8" fill="#d8d8d8"/>
<rect x="606.85" y="682" width="4.6" height="12" fill="#d8d8d8"/>
<rect x="630.15" y="682" width="21" height="3.8" fill="#d8d8d8"/>
<rect x="638.35" y="682" width="4.6" height="12" fill="#d8d8d8"/>
<rect x="661.65" y="682" width="21" height="3.8" fill="#d8d8d8"/>
<rect x="669.85" y="682" width="4.6" height="12" fill="#d8d8d8"/>
<rect x="693.15" y="682" width="21" height="3.8" fill="#d8d8d8"/>
<rect x="701.35" y="682" width="4.6" height="12" fill="#d8d8d8"/>
<rect x="724.65" y="682" width="21" height="3.8" fill="#d8d8d8"/>
<rect x="732.85" y="682" width="4.6" height="12" fill="#d8d8d8"/>
<rect x="756.15" y="682" width="21" height="3.8" fill="#d8d8d8"/>
<rect x="764.35" y="682" width="4.6" height="12" fill="#d8d8d8"/>
<rect x="821.53" y="682" width="21" height="3.8" fill="#d8d8d8"/>
<rect x="829.73" y="682" width="4.6" height="12" fill="#d8d8d8"/>
<rect x="853.17" y="682" width="21" height="3.8" fill="#d8d8d8"/>
<rect x="861.38" y="682" width="4.6" height="12" fill="#d8d8d8"/>
<rect x="884.83" y="682" width="21" height="3.8" fill="#d8d8d8"/>
<rect x="893.03" y="682" width="4.6" height="12" fill="#d8d8d8"/>
<rect x="916.48" y="682" width="21" height="3.8" fill="#d8d8d8"/>
<rect x="924.68" y="682" width="4.6" height="12" fill="#d8d8d8"/>
<rect x="948.12" y="682" width="21" height="3.8" fill="#d8d8d8"/>
<rect x="956.33" y="682" width="4.6" height="12" fill="#d8d8d8"/>
<rect x="979.78" y="682" width="21" height="3.8" fill="#d8d8d8"/>
<rect x="987.98" y="682" width="4.6" height="12" fill="#d8d8d8"/>
<rect x="1011.42" y="682" width="21" height="3.8" fill="#d8d8d8"/>
<rect x="1019.62" y="682" width="4.6" height="12" fill="#d8d8d8"/>
<path d="M268.7,689.7 L281.3,689.7 L281.3,703.5 L284.2,711.5 L284.2,810 L282.5,810 L282.5,713.5 L267.5,713.5 L267.5,810 L265.8,810 L265.8,711.5 L268.7,703.5 Z" fill="#d2d4d6"/>
<rect x="267.5" y="713.5" width="6.5" height="22" fill="#e6246f"/>
<rect x="267.5" y="735.5" width="6.5" height="21.8" fill="#9061b0"/>
<rect x="274" y="713.5" width="6.8" height="38" fill="#d2d4d6"/>
<rect x="274.2" y="751.5" width="6.4" height="41.5" fill="#555759"/>
<rect x="265.8" y="798" width="18.4" height="3.3" fill="#d2d4d6"/>
<rect x="264.5" y="809.7" width="21" height="20.8" fill="#f7941d" stroke="#5a3000" stroke-width="1.2"/>
<polygon points="267.7,813 282.3,813 283.1,827 266.9,827" fill="#f6921e" stroke="#6a3a00" stroke-width="1.1"/>
<rect x="266" y="830.5" width="18" height="1.6" fill="#777"/>
<rect x="265.4" y="832.2" width="19.2" height="12.5" fill="#e6e6e6" stroke="#888" stroke-width="0.6"/>
<rect x="267.7" y="835.5" width="6.5" height="7.5" fill="#39b3e6" stroke="#444" stroke-width="0.8"/>
<rect x="276.3" y="835.5" width="6.5" height="7.5" fill="#777" stroke="#444" stroke-width="0.8"/>
<path d="M300.3,689.7 L312.9,689.7 L312.9,703.5 L315.8,711.5 L315.8,810 L314.1,810 L314.1,713.5 L299.1,713.5 L299.1,810 L297.4,810 L297.4,711.5 L300.3,703.5 Z" fill="#d2d4d6"/>
<rect x="299.1" y="713.5" width="6.5" height="22" fill="#e6246f"/>
<rect x="299.1" y="735.5" width="6.5" height="21.8" fill="#9061b0"/>
<rect x="305.6" y="713.5" width="6.8" height="38" fill="#d2d4d6"/>
<rect x="305.8" y="751.5" width="6.4" height="41.5" fill="#555759"/>
<rect x="297.4" y="798" width="18.4" height="3.3" fill="#d2d4d6"/>
<rect x="296.1" y="809.7" width="21" height="20.8" fill="#f7941d" stroke="#5a3000" stroke-width="1.2"/>
<polygon points="299.3,813 313.9,813 314.7,827 298.5,827" fill="#f6921e" stroke="#6a3a00" stroke-width="1.1"/>
<rect x="297.6" y="830.5" width="18" height="1.6" fill="#777"/>
<rect x="297" y="832.2" width="19.2" height="12.5" fill="#e6e6e6" stroke="#888" stroke-width="0.6"/>
<rect x="299.3" y="835.5" width="6.5" height="7.5" fill="#39b3e6" stroke="#444" stroke-width="0.8"/>
<rect x="307.9" y="835.5" width="6.5" height="7.5" fill="#777" stroke="#444" stroke-width="0.8"/>
<path d="M331.9,689.7 L344.5,689.7 L344.5,703.5 L347.4,711.5 L347.4,810 L345.7,810 L345.7,713.5 L330.7,713.5 L330.7,810 L329,810 L329,711.5 L331.9,703.5 Z" fill="#d2d4d6"/>
<rect x="330.7" y="713.5" width="6.5" height="22" fill="#e6246f"/>
<rect x="330.7" y="735.5" width="6.5" height="21.8" fill="#9061b0"/>
<rect x="337.2" y="713.5" width="6.8" height="38" fill="#d2d4d6"/>
<rect x="337.4" y="751.5" width="6.4" height="41.5" fill="#555759"/>
<rect x="329" y="798" width="18.4" height="3.3" fill="#d2d4d6"/>
<rect x="327.7" y="809.7" width="21" height="20.8" fill="#f7941d" stroke="#5a3000" stroke-width="1.2"/>
<polygon points="330.9,813 345.5,813 346.3,827 330.1,827" fill="#f6921e" stroke="#6a3a00" stroke-width="1.1"/>
<rect x="329.2" y="830.5" width="18" height="1.6" fill="#777"/>
<rect x="328.6" y="832.2" width="19.2" height="12.5" fill="#e6e6e6" stroke="#888" stroke-width="0.6"/>
<rect x="330.9" y="835.5" width="6.5" height="7.5" fill="#39b3e6" stroke="#444" stroke-width="0.8"/>
<rect x="339.5" y="835.5" width="6.5" height="7.5" fill="#777" stroke="#444" stroke-width="0.8"/>
<path d="M363.5,689.7 L376.1,689.7 L376.1,703.5 L379,711.5 L379,810 L377.3,810 L377.3,713.5 L362.3,713.5 L362.3,810 L360.6,810 L360.6,711.5 L363.5,703.5 Z" fill="#d2d4d6"/>
<rect x="362.3" y="713.5" width="6.5" height="22" fill="#e6246f"/>
<rect x="362.3" y="735.5" width="6.5" height="21.8" fill="#9061b0"/>
<rect x="368.8" y="713.5" width="6.8" height="38" fill="#d2d4d6"/>
<rect x="369" y="751.5" width="6.4" height="41.5" fill="#555759"/>
<rect x="360.6" y="798" width="18.4" height="3.3" fill="#d2d4d6"/>
<rect x="359.3" y="809.7" width="21" height="20.8" fill="#f7941d" stroke="#5a3000" stroke-width="1.2"/>
<polygon points="362.5,813 377.1,813 377.9,827 361.7,827" fill="#f6921e" stroke="#6a3a00" stroke-width="1.1"/>
<rect x="360.8" y="830.5" width="18" height="1.6" fill="#777"/>
<rect x="360.2" y="832.2" width="19.2" height="12.5" fill="#e6e6e6" stroke="#888" stroke-width="0.6"/>
<rect x="362.5" y="835.5" width="6.5" height="7.5" fill="#39b3e6" stroke="#444" stroke-width="0.8"/>
<rect x="371.1" y="835.5" width="6.5" height="7.5" fill="#777" stroke="#444" stroke-width="0.8"/>
<path d="M395.1,689.7 L407.7,689.7 L407.7,703.5 L410.6,711.5 L410.6,810 L408.9,810 L408.9,713.5 L393.9,713.5 L393.9,810 L392.2,810 L392.2,711.5 L395.1,703.5 Z" fill="#d2d4d6"/>
<rect x="393.9" y="713.5" width="6.5" height="22" fill="#e6246f"/>
<rect x="393.9" y="735.5" width="6.5" height="21.8" fill="#9061b0"/>
<rect x="400.4" y="713.5" width="6.8" height="38" fill="#d2d4d6"/>
<rect x="400.6" y="751.5" width="6.4" height="41.5" fill="#555759"/>
<rect x="392.2" y="798" width="18.4" height="3.3" fill="#d2d4d6"/>
<rect x="390.9" y="809.7" width="21" height="20.8" fill="#f7941d" stroke="#5a3000" stroke-width="1.2"/>
<polygon points="394.1,813 408.7,813 409.5,827 393.3,827" fill="#f6921e" stroke="#6a3a00" stroke-width="1.1"/>
<rect x="392.4" y="830.5" width="18" height="1.6" fill="#777"/>
<rect x="391.8" y="832.2" width="19.2" height="12.5" fill="#e6e6e6" stroke="#888" stroke-width="0.6"/>
<rect x="394.1" y="835.5" width="6.5" height="7.5" fill="#39b3e6" stroke="#444" stroke-width="0.8"/>
<rect x="402.7" y="835.5" width="6.5" height="7.5" fill="#777" stroke="#444" stroke-width="0.8"/>
<path d="M426.7,689.7 L439.3,689.7 L439.3,703.5 L442.2,711.5 L442.2,810 L440.5,810 L440.5,713.5 L425.5,713.5 L425.5,810 L423.8,810 L423.8,711.5 L426.7,703.5 Z" fill="#d2d4d6"/>
<rect x="425.5" y="713.5" width="6.5" height="22" fill="#e6246f"/>
<rect x="425.5" y="735.5" width="6.5" height="21.8" fill="#9061b0"/>
<rect x="432" y="713.5" width="6.8" height="38" fill="#d2d4d6"/>
<rect x="432.2" y="751.5" width="6.4" height="41.5" fill="#555759"/>
<rect x="423.8" y="798" width="18.4" height="3.3" fill="#d2d4d6"/>
<rect x="422.5" y="809.7" width="21" height="20.8" fill="#f7941d" stroke="#5a3000" stroke-width="1.2"/>
<polygon points="425.7,813 440.3,813 441.1,827 424.9,827" fill="#f6921e" stroke="#6a3a00" stroke-width="1.1"/>
<rect x="424" y="830.5" width="18" height="1.6" fill="#777"/>
<rect x="423.4" y="832.2" width="19.2" height="12.5" fill="#e6e6e6" stroke="#888" stroke-width="0.6"/>
<rect x="425.7" y="835.5" width="6.5" height="7.5" fill="#39b3e6" stroke="#444" stroke-width="0.8"/>
<rect x="434.3" y="835.5" width="6.5" height="7.5" fill="#777" stroke="#444" stroke-width="0.8"/>
<path d="M458.3,689.7 L470.9,689.7 L470.9,703.5 L473.8,711.5 L473.8,810 L472.1,810 L472.1,713.5 L457.1,713.5 L457.1,810 L455.4,810 L455.4,711.5 L458.3,703.5 Z" fill="#d2d4d6"/>
<rect x="457.1" y="713.5" width="6.5" height="22" fill="#e6246f"/>
<rect x="457.1" y="735.5" width="6.5" height="21.8" fill="#9061b0"/>
<rect x="463.6" y="713.5" width="6.8" height="38" fill="#d2d4d6"/>
<rect x="463.8" y="751.5" width="6.4" height="41.5" fill="#555759"/>
<rect x="455.4" y="798" width="18.4" height="3.3" fill="#d2d4d6"/>
<rect x="454.1" y="809.7" width="21" height="20.8" fill="#f7941d" stroke="#5a3000" stroke-width="1.2"/>
<polygon points="457.3,813 471.9,813 472.7,827 456.5,827" fill="#f6921e" stroke="#6a3a00" stroke-width="1.1"/>
<rect x="455.6" y="830.5" width="18" height="1.6" fill="#777"/>
<rect x="455" y="832.2" width="19.2" height="12.5" fill="#e6e6e6" stroke="#888" stroke-width="0.6"/>
<rect x="457.3" y="835.5" width="6.5" height="7.5" fill="#39b3e6" stroke="#444" stroke-width="0.8"/>
<rect x="465.9" y="835.5" width="6.5" height="7.5" fill="#777" stroke="#444" stroke-width="0.8"/>
<path d="M489.9,689.7 L502.5,689.7 L502.5,703.5 L505.4,711.5 L505.4,810 L503.7,810 L503.7,713.5 L488.7,713.5 L488.7,810 L487,810 L487,711.5 L489.9,703.5 Z" fill="#d2d4d6"/>
<rect x="488.7" y="713.5" width="6.5" height="22" fill="#e6246f"/>
<rect x="488.7" y="735.5" width="6.5" height="21.8" fill="#9061b0"/>
<rect x="495.2" y="713.5" width="6.8" height="38" fill="#d2d4d6"/>
<rect x="495.4" y="751.5" width="6.4" height="41.5" fill="#555759"/>
<rect x="487" y="798" width="18.4" height="3.3" fill="#d2d4d6"/>
<rect x="485.7" y="809.7" width="21" height="20.8" fill="#f7941d" stroke="#5a3000" stroke-width="1.2"/>
<polygon points="488.9,813 503.5,813 504.3,827 488.1,827" fill="#f6921e" stroke="#6a3a00" stroke-width="1.1"/>
<rect x="487.2" y="830.5" width="18" height="1.6" fill="#777"/>
<rect x="486.6" y="832.2" width="19.2" height="12.5" fill="#e6e6e6" stroke="#888" stroke-width="0.6"/>
<rect x="488.9" y="835.5" width="6.5" height="7.5" fill="#39b3e6" stroke="#444" stroke-width="0.8"/>
<rect x="497.5" y="835.5" width="6.5" height="7.5" fill="#777" stroke="#444" stroke-width="0.8"/>
<path d="M524.1,689.7 L536.7,689.7 L536.7,703.5 L539.6,711.5 L539.6,810 L537.9,810 L537.9,713.5 L522.9,713.5 L522.9,810 L521.2,810 L521.2,711.5 L524.1,703.5 Z" fill="#d2d4d6"/>
<rect x="522.9" y="713.5" width="6.5" height="22" fill="#e6246f"/>
<rect x="522.9" y="735.5" width="6.5" height="21.8" fill="#9061b0"/>
<rect x="529.4" y="713.5" width="6.8" height="38" fill="#d2d4d6"/>
<rect x="529.6" y="751.5" width="6.4" height="41.5" fill="#555759"/>
<rect x="521.2" y="798" width="18.4" height="3.3" fill="#d2d4d6"/>
<rect x="519.9" y="809.7" width="21" height="20.8" fill="#f7941d" stroke="#5a3000" stroke-width="1.2"/>
<polygon points="523.1,813 537.7,813 538.5,827 522.3,827" fill="#f6921e" stroke="#6a3a00" stroke-width="1.1"/>
<rect x="521.4" y="830.5" width="18" height="1.6" fill="#777"/>
<rect x="520.8" y="832.2" width="19.2" height="12.5" fill="#e6e6e6" stroke="#888" stroke-width="0.6"/>
<rect x="523.1" y="835.5" width="6.5" height="7.5" fill="#39b3e6" stroke="#444" stroke-width="0.8"/>
<rect x="531.7" y="835.5" width="6.5" height="7.5" fill="#777" stroke="#444" stroke-width="0.8"/>
<path d="M555.6,689.7 L568.2,689.7 L568.2,703.5 L571.1,711.5 L571.1,810 L569.4,810 L569.4,713.5 L554.4,713.5 L554.4,810 L552.7,810 L552.7,711.5 L555.6,703.5 Z" fill="#d2d4d6"/>
<rect x="554.4" y="713.5" width="6.5" height="22" fill="#e6246f"/>
<rect x="554.4" y="735.5" width="6.5" height="21.8" fill="#9061b0"/>
<rect x="560.9" y="713.5" width="6.8" height="38" fill="#d2d4d6"/>
<rect x="561.1" y="751.5" width="6.4" height="41.5" fill="#555759"/>
<rect x="552.7" y="798" width="18.4" height="3.3" fill="#d2d4d6"/>
<rect x="551.4" y="809.7" width="21" height="20.8" fill="#f7941d" stroke="#5a3000" stroke-width="1.2"/>
<polygon points="554.6,813 569.2,813 570,827 553.8,827" fill="#f6921e" stroke="#6a3a00" stroke-width="1.1"/>
<rect x="552.9" y="830.5" width="18" height="1.6" fill="#777"/>
<rect x="552.3" y="832.2" width="19.2" height="12.5" fill="#e6e6e6" stroke="#888" stroke-width="0.6"/>
<rect x="554.6" y="835.5" width="6.5" height="7.5" fill="#39b3e6" stroke="#444" stroke-width="0.8"/>
<rect x="563.2" y="835.5" width="6.5" height="7.5" fill="#777" stroke="#444" stroke-width="0.8"/>
<path d="M587.1,689.7 L599.7,689.7 L599.7,703.5 L602.6,711.5 L602.6,810 L600.9,810 L600.9,713.5 L585.9,713.5 L585.9,810 L584.2,810 L584.2,711.5 L587.1,703.5 Z" fill="#d2d4d6"/>
<rect x="585.9" y="713.5" width="6.5" height="22" fill="#e6246f"/>
<rect x="585.9" y="735.5" width="6.5" height="21.8" fill="#9061b0"/>
<rect x="592.4" y="713.5" width="6.8" height="38" fill="#d2d4d6"/>
<rect x="592.6" y="751.5" width="6.4" height="41.5" fill="#555759"/>
<rect x="584.2" y="798" width="18.4" height="3.3" fill="#d2d4d6"/>
<rect x="582.9" y="809.7" width="21" height="20.8" fill="#f7941d" stroke="#5a3000" stroke-width="1.2"/>
<polygon points="586.1,813 600.7,813 601.5,827 585.3,827" fill="#f6921e" stroke="#6a3a00" stroke-width="1.1"/>
<rect x="584.4" y="830.5" width="18" height="1.6" fill="#777"/>
<rect x="583.8" y="832.2" width="19.2" height="12.5" fill="#e6e6e6" stroke="#888" stroke-width="0.6"/>
<rect x="586.1" y="835.5" width="6.5" height="7.5" fill="#39b3e6" stroke="#444" stroke-width="0.8"/>
<rect x="594.7" y="835.5" width="6.5" height="7.5" fill="#777" stroke="#444" stroke-width="0.8"/>
<path d="M618.6,689.7 L631.2,689.7 L631.2,703.5 L634.1,711.5 L634.1,810 L632.4,810 L632.4,713.5 L617.4,713.5 L617.4,810 L615.7,810 L615.7,711.5 L618.6,703.5 Z" fill="#d2d4d6"/>
<rect x="617.4" y="713.5" width="6.5" height="22" fill="#e6246f"/>
<rect x="617.4" y="735.5" width="6.5" height="21.8" fill="#9061b0"/>
<rect x="623.9" y="713.5" width="6.8" height="38" fill="#d2d4d6"/>
<rect x="624.1" y="751.5" width="6.4" height="41.5" fill="#555759"/>
<rect x="615.7" y="798" width="18.4" height="3.3" fill="#d2d4d6"/>
<rect x="614.4" y="809.7" width="21" height="20.8" fill="#f7941d" stroke="#5a3000" stroke-width="1.2"/>
<polygon points="617.6,813 632.2,813 633,827 616.8,827" fill="#f6921e" stroke="#6a3a00" stroke-width="1.1"/>
<rect x="615.9" y="830.5" width="18" height="1.6" fill="#777"/>
<rect x="615.3" y="832.2" width="19.2" height="12.5" fill="#e6e6e6" stroke="#888" stroke-width="0.6"/>
<rect x="617.6" y="835.5" width="6.5" height="7.5" fill="#39b3e6" stroke="#444" stroke-width="0.8"/>
<rect x="626.2" y="835.5" width="6.5" height="7.5" fill="#777" stroke="#444" stroke-width="0.8"/>
<path d="M650.1,689.7 L662.7,689.7 L662.7,703.5 L665.6,711.5 L665.6,810 L663.9,810 L663.9,713.5 L648.9,713.5 L648.9,810 L647.2,810 L647.2,711.5 L650.1,703.5 Z" fill="#d2d4d6"/>
<rect x="648.9" y="713.5" width="6.5" height="22" fill="#e6246f"/>
<rect x="648.9" y="735.5" width="6.5" height="21.8" fill="#9061b0"/>
<rect x="655.4" y="713.5" width="6.8" height="38" fill="#d2d4d6"/>
<rect x="655.6" y="751.5" width="6.4" height="41.5" fill="#555759"/>
<rect x="647.2" y="798" width="18.4" height="3.3" fill="#d2d4d6"/>
<rect x="645.9" y="809.7" width="21" height="20.8" fill="#f7941d" stroke="#5a3000" stroke-width="1.2"/>
<polygon points="649.1,813 663.7,813 664.5,827 648.3,827" fill="#f6921e" stroke="#6a3a00" stroke-width="1.1"/>
<rect x="647.4" y="830.5" width="18" height="1.6" fill="#777"/>
<rect x="646.8" y="832.2" width="19.2" height="12.5" fill="#e6e6e6" stroke="#888" stroke-width="0.6"/>
<rect x="649.1" y="835.5" width="6.5" height="7.5" fill="#39b3e6" stroke="#444" stroke-width="0.8"/>
<rect x="657.7" y="835.5" width="6.5" height="7.5" fill="#777" stroke="#444" stroke-width="0.8"/>
<path d="M681.6,689.7 L694.2,689.7 L694.2,703.5 L697.1,711.5 L697.1,810 L695.4,810 L695.4,713.5 L680.4,713.5 L680.4,810 L678.7,810 L678.7,711.5 L681.6,703.5 Z" fill="#d2d4d6"/>
<rect x="680.4" y="713.5" width="6.5" height="22" fill="#e6246f"/>
<rect x="680.4" y="735.5" width="6.5" height="21.8" fill="#9061b0"/>
<rect x="686.9" y="713.5" width="6.8" height="38" fill="#d2d4d6"/>
<rect x="687.1" y="751.5" width="6.4" height="41.5" fill="#555759"/>
<rect x="678.7" y="798" width="18.4" height="3.3" fill="#d2d4d6"/>
<rect x="677.4" y="809.7" width="21" height="20.8" fill="#f7941d" stroke="#5a3000" stroke-width="1.2"/>
<polygon points="680.6,813 695.2,813 696,827 679.8,827" fill="#f6921e" stroke="#6a3a00" stroke-width="1.1"/>
<rect x="678.9" y="830.5" width="18" height="1.6" fill="#777"/>
<rect x="678.3" y="832.2" width="19.2" height="12.5" fill="#e6e6e6" stroke="#888" stroke-width="0.6"/>
<rect x="680.6" y="835.5" width="6.5" height="7.5" fill="#39b3e6" stroke="#444" stroke-width="0.8"/>
<rect x="689.2" y="835.5" width="6.5" height="7.5" fill="#777" stroke="#444" stroke-width="0.8"/>
<path d="M713.1,689.7 L725.7,689.7 L725.7,703.5 L728.6,711.5 L728.6,810 L726.9,810 L726.9,713.5 L711.9,713.5 L711.9,810 L710.2,810 L710.2,711.5 L713.1,703.5 Z" fill="#d2d4d6"/>
<rect x="711.9" y="713.5" width="6.5" height="22" fill="#e6246f"/>
<rect x="711.9" y="735.5" width="6.5" height="21.8" fill="#9061b0"/>
<rect x="718.4" y="713.5" width="6.8" height="38" fill="#d2d4d6"/>
<rect x="718.6" y="751.5" width="6.4" height="41.5" fill="#555759"/>
<rect x="710.2" y="798" width="18.4" height="3.3" fill="#d2d4d6"/>
<rect x="708.9" y="809.7" width="21" height="20.8" fill="#f7941d" stroke="#5a3000" stroke-width="1.2"/>
<polygon points="712.1,813 726.7,813 727.5,827 711.3,827" fill="#f6921e" stroke="#6a3a00" stroke-width="1.1"/>
<rect x="710.4" y="830.5" width="18" height="1.6" fill="#777"/>
<rect x="709.8" y="832.2" width="19.2" height="12.5" fill="#e6e6e6" stroke="#888" stroke-width="0.6"/>
<rect x="712.1" y="835.5" width="6.5" height="7.5" fill="#39b3e6" stroke="#444" stroke-width="0.8"/>
<rect x="720.7" y="835.5" width="6.5" height="7.5" fill="#777" stroke="#444" stroke-width="0.8"/>
<path d="M744.6,689.7 L757.2,689.7 L757.2,703.5 L760.1,711.5 L760.1,810 L758.4,810 L758.4,713.5 L743.4,713.5 L743.4,810 L741.7,810 L741.7,711.5 L744.6,703.5 Z" fill="#d2d4d6"/>
<rect x="743.4" y="713.5" width="6.5" height="22" fill="#e6246f"/>
<rect x="743.4" y="735.5" width="6.5" height="21.8" fill="#9061b0"/>
<rect x="749.9" y="713.5" width="6.8" height="38" fill="#d2d4d6"/>
<rect x="750.1" y="751.5" width="6.4" height="41.5" fill="#555759"/>
<rect x="741.7" y="798" width="18.4" height="3.3" fill="#d2d4d6"/>
<rect x="740.4" y="809.7" width="21" height="20.8" fill="#f7941d" stroke="#5a3000" stroke-width="1.2"/>
<polygon points="743.6,813 758.2,813 759,827 742.8,827" fill="#f6921e" stroke="#6a3a00" stroke-width="1.1"/>
<rect x="741.9" y="830.5" width="18" height="1.6" fill="#777"/>
<rect x="741.3" y="832.2" width="19.2" height="12.5" fill="#e6e6e6" stroke="#888" stroke-width="0.6"/>
<rect x="743.6" y="835.5" width="6.5" height="7.5" fill="#39b3e6" stroke="#444" stroke-width="0.8"/>
<rect x="752.2" y="835.5" width="6.5" height="7.5" fill="#777" stroke="#444" stroke-width="0.8"/>
<path d="M776.1,689.7 L788.7,689.7 L788.7,703.5 L791.6,711.5 L791.6,810 L789.9,810 L789.9,713.5 L774.9,713.5 L774.9,810 L773.2,810 L773.2,711.5 L776.1,703.5 Z" fill="#d2d4d6"/>
<rect x="774.9" y="713.5" width="6.5" height="22" fill="#e6246f"/>
<rect x="774.9" y="735.5" width="6.5" height="21.8" fill="#9061b0"/>
<rect x="781.4" y="713.5" width="6.8" height="38" fill="#d2d4d6"/>
<rect x="781.6" y="751.5" width="6.4" height="41.5" fill="#555759"/>
<rect x="773.2" y="798" width="18.4" height="3.3" fill="#d2d4d6"/>
<rect x="771.9" y="809.7" width="21" height="20.8" fill="#f7941d" stroke="#5a3000" stroke-width="1.2"/>
<polygon points="775.1,813 789.7,813 790.5,827 774.3,827" fill="#f6921e" stroke="#6a3a00" stroke-width="1.1"/>
<rect x="773.4" y="830.5" width="18" height="1.6" fill="#777"/>
<rect x="772.8" y="832.2" width="19.2" height="12.5" fill="#e6e6e6" stroke="#888" stroke-width="0.6"/>
<rect x="775.1" y="835.5" width="6.5" height="7.5" fill="#39b3e6" stroke="#444" stroke-width="0.8"/>
<rect x="783.7" y="835.5" width="6.5" height="7.5" fill="#777" stroke="#444" stroke-width="0.8"/>
<path d="M809.9,689.7 L822.5,689.7 L822.5,703.5 L825.4,711.5 L825.4,810 L823.7,810 L823.7,713.5 L808.7,713.5 L808.7,810 L807,810 L807,711.5 L809.9,703.5 Z" fill="#d2d4d6"/>
<rect x="808.7" y="713.5" width="6.5" height="22" fill="#e6246f"/>
<rect x="808.7" y="735.5" width="6.5" height="21.8" fill="#9061b0"/>
<rect x="815.2" y="713.5" width="6.8" height="38" fill="#d2d4d6"/>
<rect x="815.4" y="751.5" width="6.4" height="41.5" fill="#555759"/>
<rect x="807" y="798" width="18.4" height="3.3" fill="#d2d4d6"/>
<rect x="805.7" y="809.7" width="21" height="20.8" fill="#f7941d" stroke="#5a3000" stroke-width="1.2"/>
<polygon points="808.9,813 823.5,813 824.3,827 808.1,827" fill="#f6921e" stroke="#6a3a00" stroke-width="1.1"/>
<rect x="807.2" y="830.5" width="18" height="1.6" fill="#777"/>
<rect x="806.6" y="832.2" width="19.2" height="12.5" fill="#e6e6e6" stroke="#888" stroke-width="0.6"/>
<rect x="808.9" y="835.5" width="6.5" height="7.5" fill="#39b3e6" stroke="#444" stroke-width="0.8"/>
<rect x="817.5" y="835.5" width="6.5" height="7.5" fill="#777" stroke="#444" stroke-width="0.8"/>
<path d="M841.55,689.7 L854.15,689.7 L854.15,703.5 L857.05,711.5 L857.05,810 L855.35,810 L855.35,713.5 L840.35,713.5 L840.35,810 L838.65,810 L838.65,711.5 L841.55,703.5 Z" fill="#d2d4d6"/>
<rect x="840.35" y="713.5" width="6.5" height="22" fill="#e6246f"/>
<rect x="840.35" y="735.5" width="6.5" height="21.8" fill="#9061b0"/>
<rect x="846.85" y="713.5" width="6.8" height="38" fill="#d2d4d6"/>
<rect x="847.05" y="751.5" width="6.4" height="41.5" fill="#555759"/>
<rect x="838.65" y="798" width="18.4" height="3.3" fill="#d2d4d6"/>
<rect x="837.35" y="809.7" width="21" height="20.8" fill="#f7941d" stroke="#5a3000" stroke-width="1.2"/>
<polygon points="840.55,813 855.15,813 855.95,827 839.75,827" fill="#f6921e" stroke="#6a3a00" stroke-width="1.1"/>
<rect x="838.85" y="830.5" width="18" height="1.6" fill="#777"/>
<rect x="838.25" y="832.2" width="19.2" height="12.5" fill="#e6e6e6" stroke="#888" stroke-width="0.6"/>
<rect x="840.55" y="835.5" width="6.5" height="7.5" fill="#39b3e6" stroke="#444" stroke-width="0.8"/>
<rect x="849.15" y="835.5" width="6.5" height="7.5" fill="#777" stroke="#444" stroke-width="0.8"/>
<path d="M873.2,689.7 L885.8,689.7 L885.8,703.5 L888.7,711.5 L888.7,810 L887,810 L887,713.5 L872,713.5 L872,810 L870.3,810 L870.3,711.5 L873.2,703.5 Z" fill="#d2d4d6"/>
<rect x="872" y="713.5" width="6.5" height="22" fill="#e6246f"/>
<rect x="872" y="735.5" width="6.5" height="21.8" fill="#9061b0"/>
<rect x="878.5" y="713.5" width="6.8" height="38" fill="#d2d4d6"/>
<rect x="878.7" y="751.5" width="6.4" height="41.5" fill="#555759"/>
<rect x="870.3" y="798" width="18.4" height="3.3" fill="#d2d4d6"/>
<rect x="869" y="809.7" width="21" height="20.8" fill="#f7941d" stroke="#5a3000" stroke-width="1.2"/>
<polygon points="872.2,813 886.8,813 887.6,827 871.4,827" fill="#f6921e" stroke="#6a3a00" stroke-width="1.1"/>
<rect x="870.5" y="830.5" width="18" height="1.6" fill="#777"/>
<rect x="869.9" y="832.2" width="19.2" height="12.5" fill="#e6e6e6" stroke="#888" stroke-width="0.6"/>
<rect x="872.2" y="835.5" width="6.5" height="7.5" fill="#39b3e6" stroke="#444" stroke-width="0.8"/>
<rect x="880.8" y="835.5" width="6.5" height="7.5" fill="#777" stroke="#444" stroke-width="0.8"/>
<path d="M904.85,689.7 L917.45,689.7 L917.45,703.5 L920.35,711.5 L920.35,810 L918.65,810 L918.65,713.5 L903.65,713.5 L903.65,810 L901.95,810 L901.95,711.5 L904.85,703.5 Z" fill="#d2d4d6"/>
<rect x="903.65" y="713.5" width="6.5" height="22" fill="#e6246f"/>
<rect x="903.65" y="735.5" width="6.5" height="21.8" fill="#9061b0"/>
<rect x="910.15" y="713.5" width="6.8" height="38" fill="#d2d4d6"/>
<rect x="910.35" y="751.5" width="6.4" height="41.5" fill="#555759"/>
<rect x="901.95" y="798" width="18.4" height="3.3" fill="#d2d4d6"/>
<rect x="900.65" y="809.7" width="21" height="20.8" fill="#f7941d" stroke="#5a3000" stroke-width="1.2"/>
<polygon points="903.85,813 918.45,813 919.25,827 903.05,827" fill="#f6921e" stroke="#6a3a00" stroke-width="1.1"/>
<rect x="902.15" y="830.5" width="18" height="1.6" fill="#777"/>
<rect x="901.55" y="832.2" width="19.2" height="12.5" fill="#e6e6e6" stroke="#888" stroke-width="0.6"/>
<rect x="903.85" y="835.5" width="6.5" height="7.5" fill="#39b3e6" stroke="#444" stroke-width="0.8"/>
<rect x="912.45" y="835.5" width="6.5" height="7.5" fill="#777" stroke="#444" stroke-width="0.8"/>
<path d="M936.5,689.7 L949.1,689.7 L949.1,703.5 L952,711.5 L952,810 L950.3,810 L950.3,713.5 L935.3,713.5 L935.3,810 L933.6,810 L933.6,711.5 L936.5,703.5 Z" fill="#d2d4d6"/>
<rect x="935.3" y="713.5" width="6.5" height="22" fill="#e6246f"/>
<rect x="935.3" y="735.5" width="6.5" height="21.8" fill="#9061b0"/>
<rect x="941.8" y="713.5" width="6.8" height="38" fill="#d2d4d6"/>
<rect x="942" y="751.5" width="6.4" height="41.5" fill="#555759"/>
<rect x="933.6" y="798" width="18.4" height="3.3" fill="#d2d4d6"/>
<rect x="932.3" y="809.7" width="21" height="20.8" fill="#f7941d" stroke="#5a3000" stroke-width="1.2"/>
<polygon points="935.5,813 950.1,813 950.9,827 934.7,827" fill="#f6921e" stroke="#6a3a00" stroke-width="1.1"/>
<rect x="933.8" y="830.5" width="18" height="1.6" fill="#777"/>
<rect x="933.2" y="832.2" width="19.2" height="12.5" fill="#e6e6e6" stroke="#888" stroke-width="0.6"/>
<rect x="935.5" y="835.5" width="6.5" height="7.5" fill="#39b3e6" stroke="#444" stroke-width="0.8"/>
<rect x="944.1" y="835.5" width="6.5" height="7.5" fill="#777" stroke="#444" stroke-width="0.8"/>
<path d="M968.15,689.7 L980.75,689.7 L980.75,703.5 L983.65,711.5 L983.65,810 L981.95,810 L981.95,713.5 L966.95,713.5 L966.95,810 L965.25,810 L965.25,711.5 L968.15,703.5 Z" fill="#d2d4d6"/>
<rect x="966.95" y="713.5" width="6.5" height="22" fill="#e6246f"/>
<rect x="966.95" y="735.5" width="6.5" height="21.8" fill="#9061b0"/>
<rect x="973.45" y="713.5" width="6.8" height="38" fill="#d2d4d6"/>
<rect x="973.65" y="751.5" width="6.4" height="41.5" fill="#555759"/>
<rect x="965.25" y="798" width="18.4" height="3.3" fill="#d2d4d6"/>
<rect x="963.95" y="809.7" width="21" height="20.8" fill="#f7941d" stroke="#5a3000" stroke-width="1.2"/>
<polygon points="967.15,813 981.75,813 982.55,827 966.35,827" fill="#f6921e" stroke="#6a3a00" stroke-width="1.1"/>
<rect x="965.45" y="830.5" width="18" height="1.6" fill="#777"/>
<rect x="964.85" y="832.2" width="19.2" height="12.5" fill="#e6e6e6" stroke="#888" stroke-width="0.6"/>
<rect x="967.15" y="835.5" width="6.5" height="7.5" fill="#39b3e6" stroke="#444" stroke-width="0.8"/>
<rect x="975.75" y="835.5" width="6.5" height="7.5" fill="#777" stroke="#444" stroke-width="0.8"/>
<path d="M999.8,689.7 L1012.4,689.7 L1012.4,703.5 L1015.3,711.5 L1015.3,810 L1013.6,810 L1013.6,713.5 L998.6,713.5 L998.6,810 L996.9,810 L996.9,711.5 L999.8,703.5 Z" fill="#d2d4d6"/>
<rect x="998.6" y="713.5" width="6.5" height="22" fill="#e6246f"/>
<rect x="998.6" y="735.5" width="6.5" height="21.8" fill="#9061b0"/>
<rect x="1005.1" y="713.5" width="6.8" height="38" fill="#d2d4d6"/>
<rect x="1005.3" y="751.5" width="6.4" height="41.5" fill="#555759"/>
<rect x="996.9" y="798" width="18.4" height="3.3" fill="#d2d4d6"/>
<rect x="995.6" y="809.7" width="21" height="20.8" fill="#f7941d" stroke="#5a3000" stroke-width="1.2"/>
<polygon points="998.8,813 1013.4,813 1014.2,827 998,827" fill="#f6921e" stroke="#6a3a00" stroke-width="1.1"/>
<rect x="997.1" y="830.5" width="18" height="1.6" fill="#777"/>
<rect x="996.5" y="832.2" width="19.2" height="12.5" fill="#e6e6e6" stroke="#888" stroke-width="0.6"/>
<rect x="998.8" y="835.5" width="6.5" height="7.5" fill="#39b3e6" stroke="#444" stroke-width="0.8"/>
<rect x="1007.4" y="835.5" width="6.5" height="7.5" fill="#777" stroke="#444" stroke-width="0.8"/>
<path d="M1031.45,689.7 L1044.05,689.7 L1044.05,703.5 L1046.95,711.5 L1046.95,810 L1045.25,810 L1045.25,713.5 L1030.25,713.5 L1030.25,810 L1028.55,810 L1028.55,711.5 L1031.45,703.5 Z" fill="#d2d4d6"/>
<rect x="1030.25" y="713.5" width="6.5" height="22" fill="#e6246f"/>
<rect x="1030.25" y="735.5" width="6.5" height="21.8" fill="#9061b0"/>
<rect x="1036.75" y="713.5" width="6.8" height="38" fill="#d2d4d6"/>
<rect x="1036.95" y="751.5" width="6.4" height="41.5" fill="#555759"/>
<rect x="1028.55" y="798" width="18.4" height="3.3" fill="#d2d4d6"/>
<rect x="1027.25" y="809.7" width="21" height="20.8" fill="#f7941d" stroke="#5a3000" stroke-width="1.2"/>
<polygon points="1030.45,813 1045.05,813 1045.85,827 1029.65,827" fill="#f6921e" stroke="#6a3a00" stroke-width="1.1"/>
<rect x="1028.75" y="830.5" width="18" height="1.6" fill="#777"/>
<rect x="1028.15" y="832.2" width="19.2" height="12.5" fill="#e6e6e6" stroke="#888" stroke-width="0.6"/>
<rect x="1030.45" y="835.5" width="6.5" height="7.5" fill="#39b3e6" stroke="#444" stroke-width="0.8"/>
<rect x="1039.05" y="835.5" width="6.5" height="7.5" fill="#777" stroke="#444" stroke-width="0.8"/>
<circle cx="259.5" cy="840.5" r="1.7" fill="#d8d8d8"/>
<circle cx="291.1" cy="840.5" r="1.7" fill="#d8d8d8"/>
<circle cx="322.7" cy="840.5" r="1.7" fill="#d8d8d8"/>
<circle cx="354.3" cy="840.5" r="1.7" fill="#d8d8d8"/>
<circle cx="385.9" cy="840.5" r="1.7" fill="#d8d8d8"/>
<circle cx="417.5" cy="840.5" r="1.7" fill="#d8d8d8"/>
<circle cx="449.1" cy="840.5" r="1.7" fill="#d8d8d8"/>
<circle cx="480.7" cy="840.5" r="1.7" fill="#d8d8d8"/>
<circle cx="514.9" cy="840.5" r="1.7" fill="#d8d8d8"/>
<circle cx="546.4" cy="840.5" r="1.7" fill="#d8d8d8"/>
<circle cx="577.9" cy="840.5" r="1.7" fill="#d8d8d8"/>
<circle cx="609.4" cy="840.5" r="1.7" fill="#d8d8d8"/>
<circle cx="640.9" cy="840.5" r="1.7" fill="#d8d8d8"/>
<circle cx="672.4" cy="840.5" r="1.7" fill="#d8d8d8"/>
<circle cx="703.9" cy="840.5" r="1.7" fill="#d8d8d8"/>
<circle cx="735.4" cy="840.5" r="1.7" fill="#d8d8d8"/>
<circle cx="766.9" cy="840.5" r="1.7" fill="#d8d8d8"/>
<circle cx="800.7" cy="840.5" r="1.7" fill="#d8d8d8"/>
<circle cx="832.35" cy="840.5" r="1.7" fill="#d8d8d8"/>
<circle cx="864" cy="840.5" r="1.7" fill="#d8d8d8"/>
<circle cx="895.65" cy="840.5" r="1.7" fill="#d8d8d8"/>
<circle cx="927.3" cy="840.5" r="1.7" fill="#d8d8d8"/>
<circle cx="958.95" cy="840.5" r="1.7" fill="#d8d8d8"/>
<circle cx="990.6" cy="840.5" r="1.7" fill="#d8d8d8"/>
<circle cx="1022.25" cy="840.5" r="1.7" fill="#d8d8d8"/>
<circle cx="1052" cy="840.5" r="1.9" fill="#e8e8e8"/>
<circle cx="513.7" cy="689.7" r="3" fill="#34b4e4" stroke="#9a9a9a" stroke-width="1"/>
<circle cx="798.3" cy="689.7" r="3" fill="#34b4e4" stroke="#9a9a9a" stroke-width="1"/>
<rect x="512.7" y="783" width="2.2" height="43" fill="#5cc8f0"/>
<rect x="799.3" y="783" width="2.2" height="43" fill="#5cc8f0"/>
<ellipse cx="628.2" cy="754" rx="4.8" ry="7" fill="#4a4a4a" stroke="#888" stroke-width="1"/>
<circle cx="628.2" cy="751" r="2.2" fill="#eee"/>
<rect x="260.3" y="760" width="124.1" height="30.4" fill="#f7c51e"/>
<polygon points="274.5,765.5 284.3,782.5 264.7,782.5" fill="none" stroke="#231f20" stroke-width="1.7" stroke-linejoin="round"/>
<line x1="274.5" y1="770.5" x2="274.5" y2="777" stroke="#231f20" stroke-width="2"/>
<circle cx="274.5" cy="779.6" r="0.9" fill="#231f20"/>
<text x="286" y="769.8" font-size="3.2" fill="#3a3000" textLength="73" lengthAdjust="spacingAndGlyphs">Loss of power to both SPs simultaneously can destroy data</text>
<text x="287" y="779.3" font-size="6.6" fill="#231f20" font-weight="bold" stroke="#231f20" stroke-width="0.35" textLength="72" lengthAdjust="spacingAndGlyphs">Will Make the Array Unusable</text>
<circle cx="372" cy="775" r="9.8" fill="#f7c51e" stroke="#231f20" stroke-width="1.6"/>
<path d="M364,786 L367.5,778 L373,770 Q377,766 379,770 L376,776 L371,781 L369,787 Z" fill="#fff" stroke="#231f20" stroke-width="0.9"/>
<path d="M368,774 Q372,769 377,772 M370,779 Q374,776 378,779" fill="none" stroke="#231f20" stroke-width="1.1"/>
<rect x="252.2" y="858" width="806.6" height="87" fill="#1e1e1e"/>
<rect x="275.7" y="937.5" width="375" height="3.5" fill="#a0a0a4"/>
<rect x="665.5" y="937.5" width="371.5" height="3.5" fill="#a0a0a4"/>
<rect x="254.7" y="861.6" width="20.3" height="80" fill="#a6a6a8"/>
<rect x="254.7" y="862" width="10" height="79" fill="url(#metalg)"/>
<text x="255.2" y="878.5" font-size="9.5" fill="#3a3a3a" textLength="9.5" lengthAdjust="spacingAndGlyphs">SP</text>
<text x="254.8" y="905.5" font-size="17" fill="#2a2a2a" textLength="10" lengthAdjust="spacingAndGlyphs">A</text>
<polygon points="254.7,916 264.5,923 254.7,930" fill="#231f20"/>
<rect x="266" y="862.9" width="6.3" height="31" fill="#5cc8f0" stroke="#1a4a60" stroke-width="0.8"/>
<rect x="266" y="893.9" width="6.3" height="34" fill="#f39a25" stroke="#5a3000" stroke-width="0.8"/>
<polygon points="266,913 270,914.5 266,917" fill="#231f20"/>
<line x1="266.5" y1="934.6" x2="274.5" y2="934.6" stroke="#111" stroke-width="2"/>
<line x1="270.5" y1="930.6" x2="270.5" y2="938.6" stroke="#111" stroke-width="2"/>
<line x1="275" y1="861.6" x2="275" y2="941" stroke="#222" stroke-width="1.4"/>
<rect x="275.7" y="861.5" width="375.3" height="79" fill="#8e8e92"/>
<line x1="275" y1="861.5" x2="275" y2="940.5" stroke="#222" stroke-width="1.4"/>
<line x1="273" y1="940.5" x2="651" y2="940.5" stroke="#3a3a3a" stroke-width="1"/>
<g transform="translate(277.4,861) scale(1.01,1.01)">
<rect x="2.6" y="2.6" width="73.8" height="74.3" rx="24" fill="#262324" stroke="#6f7071" stroke-width="5.2"/>
<line x1="2.9" y1="24.2" x2="27.1" y2="24.2" stroke="#6f7071" stroke-width="4.2" stroke-linecap="round"/>
<line x1="15.4" y1="5" x2="37.9" y2="19.2" stroke="#6f7071" stroke-width="4.2" stroke-linecap="round"/>
<line x1="52" y1="3.3" x2="54.6" y2="24.2" stroke="#6f7071" stroke-width="4.2" stroke-linecap="round"/>
<line x1="73.8" y1="23.3" x2="57.9" y2="40.8" stroke="#6f7071" stroke-width="4.2" stroke-linecap="round"/>
<line x1="74.6" y1="60" x2="54.6" y2="53.3" stroke="#6f7071" stroke-width="4.2" stroke-linecap="round"/>
<line x1="52" y1="75" x2="41.25" y2="58.3" stroke="#6f7071" stroke-width="4.2" stroke-linecap="round"/>
<line x1="17.9" y1="74.2" x2="24.6" y2="55" stroke="#6f7071" stroke-width="4.2" stroke-linecap="round"/>
<line x1="4.6" y1="55" x2="20.4" y2="37.5" stroke="#6f7071" stroke-width="4.2" stroke-linecap="round"/>
<circle cx="39.8" cy="39.5" r="20.5" fill="#69696b"/>
<circle cx="39.8" cy="39.5" r="17" fill="#707376"/>
</g>
<g transform="translate(358.5,861) scale(1.02,1.01)">
<rect x="2.6" y="2.6" width="73.8" height="74.3" rx="24" fill="#262324" stroke="#6f7071" stroke-width="5.2"/>
<line x1="2.9" y1="24.2" x2="27.1" y2="24.2" stroke="#6f7071" stroke-width="4.2" stroke-linecap="round"/>
<line x1="15.4" y1="5" x2="37.9" y2="19.2" stroke="#6f7071" stroke-width="4.2" stroke-linecap="round"/>
<line x1="52" y1="3.3" x2="54.6" y2="24.2" stroke="#6f7071" stroke-width="4.2" stroke-linecap="round"/>
<line x1="73.8" y1="23.3" x2="57.9" y2="40.8" stroke="#6f7071" stroke-width="4.2" stroke-linecap="round"/>
<line x1="74.6" y1="60" x2="54.6" y2="53.3" stroke="#6f7071" stroke-width="4.2" stroke-linecap="round"/>
<line x1="52" y1="75" x2="41.25" y2="58.3" stroke="#6f7071" stroke-width="4.2" stroke-linecap="round"/>
<line x1="17.9" y1="74.2" x2="24.6" y2="55" stroke="#6f7071" stroke-width="4.2" stroke-linecap="round"/>
<line x1="4.6" y1="55" x2="20.4" y2="37.5" stroke="#6f7071" stroke-width="4.2" stroke-linecap="round"/>
<circle cx="39.8" cy="39.5" r="20.5" fill="#69696b"/>
<circle cx="39.8" cy="39.5" r="17" fill="#707376"/>
</g>
<rect x="445.3" y="862" width="39" height="80" fill="#b9bcc0"/>
<line x1="445.3" y1="862" x2="445.3" y2="942" stroke="#222" stroke-width="1.4"/>
<line x1="484.3" y1="862" x2="484.3" y2="942" stroke="#222" stroke-width="1.4"/>
<polygon points="448.3,866 481.3,866 475.8,882 453.8,882" fill="#9a9da0" stroke="#222" stroke-width="1.1"/>
<circle cx="452.3" cy="871" r="1.3" fill="#eee"/>
<circle cx="477.3" cy="871" r="1.3" fill="#eee"/>
<circle cx="464.8" cy="882" r="13.9" fill="#707070" stroke="#2a2a2a" stroke-width="1"/>
<circle cx="464.8" cy="882" r="4.5" fill="#333"/>
<rect x="452.1" y="895" width="25" height="25" fill="#f7941d" stroke="#3a2200" stroke-width="1.2"/>
<rect x="452.1" y="914.5" width="25" height="5.5" fill="#fbb040" stroke="#3a2200" stroke-width="0.8"/>
<polygon points="459.8,901 469.8,901 464.8,908" fill="#231f20"/>
<circle cx="452.3" cy="932" r="3.2" fill="#8cd040" stroke="#1a7a2a" stroke-width="1"/>
<circle cx="476.8" cy="932" r="3.2" fill="#f0a080" stroke="#a03010" stroke-width="1"/>
<g transform="translate(464.8,931.5) scale(0.72)" fill="none" stroke="#f39a25" stroke-width="1.4" stroke-linejoin="round"><path d="M-3,12 L-6,3 L-8,-1 Q-8,-3 -6,-2 L-4,1 L-4,-7 Q-3,-9 -2,-7 L-1,-1 L0,-10 Q1,-12 2,-10 L2,-1 L4,-8 Q5,-10 6,-8 L5,0 L7,-5 Q8,-6 9,-4 L7,5 L4,12 Z"/><line x1="-10" y1="-8" x2="10" y2="7" stroke-width="3.2" stroke-linecap="round"/></g>
<g transform="translate(485.8,861) scale(1.03,1.01)">
<rect x="2.6" y="2.6" width="73.8" height="74.3" rx="24" fill="#262324" stroke="#6f7071" stroke-width="5.2"/>
<line x1="2.9" y1="24.2" x2="27.1" y2="24.2" stroke="#6f7071" stroke-width="4.2" stroke-linecap="round"/>
<line x1="15.4" y1="5" x2="37.9" y2="19.2" stroke="#6f7071" stroke-width="4.2" stroke-linecap="round"/>
<line x1="52" y1="3.3" x2="54.6" y2="24.2" stroke="#6f7071" stroke-width="4.2" stroke-linecap="round"/>
<line x1="73.8" y1="23.3" x2="57.9" y2="40.8" stroke="#6f7071" stroke-width="4.2" stroke-linecap="round"/>
<line x1="74.6" y1="60" x2="54.6" y2="53.3" stroke="#6f7071" stroke-width="4.2" stroke-linecap="round"/>
<line x1="52" y1="75" x2="41.25" y2="58.3" stroke="#6f7071" stroke-width="4.2" stroke-linecap="round"/>
<line x1="17.9" y1="74.2" x2="24.6" y2="55" stroke="#6f7071" stroke-width="4.2" stroke-linecap="round"/>
<line x1="4.6" y1="55" x2="20.4" y2="37.5" stroke="#6f7071" stroke-width="4.2" stroke-linecap="round"/>
<circle cx="39.8" cy="39.5" r="20.5" fill="#69696b"/>
<circle cx="39.8" cy="39.5" r="17" fill="#707376"/>
</g>
<g transform="translate(567,861) scale(1.03,1.01)">
<rect x="2.6" y="2.6" width="73.8" height="74.3" rx="24" fill="#262324" stroke="#6f7071" stroke-width="5.2"/>
<line x1="2.9" y1="24.2" x2="27.1" y2="24.2" stroke="#6f7071" stroke-width="4.2" stroke-linecap="round"/>
<line x1="15.4" y1="5" x2="37.9" y2="19.2" stroke="#6f7071" stroke-width="4.2" stroke-linecap="round"/>
<line x1="52" y1="3.3" x2="54.6" y2="24.2" stroke="#6f7071" stroke-width="4.2" stroke-linecap="round"/>
<line x1="73.8" y1="23.3" x2="57.9" y2="40.8" stroke="#6f7071" stroke-width="4.2" stroke-linecap="round"/>
<line x1="74.6" y1="60" x2="54.6" y2="53.3" stroke="#6f7071" stroke-width="4.2" stroke-linecap="round"/>
<line x1="52" y1="75" x2="41.25" y2="58.3" stroke="#6f7071" stroke-width="4.2" stroke-linecap="round"/>
<line x1="17.9" y1="74.2" x2="24.6" y2="55" stroke="#6f7071" stroke-width="4.2" stroke-linecap="round"/>
<line x1="4.6" y1="55" x2="20.4" y2="37.5" stroke="#6f7071" stroke-width="4.2" stroke-linecap="round"/>
<circle cx="39.8" cy="39.5" r="20.5" fill="#69696b"/>
<circle cx="39.8" cy="39.5" r="17" fill="#707376"/>
</g>
<rect x="650.5" y="862" width="2" height="79" fill="#111"/>
<rect x="652.3" y="862" width="12.1" height="79" fill="#b8babd"/>
<line x1="665" y1="862" x2="665" y2="941" stroke="#222" stroke-width="1.2"/>
<rect x="652.3" y="879.5" width="12.1" height="13" fill="#21a9d8"/>
<circle cx="658.3" cy="886" r="3" fill="#e8f8ff"/>
<rect x="652.3" y="912.4" width="12.1" height="13" fill="#21a9d8"/>
<circle cx="658.3" cy="918.9" r="3" fill="#e8f8ff"/>
<rect x="665.5" y="861.5" width="371.5" height="79" fill="#8e8e92"/>
<g transform="translate(664.5,861) scale(1.01,1.01)">
<rect x="2.6" y="2.6" width="73.8" height="74.3" rx="24" fill="#262324" stroke="#6f7071" stroke-width="5.2"/>
<line x1="2.9" y1="24.2" x2="27.1" y2="24.2" stroke="#6f7071" stroke-width="4.2" stroke-linecap="round"/>
<line x1="15.4" y1="5" x2="37.9" y2="19.2" stroke="#6f7071" stroke-width="4.2" stroke-linecap="round"/>
<line x1="52" y1="3.3" x2="54.6" y2="24.2" stroke="#6f7071" stroke-width="4.2" stroke-linecap="round"/>
<line x1="73.8" y1="23.3" x2="57.9" y2="40.8" stroke="#6f7071" stroke-width="4.2" stroke-linecap="round"/>
<line x1="74.6" y1="60" x2="54.6" y2="53.3" stroke="#6f7071" stroke-width="4.2" stroke-linecap="round"/>
<line x1="52" y1="75" x2="41.25" y2="58.3" stroke="#6f7071" stroke-width="4.2" stroke-linecap="round"/>
<line x1="17.9" y1="74.2" x2="24.6" y2="55" stroke="#6f7071" stroke-width="4.2" stroke-linecap="round"/>
<line x1="4.6" y1="55" x2="20.4" y2="37.5" stroke="#6f7071" stroke-width="4.2" stroke-linecap="round"/>
<circle cx="39.8" cy="39.5" r="20.5" fill="#69696b"/>
<circle cx="39.8" cy="39.5" r="17" fill="#707376"/>
</g>
<g transform="translate(745,861) scale(1.02,1.01)">
<rect x="2.6" y="2.6" width="73.8" height="74.3" rx="24" fill="#262324" stroke="#6f7071" stroke-width="5.2"/>
<line x1="2.9" y1="24.2" x2="27.1" y2="24.2" stroke="#6f7071" stroke-width="4.2" stroke-linecap="round"/>
<line x1="15.4" y1="5" x2="37.9" y2="19.2" stroke="#6f7071" stroke-width="4.2" stroke-linecap="round"/>
<line x1="52" y1="3.3" x2="54.6" y2="24.2" stroke="#6f7071" stroke-width="4.2" stroke-linecap="round"/>
<line x1="73.8" y1="23.3" x2="57.9" y2="40.8" stroke="#6f7071" stroke-width="4.2" stroke-linecap="round"/>
<line x1="74.6" y1="60" x2="54.6" y2="53.3" stroke="#6f7071" stroke-width="4.2" stroke-linecap="round"/>
<line x1="52" y1="75" x2="41.25" y2="58.3" stroke="#6f7071" stroke-width="4.2" stroke-linecap="round"/>
<line x1="17.9" y1="74.2" x2="24.6" y2="55" stroke="#6f7071" stroke-width="4.2" stroke-linecap="round"/>
<line x1="4.6" y1="55" x2="20.4" y2="37.5" stroke="#6f7071" stroke-width="4.2" stroke-linecap="round"/>
<circle cx="39.8" cy="39.5" r="20.5" fill="#69696b"/>
<circle cx="39.8" cy="39.5" r="17" fill="#707376"/>
</g>
<rect x="834.7" y="862" width="39" height="80" fill="#b9bcc0"/>
<line x1="834.7" y1="862" x2="834.7" y2="942" stroke="#222" stroke-width="1.4"/>
<line x1="873.7" y1="862" x2="873.7" y2="942" stroke="#222" stroke-width="1.4"/>
<polygon points="837.7,866 870.7,866 865.2,882 843.2,882" fill="#9a9da0" stroke="#222" stroke-width="1.1"/>
<circle cx="841.7" cy="871" r="1.3" fill="#eee"/>
<circle cx="866.7" cy="871" r="1.3" fill="#eee"/>
<circle cx="854.2" cy="882" r="13.9" fill="#707070" stroke="#2a2a2a" stroke-width="1"/>
<circle cx="854.2" cy="882" r="4.5" fill="#333"/>
<rect x="841.5" y="895" width="25" height="25" fill="#f7941d" stroke="#3a2200" stroke-width="1.2"/>
<rect x="841.5" y="914.5" width="25" height="5.5" fill="#fbb040" stroke="#3a2200" stroke-width="0.8"/>
<polygon points="849.2,901 859.2,901 854.2,908" fill="#231f20"/>
<circle cx="841.7" cy="932" r="3.2" fill="#8cd040" stroke="#1a7a2a" stroke-width="1"/>
<circle cx="866.2" cy="932" r="3.2" fill="#f0a080" stroke="#a03010" stroke-width="1"/>
<g transform="translate(854.2,931.5) scale(0.72)" fill="none" stroke="#f39a25" stroke-width="1.4" stroke-linejoin="round"><path d="M-3,12 L-6,3 L-8,-1 Q-8,-3 -6,-2 L-4,1 L-4,-7 Q-3,-9 -2,-7 L-1,-1 L0,-10 Q1,-12 2,-10 L2,-1 L4,-8 Q5,-10 6,-8 L5,0 L7,-5 Q8,-6 9,-4 L7,5 L4,12 Z"/><line x1="-10" y1="-8" x2="10" y2="7" stroke-width="3.2" stroke-linecap="round"/></g>
<g transform="translate(876.5,861) scale(1.01,1.01)">
<rect x="2.6" y="2.6" width="73.8" height="74.3" rx="24" fill="#262324" stroke="#6f7071" stroke-width="5.2"/>
<line x1="2.9" y1="24.2" x2="27.1" y2="24.2" stroke="#6f7071" stroke-width="4.2" stroke-linecap="round"/>
<line x1="15.4" y1="5" x2="37.9" y2="19.2" stroke="#6f7071" stroke-width="4.2" stroke-linecap="round"/>
<line x1="52" y1="3.3" x2="54.6" y2="24.2" stroke="#6f7071" stroke-width="4.2" stroke-linecap="round"/>
<line x1="73.8" y1="23.3" x2="57.9" y2="40.8" stroke="#6f7071" stroke-width="4.2" stroke-linecap="round"/>
<line x1="74.6" y1="60" x2="54.6" y2="53.3" stroke="#6f7071" stroke-width="4.2" stroke-linecap="round"/>
<line x1="52" y1="75" x2="41.25" y2="58.3" stroke="#6f7071" stroke-width="4.2" stroke-linecap="round"/>
<line x1="17.9" y1="74.2" x2="24.6" y2="55" stroke="#6f7071" stroke-width="4.2" stroke-linecap="round"/>
<line x1="4.6" y1="55" x2="20.4" y2="37.5" stroke="#6f7071" stroke-width="4.2" stroke-linecap="round"/>
<circle cx="39.8" cy="39.5" r="20.5" fill="#69696b"/>
<circle cx="39.8" cy="39.5" r="17" fill="#707376"/>
</g>
<g transform="translate(957.5,861) scale(1,1.01)">
<rect x="2.6" y="2.6" width="73.8" height="74.3" rx="24" fill="#262324" stroke="#6f7071" stroke-width="5.2"/>
<line x1="2.9" y1="24.2" x2="27.1" y2="24.2" stroke="#6f7071" stroke-width="4.2" stroke-linecap="round"/>
<line x1="15.4" y1="5" x2="37.9" y2="19.2" stroke="#6f7071" stroke-width="4.2" stroke-linecap="round"/>
<line x1="52" y1="3.3" x2="54.6" y2="24.2" stroke="#6f7071" stroke-width="4.2" stroke-linecap="round"/>
<line x1="73.8" y1="23.3" x2="57.9" y2="40.8" stroke="#6f7071" stroke-width="4.2" stroke-linecap="round"/>
<line x1="74.6" y1="60" x2="54.6" y2="53.3" stroke="#6f7071" stroke-width="4.2" stroke-linecap="round"/>
<line x1="52" y1="75" x2="41.25" y2="58.3" stroke="#6f7071" stroke-width="4.2" stroke-linecap="round"/>
<line x1="17.9" y1="74.2" x2="24.6" y2="55" stroke="#6f7071" stroke-width="4.2" stroke-linecap="round"/>
<line x1="4.6" y1="55" x2="20.4" y2="37.5" stroke="#6f7071" stroke-width="4.2" stroke-linecap="round"/>
<circle cx="39.8" cy="39.5" r="20.5" fill="#69696b"/>
<circle cx="39.8" cy="39.5" r="17" fill="#707376"/>
</g>
<rect x="1036" y="861.6" width="21" height="80" fill="#a6a6a8"/>
<rect x="1037.4" y="863.5" width="6.1" height="30.5" fill="#5cc8f0" stroke="#1a4a60" stroke-width="0.8"/>
<rect x="1037.4" y="894" width="6.1" height="33" fill="#f39a25" stroke="#5a3000" stroke-width="0.8"/>
<polygon points="1043.5,913 1039.5,914.5 1043.5,917" fill="#231f20"/>
<line x1="1044.3" y1="861.6" x2="1044.3" y2="941" stroke="#222" stroke-width="1"/>
<rect x="1045.5" y="862" width="10.7" height="79" fill="url(#metalg)"/>
<text x="1046" y="878.5" font-size="9.5" fill="#3a3a3a" textLength="9.5" lengthAdjust="spacingAndGlyphs">SP</text>
<text x="1045.8" y="904" font-size="15" fill="#231f20" textLength="9.5" lengthAdjust="spacingAndGlyphs">B</text>
<polygon points="1056.2,912 1045.5,919.5 1056.2,927" fill="#231f20"/>
<line x1="1034.5" y1="934.6" x2="1042.5" y2="934.6" stroke="#111" stroke-width="2"/>
<line x1="1038.5" y1="930.6" x2="1038.5" y2="938.6" stroke="#111" stroke-width="2"/>
</svg></body></html>
